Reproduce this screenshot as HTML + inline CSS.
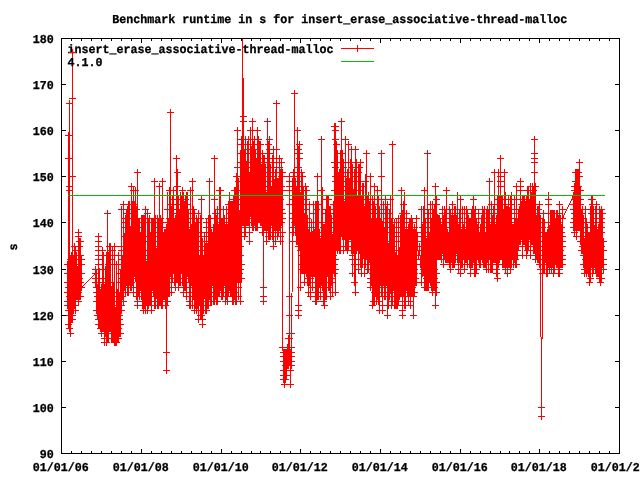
<!DOCTYPE html>
<html lang="en"><head><meta charset="utf-8"><title>Benchmark runtime in s for insert_erase_associative-thread-malloc</title><style>html,body{margin:0;padding:0;background:#fff;overflow:hidden}svg{display:block;will-change:transform}</style></head><body>
<svg width="640" height="480" viewBox="0 0 640 480">
<rect x="0" y="0" width="640" height="480" fill="#fff"/>
<defs><clipPath id="c"><rect x="61" y="38" width="559" height="416"/></clipPath></defs>
<g font-family="'Liberation Mono', 'DejaVu Sans Mono', monospace" font-weight="bold" font-size="12.1" fill="#000" stroke="#000" stroke-width="0.3" text-rendering="geometricPrecision"><text x="67.6" y="53" textLength="266" lengthAdjust="spacingAndGlyphs">insert_erase_associative-thread-malloc</text></g>
<g clip-path="url(#c)" shape-rendering="crispEdges" fill="none" stroke="#f00" stroke-width="1">
<path d="M67.5 292.5L67.5 305.5L67.5 282.5L67.5 305.5L67.5 273.5L67.5 264.5L67.5 301.5L67.5 305.5L67.5 301.5L68.5 305.5L68.5 315.5L68.5 324.5L68.5 324.5L68.5 264.5L68.5 135.5L68.5 264.5L68.5 310.5L68.5 287.5L68.5 158.5L69.5 287.5L69.5 190.5L69.5 328.5L69.5 264.5L69.5 103.5L69.5 282.5L69.5 328.5L69.5 315.5L69.5 296.5L69.5 292.5L69.5 186.5L70.5 333.5L70.5 310.5L70.5 305.5L70.5 292.5L70.5 259.5L70.5 305.5L70.5 278.5L70.5 259.5L70.5 269.5L71.5 315.5L71.5 264.5L71.5 259.5L71.5 278.5L71.5 287.5L71.5 287.5L71.5 255.5L71.5 319.5L72.5 310.5L72.5 176.5L72.5 278.5L72.5 319.5L72.5 278.5L72.5 98.5L72.5 287.5L72.5 52.5L72.5 315.5L72.5 296.5L72.5 287.5L73.5 287.5L73.5 282.5L73.5 259.5L73.5 292.5L73.5 282.5L73.5 259.5L73.5 310.5L73.5 273.5L74.5 287.5L74.5 296.5L74.5 296.5L74.5 246.5L74.5 287.5L74.5 278.5L74.5 305.5L74.5 305.5L75.5 305.5L75.5 296.5L75.5 264.5L75.5 310.5L75.5 250.5L75.5 282.5L75.5 278.5L75.5 310.5L76.5 269.5L76.5 296.5L76.5 255.5L76.5 255.5L76.5 296.5L76.5 255.5L76.5 292.5L76.5 282.5L77.5 296.5L77.5 287.5L77.5 292.5L77.5 273.5L77.5 296.5L77.5 269.5L77.5 296.5L77.5 282.5L78.5 292.5L78.5 259.5L78.5 296.5L78.5 278.5L78.5 236.5L78.5 301.5L78.5 264.5L78.5 282.5L78.5 278.5L78.5 232.5L79.5 296.5L79.5 278.5L79.5 241.5L79.5 296.5L79.5 246.5L79.5 264.5L79.5 296.5L79.5 241.5L80.5 273.5L80.5 264.5L80.5 241.5L80.5 255.5L80.5 296.5L80.5 255.5L80.5 282.5L80.5 241.5L80.5 296.5L81.5 273.5L81.5 273.5L81.5 264.5L81.5 264.5L81.5 273.5L81.5 259.5L81.5 287.5L81.5 259.5L81.5 287.5L95.5 273.5L95.5 282.5L95.5 278.5L95.5 278.5L95.5 269.5L95.5 269.5L95.5 282.5L95.5 282.5L95.5 273.5L95.5 282.5L96.5 292.5L96.5 273.5L96.5 287.5L96.5 282.5L96.5 310.5L96.5 273.5L96.5 310.5L96.5 301.5L96.5 287.5L97.5 315.5L97.5 310.5L97.5 310.5L97.5 315.5L97.5 287.5L97.5 287.5L97.5 296.5L97.5 287.5L97.5 310.5L98.5 292.5L98.5 264.5L98.5 264.5L98.5 269.5L98.5 287.5L98.5 324.5L98.5 250.5L98.5 246.5L98.5 324.5L98.5 287.5L98.5 319.5L98.5 255.5L98.5 259.5L98.5 269.5L98.5 236.5L98.5 241.5L99.5 292.5L99.5 282.5L99.5 296.5L99.5 296.5L99.5 310.5L99.5 319.5L99.5 301.5L99.5 319.5L99.5 324.5L100.5 319.5L100.5 328.5L100.5 296.5L100.5 319.5L100.5 292.5L100.5 301.5L100.5 324.5L100.5 301.5L100.5 315.5L101.5 310.5L101.5 315.5L101.5 296.5L101.5 292.5L101.5 296.5L101.5 333.5L101.5 287.5L101.5 333.5L101.5 305.5L102.5 310.5L102.5 301.5L102.5 324.5L102.5 310.5L102.5 250.5L102.5 296.5L102.5 296.5L102.5 319.5L102.5 328.5L102.5 305.5L103.5 292.5L103.5 301.5L103.5 255.5L103.5 305.5L103.5 287.5L103.5 278.5L103.5 310.5L103.5 296.5L103.5 328.5L103.5 328.5L104.5 305.5L104.5 319.5L104.5 342.5L104.5 328.5L104.5 338.5L104.5 315.5L104.5 292.5L104.5 301.5L104.5 338.5L104.5 287.5L105.5 319.5L105.5 296.5L105.5 305.5L105.5 315.5L105.5 333.5L105.5 269.5L105.5 319.5L105.5 282.5L105.5 269.5L106.5 342.5L106.5 269.5L106.5 338.5L106.5 301.5L106.5 255.5L106.5 310.5L106.5 287.5L106.5 255.5L106.5 301.5L107.5 315.5L107.5 338.5L107.5 213.5L107.5 338.5L107.5 310.5L107.5 315.5L107.5 333.5L107.5 292.5L107.5 305.5L107.5 328.5L108.5 338.5L108.5 319.5L108.5 282.5L108.5 328.5L108.5 292.5L108.5 264.5L108.5 255.5L108.5 305.5L108.5 255.5L109.5 328.5L109.5 287.5L109.5 328.5L109.5 246.5L109.5 315.5L109.5 287.5L109.5 287.5L109.5 328.5L109.5 324.5L109.5 328.5L110.5 255.5L110.5 246.5L110.5 319.5L110.5 319.5L110.5 259.5L110.5 255.5L110.5 328.5L110.5 292.5L110.5 250.5L111.5 328.5L111.5 315.5L111.5 338.5L111.5 333.5L111.5 296.5L111.5 296.5L111.5 296.5L111.5 338.5L111.5 324.5L112.5 250.5L112.5 333.5L112.5 305.5L112.5 305.5L112.5 301.5L112.5 319.5L112.5 301.5L112.5 305.5L112.5 338.5L112.5 319.5L113.5 333.5L113.5 315.5L113.5 338.5L113.5 338.5L113.5 333.5L113.5 338.5L113.5 315.5L113.5 319.5L113.5 319.5L114.5 246.5L114.5 333.5L114.5 310.5L114.5 292.5L114.5 296.5L114.5 324.5L114.5 310.5L114.5 292.5L114.5 315.5L114.5 342.5L115.5 315.5L115.5 338.5L115.5 338.5L115.5 319.5L115.5 319.5L115.5 315.5L115.5 310.5L115.5 342.5L115.5 315.5L116.5 342.5L116.5 342.5L116.5 264.5L116.5 296.5L116.5 315.5L116.5 305.5L116.5 296.5L116.5 319.5L116.5 305.5L116.5 315.5L117.5 319.5L117.5 319.5L117.5 319.5L117.5 292.5L117.5 292.5L117.5 292.5L117.5 310.5L117.5 338.5L117.5 319.5L118.5 324.5L118.5 324.5L118.5 301.5L118.5 255.5L118.5 310.5L118.5 301.5L118.5 315.5L118.5 305.5L118.5 328.5L118.5 338.5L119.5 333.5L119.5 310.5L119.5 315.5L119.5 301.5L119.5 333.5L119.5 319.5L119.5 296.5L119.5 305.5L119.5 315.5L120.5 273.5L120.5 333.5L120.5 333.5L120.5 324.5L120.5 333.5L120.5 273.5L120.5 282.5L120.5 273.5L120.5 305.5L121.5 273.5L121.5 264.5L121.5 301.5L121.5 250.5L121.5 305.5L121.5 259.5L121.5 209.5L121.5 246.5L121.5 310.5L121.5 259.5L122.5 278.5L122.5 296.5L122.5 259.5L122.5 292.5L122.5 259.5L122.5 259.5L122.5 292.5L122.5 269.5L122.5 292.5L123.5 278.5L123.5 204.5L123.5 287.5L123.5 264.5L123.5 264.5L123.5 287.5L123.5 301.5L123.5 287.5L123.5 259.5L123.5 269.5L124.5 273.5L124.5 264.5L124.5 255.5L124.5 287.5L124.5 259.5L124.5 236.5L124.5 236.5L124.5 287.5L124.5 236.5L125.5 259.5L125.5 222.5L125.5 227.5L125.5 292.5L125.5 259.5L125.5 218.5L125.5 255.5L125.5 250.5L125.5 278.5L126.5 213.5L126.5 222.5L126.5 278.5L126.5 278.5L126.5 259.5L126.5 264.5L126.5 227.5L126.5 218.5L126.5 282.5L127.5 209.5L127.5 292.5L127.5 227.5L127.5 236.5L127.5 241.5L127.5 278.5L127.5 246.5L127.5 292.5L127.5 269.5L128.5 292.5L128.5 264.5L128.5 213.5L128.5 227.5L128.5 246.5L128.5 241.5L128.5 209.5L128.5 204.5L128.5 241.5L128.5 264.5L129.5 246.5L129.5 236.5L129.5 236.5L129.5 232.5L129.5 246.5L129.5 236.5L129.5 278.5L129.5 204.5L129.5 282.5L130.5 287.5L130.5 236.5L130.5 255.5L130.5 278.5L130.5 278.5L130.5 255.5L130.5 287.5L130.5 259.5L130.5 269.5L131.5 186.5L131.5 255.5L131.5 278.5L131.5 218.5L131.5 204.5L131.5 227.5L131.5 264.5L131.5 209.5L131.5 287.5L131.5 282.5L132.5 204.5L132.5 255.5L132.5 246.5L132.5 259.5L132.5 213.5L132.5 218.5L132.5 213.5L132.5 246.5L132.5 278.5L133.5 292.5L133.5 259.5L133.5 259.5L133.5 273.5L133.5 250.5L133.5 218.5L133.5 259.5L133.5 190.5L133.5 264.5L133.5 269.5L134.5 204.5L134.5 232.5L134.5 241.5L134.5 269.5L134.5 259.5L134.5 269.5L134.5 209.5L134.5 273.5L134.5 222.5L135.5 227.5L135.5 236.5L135.5 236.5L135.5 278.5L135.5 232.5L135.5 255.5L135.5 190.5L135.5 273.5L135.5 222.5L135.5 278.5L136.5 218.5L136.5 227.5L136.5 255.5L136.5 296.5L136.5 209.5L136.5 287.5L136.5 269.5L136.5 209.5L136.5 292.5L137.5 264.5L137.5 255.5L137.5 301.5L137.5 222.5L137.5 305.5L137.5 246.5L137.5 172.5L137.5 222.5L137.5 246.5L137.5 264.5L138.5 269.5L138.5 241.5L138.5 222.5L138.5 292.5L138.5 236.5L138.5 287.5L138.5 227.5L138.5 292.5L138.5 273.5L139.5 296.5L139.5 278.5L139.5 287.5L139.5 269.5L139.5 282.5L139.5 241.5L139.5 222.5L139.5 227.5L139.5 255.5L140.5 255.5L140.5 273.5L140.5 246.5L140.5 287.5L140.5 236.5L140.5 278.5L140.5 259.5L140.5 246.5L140.5 246.5L141.5 218.5L141.5 296.5L141.5 282.5L141.5 218.5L141.5 292.5L141.5 241.5L141.5 255.5L141.5 232.5L141.5 250.5L142.5 273.5L142.5 241.5L142.5 282.5L142.5 218.5L142.5 218.5L142.5 241.5L142.5 241.5L142.5 236.5L142.5 305.5L143.5 305.5L143.5 301.5L143.5 218.5L143.5 264.5L143.5 236.5L143.5 236.5L143.5 255.5L143.5 218.5L143.5 310.5L144.5 218.5L144.5 218.5L144.5 287.5L144.5 305.5L144.5 269.5L144.5 269.5L144.5 259.5L144.5 282.5L144.5 241.5L145.5 218.5L145.5 209.5L145.5 273.5L145.5 255.5L145.5 218.5L145.5 273.5L145.5 287.5L145.5 310.5L145.5 287.5L145.5 264.5L146.5 278.5L146.5 278.5L146.5 301.5L146.5 301.5L146.5 287.5L146.5 264.5L146.5 292.5L146.5 269.5L146.5 296.5L147.5 278.5L147.5 236.5L147.5 241.5L147.5 236.5L147.5 259.5L147.5 305.5L147.5 213.5L147.5 292.5L147.5 310.5L147.5 305.5L148.5 282.5L148.5 305.5L148.5 305.5L148.5 241.5L148.5 222.5L148.5 236.5L148.5 287.5L148.5 273.5L148.5 287.5L149.5 264.5L149.5 259.5L149.5 236.5L149.5 218.5L149.5 250.5L149.5 287.5L149.5 301.5L149.5 269.5L149.5 236.5L149.5 292.5L150.5 301.5L150.5 259.5L150.5 287.5L150.5 292.5L150.5 264.5L150.5 255.5L150.5 236.5L150.5 273.5L150.5 287.5L151.5 287.5L151.5 301.5L151.5 269.5L151.5 292.5L151.5 264.5L151.5 310.5L151.5 236.5L151.5 222.5L151.5 236.5L151.5 278.5L152.5 250.5L152.5 222.5L152.5 282.5L152.5 278.5L152.5 287.5L152.5 287.5L152.5 222.5L152.5 222.5L152.5 273.5L153.5 232.5L153.5 259.5L153.5 222.5L153.5 292.5L153.5 292.5L153.5 222.5L153.5 250.5L153.5 222.5L153.5 292.5L154.5 296.5L154.5 305.5L154.5 301.5L154.5 222.5L154.5 301.5L154.5 181.5L154.5 301.5L154.5 305.5L154.5 305.5L154.5 287.5L155.5 264.5L155.5 305.5L155.5 278.5L155.5 292.5L155.5 292.5L155.5 287.5L155.5 296.5L155.5 218.5L155.5 236.5L156.5 259.5L156.5 292.5L156.5 255.5L156.5 264.5L156.5 292.5L156.5 264.5L156.5 273.5L156.5 255.5L156.5 292.5L157.5 305.5L157.5 218.5L157.5 264.5L157.5 305.5L157.5 255.5L157.5 292.5L157.5 301.5L157.5 236.5L157.5 278.5L158.5 236.5L158.5 282.5L158.5 273.5L158.5 227.5L158.5 222.5L158.5 296.5L158.5 236.5L158.5 305.5L158.5 292.5L159.5 236.5L159.5 269.5L159.5 222.5L159.5 301.5L159.5 246.5L159.5 241.5L159.5 227.5L159.5 278.5L159.5 222.5L159.5 186.5L160.5 255.5L160.5 218.5L160.5 218.5L160.5 269.5L160.5 236.5L160.5 282.5L160.5 301.5L160.5 269.5L160.5 264.5L161.5 282.5L161.5 287.5L161.5 287.5L161.5 292.5L161.5 278.5L161.5 222.5L161.5 305.5L161.5 292.5L161.5 250.5L162.5 305.5L162.5 246.5L162.5 181.5L162.5 287.5L162.5 305.5L162.5 232.5L162.5 264.5L162.5 241.5L162.5 273.5L162.5 227.5L163.5 292.5L163.5 296.5L163.5 236.5L163.5 273.5L163.5 278.5L163.5 269.5L163.5 246.5L163.5 264.5L163.5 250.5L164.5 287.5L164.5 241.5L164.5 273.5L164.5 250.5L164.5 296.5L164.5 232.5L164.5 236.5L164.5 232.5L164.5 296.5L165.5 236.5L165.5 305.5L165.5 241.5L165.5 232.5L165.5 232.5L165.5 305.5L165.5 232.5L165.5 278.5L165.5 255.5L166.5 227.5L166.5 292.5L166.5 370.5L166.5 241.5L166.5 241.5L166.5 301.5L166.5 246.5L166.5 246.5L166.5 301.5L166.5 296.5L166.5 352.5L167.5 195.5L167.5 195.5L167.5 222.5L167.5 301.5L167.5 273.5L167.5 292.5L167.5 209.5L167.5 209.5L167.5 232.5L168.5 255.5L168.5 292.5L168.5 236.5L168.5 222.5L168.5 232.5L168.5 222.5L168.5 255.5L168.5 292.5L168.5 269.5L169.5 246.5L169.5 209.5L169.5 287.5L169.5 282.5L169.5 236.5L169.5 273.5L169.5 292.5L169.5 218.5L169.5 190.5L170.5 255.5L170.5 218.5L170.5 250.5L170.5 204.5L170.5 246.5L170.5 209.5L170.5 112.5L170.5 222.5L170.5 250.5L170.5 273.5L171.5 222.5L171.5 232.5L171.5 259.5L171.5 209.5L171.5 273.5L171.5 255.5L171.5 292.5L171.5 222.5L171.5 278.5L172.5 213.5L172.5 278.5L172.5 218.5L172.5 218.5L172.5 236.5L172.5 269.5L172.5 227.5L172.5 255.5L172.5 199.5L173.5 269.5L173.5 199.5L173.5 255.5L173.5 250.5L173.5 222.5L173.5 264.5L173.5 190.5L173.5 209.5L173.5 241.5L173.5 218.5L174.5 259.5L174.5 250.5L174.5 222.5L174.5 255.5L174.5 246.5L174.5 222.5L174.5 222.5L174.5 282.5L174.5 264.5L175.5 246.5L175.5 232.5L175.5 282.5L175.5 282.5L175.5 287.5L175.5 287.5L175.5 232.5L175.5 273.5L175.5 218.5L176.5 273.5L176.5 264.5L176.5 209.5L176.5 264.5L176.5 278.5L176.5 255.5L176.5 218.5L176.5 158.5L176.5 278.5L176.5 255.5L177.5 172.5L177.5 195.5L177.5 209.5L177.5 264.5L177.5 273.5L177.5 195.5L177.5 186.5L177.5 278.5L177.5 273.5L177.5 204.5L178.5 218.5L178.5 269.5L178.5 287.5L178.5 287.5L178.5 287.5L178.5 199.5L178.5 227.5L178.5 259.5L178.5 287.5L179.5 282.5L179.5 259.5L179.5 278.5L179.5 213.5L179.5 273.5L179.5 241.5L179.5 264.5L179.5 213.5L179.5 232.5L180.5 195.5L180.5 259.5L180.5 213.5L180.5 278.5L180.5 232.5L180.5 195.5L180.5 282.5L180.5 195.5L180.5 236.5L181.5 227.5L181.5 269.5L181.5 222.5L181.5 232.5L181.5 232.5L181.5 264.5L181.5 222.5L181.5 204.5L181.5 199.5L182.5 190.5L182.5 282.5L182.5 218.5L182.5 246.5L182.5 282.5L182.5 246.5L182.5 236.5L182.5 250.5L182.5 241.5L182.5 199.5L183.5 292.5L183.5 264.5L183.5 213.5L183.5 259.5L183.5 204.5L183.5 195.5L183.5 250.5L183.5 236.5L183.5 222.5L184.5 232.5L184.5 250.5L184.5 278.5L184.5 204.5L184.5 204.5L184.5 213.5L184.5 287.5L184.5 213.5L184.5 255.5L185.5 213.5L185.5 255.5L185.5 282.5L185.5 199.5L185.5 269.5L185.5 232.5L185.5 236.5L185.5 287.5L185.5 218.5L186.5 292.5L186.5 204.5L186.5 269.5L186.5 269.5L186.5 227.5L186.5 213.5L186.5 195.5L186.5 213.5L186.5 296.5L186.5 213.5L187.5 264.5L187.5 273.5L187.5 222.5L187.5 218.5L187.5 195.5L187.5 269.5L187.5 195.5L187.5 269.5L187.5 273.5L188.5 278.5L188.5 269.5L188.5 250.5L188.5 246.5L188.5 269.5L188.5 218.5L188.5 213.5L188.5 232.5L188.5 241.5L189.5 305.5L189.5 232.5L189.5 305.5L189.5 236.5L189.5 232.5L189.5 292.5L189.5 287.5L189.5 259.5L189.5 301.5L190.5 241.5L190.5 282.5L190.5 190.5L190.5 287.5L190.5 209.5L190.5 305.5L190.5 273.5L190.5 236.5L190.5 195.5L190.5 250.5L191.5 236.5L191.5 282.5L191.5 250.5L191.5 259.5L191.5 227.5L191.5 282.5L191.5 259.5L191.5 255.5L191.5 278.5L192.5 287.5L192.5 181.5L192.5 305.5L192.5 273.5L192.5 305.5L192.5 218.5L192.5 269.5L192.5 246.5L192.5 287.5L192.5 246.5L193.5 269.5L193.5 255.5L193.5 282.5L193.5 269.5L193.5 259.5L193.5 209.5L193.5 296.5L193.5 218.5L193.5 227.5L194.5 218.5L194.5 292.5L194.5 310.5L194.5 227.5L194.5 213.5L194.5 273.5L194.5 246.5L194.5 250.5L194.5 292.5L194.5 218.5L195.5 227.5L195.5 232.5L195.5 296.5L195.5 282.5L195.5 296.5L195.5 278.5L195.5 305.5L195.5 282.5L195.5 273.5L196.5 259.5L196.5 305.5L196.5 236.5L196.5 269.5L196.5 236.5L196.5 250.5L196.5 218.5L196.5 310.5L196.5 264.5L197.5 222.5L197.5 282.5L197.5 301.5L197.5 255.5L197.5 305.5L197.5 255.5L197.5 222.5L197.5 305.5L197.5 255.5L198.5 319.5L198.5 292.5L198.5 213.5L198.5 264.5L198.5 246.5L198.5 264.5L198.5 236.5L198.5 259.5L198.5 278.5L198.5 236.5L198.5 296.5L199.5 259.5L199.5 259.5L199.5 287.5L199.5 301.5L199.5 269.5L199.5 264.5L199.5 259.5L199.5 282.5L199.5 301.5L200.5 218.5L200.5 232.5L200.5 315.5L200.5 296.5L200.5 282.5L200.5 236.5L200.5 282.5L200.5 218.5L200.5 296.5L201.5 255.5L201.5 264.5L201.5 255.5L201.5 199.5L201.5 315.5L201.5 292.5L201.5 301.5L201.5 250.5L201.5 273.5L201.5 287.5L202.5 246.5L202.5 319.5L202.5 324.5L202.5 296.5L202.5 292.5L202.5 241.5L202.5 310.5L202.5 259.5L202.5 324.5L202.5 273.5L202.5 305.5L203.5 273.5L203.5 292.5L203.5 305.5L203.5 310.5L203.5 269.5L203.5 264.5L203.5 305.5L203.5 310.5L203.5 259.5L204.5 273.5L204.5 236.5L204.5 255.5L204.5 292.5L204.5 259.5L204.5 255.5L204.5 282.5L204.5 250.5L204.5 287.5L205.5 310.5L205.5 296.5L205.5 246.5L205.5 278.5L205.5 269.5L205.5 269.5L205.5 282.5L205.5 259.5L205.5 264.5L206.5 227.5L206.5 222.5L206.5 310.5L206.5 310.5L206.5 259.5L206.5 232.5L206.5 255.5L206.5 255.5L206.5 287.5L207.5 246.5L207.5 301.5L207.5 273.5L207.5 264.5L207.5 305.5L207.5 259.5L207.5 246.5L207.5 305.5L207.5 282.5L208.5 218.5L208.5 218.5L208.5 292.5L208.5 269.5L208.5 232.5L208.5 287.5L208.5 269.5L208.5 305.5L208.5 236.5L209.5 278.5L209.5 269.5L209.5 296.5L209.5 264.5L209.5 264.5L209.5 273.5L209.5 181.5L209.5 250.5L209.5 278.5L209.5 273.5L210.5 282.5L210.5 218.5L210.5 269.5L210.5 218.5L210.5 218.5L210.5 292.5L210.5 301.5L210.5 246.5L210.5 241.5L211.5 236.5L211.5 259.5L211.5 246.5L211.5 241.5L211.5 296.5L211.5 250.5L211.5 241.5L211.5 301.5L211.5 232.5L212.5 269.5L212.5 255.5L212.5 236.5L212.5 255.5L212.5 250.5L212.5 273.5L212.5 250.5L212.5 282.5L212.5 241.5L213.5 259.5L213.5 259.5L213.5 227.5L213.5 241.5L213.5 227.5L213.5 227.5L213.5 301.5L213.5 278.5L213.5 255.5L214.5 264.5L214.5 236.5L214.5 250.5L214.5 301.5L214.5 250.5L214.5 301.5L214.5 301.5L214.5 282.5L214.5 199.5L214.5 236.5L214.5 158.5L215.5 259.5L215.5 296.5L215.5 292.5L215.5 241.5L215.5 232.5L215.5 287.5L215.5 287.5L215.5 213.5L215.5 259.5L215.5 292.5L216.5 264.5L216.5 296.5L216.5 264.5L216.5 292.5L216.5 278.5L216.5 301.5L216.5 218.5L216.5 218.5L216.5 287.5L217.5 241.5L217.5 301.5L217.5 278.5L217.5 259.5L217.5 292.5L217.5 301.5L217.5 236.5L217.5 292.5L217.5 236.5L217.5 209.5L218.5 282.5L218.5 292.5L218.5 236.5L218.5 278.5L218.5 227.5L218.5 292.5L218.5 282.5L218.5 287.5L218.5 232.5L219.5 232.5L219.5 236.5L219.5 264.5L219.5 227.5L219.5 259.5L219.5 292.5L219.5 278.5L219.5 190.5L219.5 241.5L219.5 222.5L220.5 190.5L220.5 222.5L220.5 232.5L220.5 278.5L220.5 287.5L220.5 255.5L220.5 255.5L220.5 232.5L220.5 227.5L220.5 250.5L221.5 241.5L221.5 264.5L221.5 246.5L221.5 222.5L221.5 259.5L221.5 278.5L221.5 232.5L221.5 222.5L221.5 296.5L222.5 282.5L222.5 269.5L222.5 273.5L222.5 250.5L222.5 287.5L222.5 222.5L222.5 296.5L222.5 264.5L222.5 287.5L223.5 236.5L223.5 292.5L223.5 227.5L223.5 209.5L223.5 250.5L223.5 269.5L223.5 273.5L223.5 241.5L223.5 255.5L223.5 218.5L224.5 282.5L224.5 282.5L224.5 282.5L224.5 255.5L224.5 218.5L224.5 236.5L224.5 269.5L224.5 232.5L224.5 232.5L225.5 301.5L225.5 232.5L225.5 227.5L225.5 301.5L225.5 241.5L225.5 287.5L225.5 250.5L225.5 227.5L225.5 264.5L226.5 296.5L226.5 209.5L226.5 259.5L226.5 287.5L226.5 236.5L226.5 241.5L226.5 246.5L226.5 264.5L226.5 209.5L227.5 273.5L227.5 278.5L227.5 264.5L227.5 227.5L227.5 296.5L227.5 227.5L227.5 301.5L227.5 232.5L227.5 282.5L228.5 273.5L228.5 204.5L228.5 273.5L228.5 259.5L228.5 259.5L228.5 292.5L228.5 292.5L228.5 222.5L228.5 222.5L229.5 259.5L229.5 273.5L229.5 232.5L229.5 269.5L229.5 264.5L229.5 195.5L229.5 287.5L229.5 246.5L229.5 222.5L229.5 218.5L230.5 250.5L230.5 292.5L230.5 204.5L230.5 269.5L230.5 241.5L230.5 282.5L230.5 213.5L230.5 292.5L230.5 287.5L231.5 255.5L231.5 273.5L231.5 287.5L231.5 204.5L231.5 246.5L231.5 269.5L231.5 246.5L231.5 292.5L231.5 269.5L231.5 292.5L232.5 227.5L232.5 204.5L232.5 204.5L232.5 259.5L232.5 287.5L232.5 209.5L232.5 301.5L232.5 213.5L232.5 278.5L233.5 209.5L233.5 199.5L233.5 199.5L233.5 241.5L233.5 273.5L233.5 296.5L233.5 232.5L233.5 301.5L233.5 246.5L234.5 190.5L234.5 227.5L234.5 246.5L234.5 269.5L234.5 232.5L234.5 296.5L234.5 292.5L234.5 269.5L234.5 222.5L234.5 296.5L235.5 190.5L235.5 241.5L235.5 282.5L235.5 259.5L235.5 301.5L235.5 269.5L235.5 301.5L235.5 255.5L235.5 246.5L235.5 278.5L236.5 255.5L236.5 301.5L236.5 241.5L236.5 176.5L236.5 282.5L236.5 232.5L236.5 250.5L236.5 259.5L236.5 259.5L236.5 232.5L237.5 264.5L237.5 250.5L237.5 236.5L237.5 130.5L237.5 213.5L237.5 255.5L237.5 246.5L237.5 167.5L237.5 278.5L237.5 259.5L237.5 241.5L238.5 264.5L238.5 232.5L238.5 236.5L238.5 222.5L238.5 282.5L238.5 287.5L238.5 222.5L238.5 296.5L238.5 181.5L238.5 287.5L239.5 246.5L239.5 273.5L239.5 255.5L239.5 278.5L239.5 222.5L239.5 269.5L239.5 264.5L239.5 213.5L239.5 236.5L240.5 255.5L240.5 199.5L240.5 246.5L240.5 195.5L240.5 278.5L240.5 301.5L240.5 204.5L240.5 269.5L240.5 153.5L241.5 264.5L241.5 278.5L241.5 232.5L241.5 264.5L241.5 139.5L241.5 199.5L241.5 162.5L241.5 144.5L241.5 190.5L241.5 227.5L242.5 181.5L242.5 139.5L242.5 204.5L242.5 222.5L242.5 199.5L242.5 167.5L242.5 139.5L242.5 204.5L242.5 144.5L243.5 116.5L243.5 121.5L243.5 222.5L243.5 176.5L243.5 181.5L243.5 213.5L243.5 181.5L243.5 218.5L243.5 176.5L243.5 176.5L243.5 222.5L244.5 186.5L244.5 213.5L244.5 236.5L244.5 153.5L244.5 232.5L244.5 218.5L244.5 153.5L244.5 172.5L244.5 209.5L245.5 227.5L245.5 139.5L245.5 144.5L245.5 232.5L245.5 195.5L245.5 213.5L245.5 176.5L245.5 213.5L245.5 139.5L246.5 181.5L246.5 195.5L246.5 209.5L246.5 199.5L246.5 181.5L246.5 218.5L246.5 204.5L246.5 222.5L246.5 218.5L247.5 222.5L247.5 172.5L247.5 144.5L247.5 176.5L247.5 149.5L247.5 172.5L247.5 153.5L247.5 190.5L247.5 190.5L248.5 139.5L248.5 195.5L248.5 222.5L248.5 139.5L248.5 213.5L248.5 186.5L248.5 139.5L248.5 176.5L248.5 144.5L249.5 213.5L249.5 176.5L249.5 195.5L249.5 241.5L249.5 213.5L249.5 232.5L249.5 232.5L249.5 186.5L249.5 222.5L249.5 176.5L250.5 213.5L250.5 172.5L250.5 209.5L250.5 190.5L250.5 204.5L250.5 172.5L250.5 213.5L250.5 130.5L250.5 209.5L250.5 167.5L251.5 213.5L251.5 222.5L251.5 176.5L251.5 176.5L251.5 162.5L251.5 149.5L251.5 199.5L251.5 218.5L251.5 218.5L252.5 139.5L252.5 204.5L252.5 199.5L252.5 227.5L252.5 209.5L252.5 218.5L252.5 181.5L252.5 209.5L252.5 121.5L252.5 227.5L253.5 162.5L253.5 227.5L253.5 149.5L253.5 222.5L253.5 190.5L253.5 144.5L253.5 149.5L253.5 158.5L253.5 186.5L254.5 213.5L254.5 139.5L254.5 204.5L254.5 209.5L254.5 222.5L254.5 144.5L254.5 218.5L254.5 222.5L254.5 167.5L255.5 162.5L255.5 172.5L255.5 195.5L255.5 158.5L255.5 162.5L255.5 176.5L255.5 199.5L255.5 227.5L255.5 153.5L256.5 227.5L256.5 199.5L256.5 199.5L256.5 199.5L256.5 162.5L256.5 162.5L256.5 213.5L256.5 162.5L256.5 186.5L257.5 144.5L257.5 190.5L257.5 227.5L257.5 158.5L257.5 199.5L257.5 144.5L257.5 204.5L257.5 130.5L257.5 167.5L257.5 186.5L258.5 153.5L258.5 153.5L258.5 190.5L258.5 190.5L258.5 218.5L258.5 213.5L258.5 167.5L258.5 139.5L258.5 213.5L259.5 195.5L259.5 172.5L259.5 204.5L259.5 158.5L259.5 218.5L259.5 153.5L259.5 144.5L259.5 162.5L259.5 209.5L260.5 222.5L260.5 213.5L260.5 218.5L260.5 222.5L260.5 144.5L260.5 162.5L260.5 209.5L260.5 190.5L260.5 176.5L261.5 209.5L261.5 218.5L261.5 199.5L261.5 167.5L261.5 199.5L261.5 190.5L261.5 218.5L261.5 222.5L261.5 186.5L262.5 153.5L262.5 181.5L262.5 232.5L262.5 153.5L262.5 227.5L262.5 158.5L262.5 232.5L262.5 172.5L262.5 195.5L263.5 232.5L263.5 232.5L263.5 213.5L263.5 301.5L263.5 296.5L263.5 158.5L263.5 172.5L263.5 199.5L263.5 176.5L263.5 213.5L263.5 287.5L263.5 176.5L264.5 162.5L264.5 227.5L264.5 158.5L264.5 181.5L264.5 158.5L264.5 227.5L264.5 162.5L264.5 158.5L264.5 181.5L265.5 227.5L265.5 167.5L265.5 213.5L265.5 222.5L265.5 204.5L265.5 172.5L265.5 190.5L265.5 181.5L265.5 181.5L266.5 204.5L266.5 218.5L266.5 241.5L266.5 218.5L266.5 195.5L266.5 204.5L266.5 227.5L266.5 204.5L266.5 232.5L267.5 199.5L267.5 121.5L267.5 227.5L267.5 199.5L267.5 222.5L267.5 181.5L267.5 209.5L267.5 222.5L267.5 218.5L267.5 204.5L268.5 236.5L268.5 181.5L268.5 172.5L268.5 199.5L268.5 144.5L268.5 204.5L268.5 181.5L268.5 227.5L268.5 186.5L268.5 227.5L269.5 158.5L269.5 153.5L269.5 213.5L269.5 195.5L269.5 139.5L269.5 149.5L269.5 199.5L269.5 190.5L269.5 199.5L269.5 236.5L270.5 195.5L270.5 167.5L270.5 232.5L270.5 232.5L270.5 176.5L270.5 172.5L270.5 236.5L270.5 186.5L270.5 181.5L271.5 218.5L271.5 199.5L271.5 222.5L271.5 218.5L271.5 199.5L271.5 209.5L271.5 190.5L271.5 190.5L271.5 218.5L272.5 162.5L272.5 172.5L272.5 236.5L272.5 236.5L272.5 181.5L272.5 227.5L272.5 167.5L272.5 158.5L272.5 218.5L273.5 246.5L273.5 236.5L273.5 236.5L273.5 176.5L273.5 246.5L273.5 149.5L273.5 218.5L273.5 232.5L273.5 162.5L274.5 195.5L274.5 227.5L274.5 209.5L274.5 204.5L274.5 218.5L274.5 218.5L274.5 213.5L274.5 204.5L274.5 227.5L275.5 172.5L275.5 209.5L275.5 199.5L275.5 241.5L275.5 181.5L275.5 186.5L275.5 222.5L275.5 213.5L275.5 204.5L276.5 227.5L276.5 103.5L276.5 167.5L276.5 227.5L276.5 149.5L276.5 218.5L276.5 149.5L276.5 222.5L276.5 181.5L276.5 149.5L277.5 222.5L277.5 204.5L277.5 204.5L277.5 209.5L277.5 186.5L277.5 222.5L277.5 236.5L277.5 181.5L277.5 236.5L278.5 222.5L278.5 218.5L278.5 218.5L278.5 213.5L278.5 195.5L278.5 190.5L278.5 222.5L278.5 232.5L278.5 199.5L279.5 158.5L279.5 204.5L279.5 209.5L279.5 162.5L279.5 227.5L279.5 209.5L279.5 222.5L279.5 222.5L279.5 167.5L280.5 172.5L280.5 209.5L280.5 236.5L280.5 186.5L280.5 195.5L280.5 199.5L280.5 222.5L280.5 186.5L280.5 241.5L281.5 186.5L281.5 162.5L281.5 176.5L281.5 209.5L281.5 218.5L281.5 176.5L281.5 218.5L281.5 222.5L281.5 186.5L282.5 172.5L282.5 213.5L282.5 176.5L282.5 232.5L282.5 176.5L282.5 190.5L282.5 232.5L282.5 218.5L282.5 172.5L282.5 347.5L283.5 352.5L283.5 370.5L283.5 356.5L283.5 375.5L283.5 361.5L283.5 379.5L283.5 356.5L283.5 370.5L284.5 375.5L284.5 356.5L284.5 384.5L284.5 361.5L284.5 379.5L284.5 352.5L284.5 370.5L284.5 379.5L285.5 365.5L285.5 379.5L285.5 356.5L285.5 375.5L285.5 361.5L285.5 375.5L285.5 352.5L285.5 370.5L286.5 365.5L286.5 352.5L286.5 370.5L286.5 361.5L286.5 375.5L286.5 356.5L286.5 370.5L286.5 361.5L287.5 347.5L287.5 365.5L287.5 352.5L287.5 361.5L287.5 347.5L287.5 361.5L287.5 347.5L287.5 365.5L288.5 361.5L288.5 338.5L288.5 365.5L288.5 347.5L288.5 361.5L288.5 352.5L288.5 361.5L288.5 347.5L289.5 361.5L289.5 347.5L289.5 361.5L289.5 333.5L289.5 315.5L289.5 296.5L289.5 204.5L289.5 195.5L289.5 190.5L289.5 186.5L289.5 181.5L289.5 176.5L289.5 195.5L289.5 338.5L290.5 361.5L290.5 384.5L290.5 352.5L290.5 365.5L290.5 356.5L290.5 370.5L291.5 356.5L291.5 365.5L291.5 347.5L291.5 361.5L291.5 352.5L291.5 365.5L291.5 333.5L291.5 347.5L292.5 241.5L292.5 213.5L292.5 181.5L292.5 218.5L292.5 186.5L292.5 213.5L292.5 241.5L292.5 232.5L292.5 241.5L293.5 199.5L293.5 176.5L293.5 195.5L293.5 227.5L293.5 172.5L293.5 199.5L293.5 232.5L293.5 232.5L293.5 232.5L294.5 213.5L294.5 181.5L294.5 213.5L294.5 222.5L294.5 93.5L294.5 176.5L294.5 172.5L294.5 190.5L294.5 172.5L294.5 190.5L295.5 190.5L295.5 181.5L295.5 195.5L295.5 186.5L295.5 186.5L295.5 195.5L295.5 232.5L295.5 213.5L295.5 181.5L296.5 241.5L296.5 213.5L296.5 213.5L296.5 190.5L296.5 195.5L296.5 241.5L296.5 190.5L296.5 195.5L296.5 195.5L297.5 176.5L297.5 227.5L297.5 130.5L297.5 153.5L297.5 181.5L297.5 172.5L297.5 199.5L297.5 153.5L297.5 181.5L297.5 241.5L298.5 149.5L298.5 305.5L298.5 186.5L298.5 310.5L298.5 218.5L298.5 246.5L298.5 232.5L298.5 315.5L298.5 167.5L298.5 149.5L298.5 213.5L298.5 181.5L299.5 190.5L299.5 246.5L299.5 246.5L299.5 144.5L299.5 153.5L299.5 172.5L299.5 222.5L299.5 218.5L299.5 172.5L299.5 158.5L300.5 287.5L300.5 236.5L300.5 222.5L300.5 199.5L300.5 246.5L300.5 241.5L300.5 250.5L300.5 195.5L300.5 246.5L301.5 204.5L301.5 213.5L301.5 190.5L301.5 195.5L301.5 269.5L301.5 255.5L301.5 172.5L301.5 172.5L301.5 227.5L302.5 246.5L302.5 269.5L302.5 195.5L302.5 176.5L302.5 186.5L302.5 213.5L302.5 264.5L302.5 176.5L302.5 232.5L303.5 264.5L303.5 232.5L303.5 246.5L303.5 199.5L303.5 222.5L303.5 218.5L303.5 269.5L303.5 190.5L303.5 190.5L304.5 264.5L304.5 273.5L304.5 282.5L304.5 259.5L304.5 255.5L304.5 227.5L304.5 227.5L304.5 264.5L304.5 232.5L305.5 195.5L305.5 186.5L305.5 269.5L305.5 190.5L305.5 255.5L305.5 246.5L305.5 204.5L305.5 209.5L305.5 241.5L305.5 232.5L306.5 232.5L306.5 209.5L306.5 190.5L306.5 273.5L306.5 273.5L306.5 199.5L306.5 269.5L306.5 236.5L306.5 259.5L307.5 218.5L307.5 227.5L307.5 264.5L307.5 218.5L307.5 255.5L307.5 232.5L307.5 222.5L307.5 278.5L307.5 282.5L308.5 255.5L308.5 282.5L308.5 255.5L308.5 241.5L308.5 232.5L308.5 241.5L308.5 292.5L308.5 282.5L308.5 232.5L309.5 264.5L309.5 282.5L309.5 241.5L309.5 269.5L309.5 204.5L309.5 236.5L309.5 255.5L309.5 236.5L309.5 255.5L309.5 241.5L310.5 246.5L310.5 278.5L310.5 236.5L310.5 246.5L310.5 255.5L310.5 296.5L310.5 246.5L310.5 269.5L310.5 292.5L311.5 236.5L311.5 269.5L311.5 273.5L311.5 269.5L311.5 250.5L311.5 273.5L311.5 222.5L311.5 269.5L311.5 222.5L312.5 287.5L312.5 246.5L312.5 246.5L312.5 282.5L312.5 287.5L312.5 255.5L312.5 287.5L312.5 255.5L312.5 250.5L313.5 213.5L313.5 273.5L313.5 204.5L313.5 273.5L313.5 250.5L313.5 236.5L313.5 241.5L313.5 222.5L313.5 273.5L314.5 232.5L314.5 246.5L314.5 241.5L314.5 232.5L314.5 273.5L314.5 269.5L314.5 250.5L314.5 255.5L314.5 264.5L315.5 227.5L315.5 301.5L315.5 301.5L315.5 264.5L315.5 273.5L315.5 273.5L315.5 273.5L315.5 204.5L315.5 236.5L316.5 209.5L316.5 209.5L316.5 250.5L316.5 209.5L316.5 301.5L316.5 222.5L316.5 204.5L316.5 222.5L316.5 264.5L317.5 292.5L317.5 273.5L317.5 287.5L317.5 292.5L317.5 232.5L317.5 176.5L317.5 273.5L317.5 241.5L317.5 236.5L317.5 296.5L318.5 259.5L318.5 241.5L318.5 222.5L318.5 269.5L318.5 296.5L318.5 236.5L318.5 204.5L318.5 273.5L318.5 296.5L319.5 278.5L319.5 273.5L319.5 236.5L319.5 232.5L319.5 278.5L319.5 264.5L319.5 246.5L319.5 241.5L319.5 273.5L320.5 292.5L320.5 264.5L320.5 282.5L320.5 292.5L320.5 241.5L320.5 287.5L320.5 255.5L320.5 296.5L320.5 264.5L321.5 250.5L321.5 236.5L321.5 269.5L321.5 250.5L321.5 222.5L321.5 241.5L321.5 190.5L321.5 232.5L321.5 282.5L321.5 232.5L321.5 139.5L322.5 232.5L322.5 282.5L322.5 222.5L322.5 195.5L322.5 287.5L322.5 287.5L322.5 287.5L322.5 273.5L322.5 222.5L322.5 273.5L323.5 301.5L323.5 278.5L323.5 287.5L323.5 227.5L323.5 282.5L323.5 255.5L323.5 227.5L323.5 227.5L323.5 278.5L324.5 255.5L324.5 246.5L324.5 241.5L324.5 305.5L324.5 287.5L324.5 259.5L324.5 227.5L324.5 269.5L324.5 287.5L324.5 250.5L325.5 287.5L325.5 282.5L325.5 213.5L325.5 296.5L325.5 259.5L325.5 287.5L325.5 264.5L325.5 246.5L325.5 282.5L326.5 209.5L326.5 222.5L326.5 269.5L326.5 209.5L326.5 241.5L326.5 236.5L326.5 232.5L326.5 199.5L326.5 296.5L327.5 255.5L327.5 199.5L327.5 273.5L327.5 273.5L327.5 236.5L327.5 232.5L327.5 236.5L327.5 209.5L327.5 222.5L328.5 236.5L328.5 287.5L328.5 209.5L328.5 255.5L328.5 287.5L328.5 241.5L328.5 199.5L328.5 241.5L328.5 255.5L329.5 264.5L329.5 259.5L329.5 209.5L329.5 222.5L329.5 282.5L329.5 209.5L329.5 213.5L329.5 287.5L329.5 255.5L330.5 209.5L330.5 241.5L330.5 232.5L330.5 273.5L330.5 273.5L330.5 255.5L330.5 209.5L330.5 296.5L330.5 209.5L331.5 278.5L331.5 218.5L331.5 246.5L331.5 264.5L331.5 278.5L331.5 278.5L331.5 232.5L331.5 282.5L331.5 282.5L332.5 241.5L332.5 282.5L332.5 241.5L332.5 264.5L332.5 241.5L332.5 292.5L332.5 264.5L332.5 241.5L332.5 259.5L333.5 209.5L333.5 222.5L333.5 227.5L333.5 246.5L333.5 269.5L333.5 204.5L333.5 269.5L333.5 255.5L333.5 250.5L334.5 190.5L334.5 162.5L334.5 264.5L334.5 241.5L334.5 273.5L334.5 232.5L334.5 273.5L334.5 190.5L334.5 126.5L334.5 269.5L335.5 139.5L335.5 292.5L335.5 259.5L335.5 181.5L335.5 130.5L335.5 167.5L335.5 126.5L335.5 269.5L335.5 236.5L335.5 176.5L335.5 250.5L335.5 181.5L336.5 246.5L336.5 181.5L336.5 213.5L336.5 144.5L336.5 213.5L336.5 213.5L336.5 213.5L336.5 241.5L336.5 246.5L336.5 241.5L337.5 250.5L337.5 199.5L337.5 181.5L337.5 218.5L337.5 246.5L337.5 172.5L337.5 153.5L337.5 204.5L337.5 186.5L338.5 176.5L338.5 181.5L338.5 236.5L338.5 176.5L338.5 227.5L338.5 232.5L338.5 181.5L338.5 246.5L338.5 209.5L339.5 250.5L339.5 172.5L339.5 246.5L339.5 172.5L339.5 218.5L339.5 176.5L339.5 250.5L339.5 181.5L339.5 250.5L340.5 236.5L340.5 218.5L340.5 218.5L340.5 153.5L340.5 186.5L340.5 250.5L340.5 190.5L340.5 246.5L340.5 199.5L340.5 186.5L341.5 181.5L341.5 162.5L341.5 204.5L341.5 222.5L341.5 162.5L341.5 199.5L341.5 232.5L341.5 121.5L341.5 204.5L341.5 162.5L342.5 213.5L342.5 227.5L342.5 181.5L342.5 172.5L342.5 153.5L342.5 195.5L342.5 236.5L342.5 222.5L342.5 176.5L342.5 176.5L343.5 162.5L343.5 232.5L343.5 218.5L343.5 204.5L343.5 250.5L343.5 167.5L343.5 176.5L343.5 246.5L343.5 227.5L344.5 236.5L344.5 218.5L344.5 232.5L344.5 232.5L344.5 236.5L344.5 209.5L344.5 204.5L344.5 236.5L344.5 232.5L345.5 246.5L345.5 209.5L345.5 218.5L345.5 172.5L345.5 236.5L345.5 139.5L345.5 172.5L345.5 186.5L345.5 195.5L345.5 172.5L346.5 246.5L346.5 181.5L346.5 190.5L346.5 181.5L346.5 222.5L346.5 246.5L346.5 213.5L346.5 213.5L346.5 199.5L347.5 181.5L347.5 195.5L347.5 218.5L347.5 199.5L347.5 199.5L347.5 232.5L347.5 172.5L347.5 250.5L347.5 199.5L348.5 246.5L348.5 204.5L348.5 222.5L348.5 209.5L348.5 195.5L348.5 144.5L348.5 222.5L348.5 213.5L348.5 181.5L348.5 222.5L349.5 181.5L349.5 218.5L349.5 181.5L349.5 222.5L349.5 213.5L349.5 218.5L349.5 236.5L349.5 181.5L349.5 190.5L350.5 236.5L350.5 213.5L350.5 213.5L350.5 204.5L350.5 236.5L350.5 213.5L350.5 204.5L350.5 162.5L350.5 227.5L351.5 204.5L351.5 213.5L351.5 190.5L351.5 149.5L351.5 181.5L351.5 204.5L351.5 172.5L351.5 250.5L351.5 209.5L351.5 199.5L352.5 232.5L352.5 172.5L352.5 255.5L352.5 204.5L352.5 273.5L352.5 241.5L352.5 167.5L352.5 199.5L352.5 259.5L352.5 181.5L353.5 195.5L353.5 236.5L353.5 246.5L353.5 209.5L353.5 222.5L353.5 204.5L353.5 218.5L353.5 250.5L353.5 209.5L354.5 222.5L354.5 232.5L354.5 172.5L354.5 232.5L354.5 264.5L354.5 282.5L354.5 264.5L354.5 259.5L354.5 264.5L354.5 190.5L355.5 204.5L355.5 246.5L355.5 162.5L355.5 149.5L355.5 209.5L355.5 292.5L355.5 250.5L355.5 209.5L355.5 195.5L355.5 162.5L355.5 176.5L356.5 236.5L356.5 176.5L356.5 199.5L356.5 250.5L356.5 181.5L356.5 176.5L356.5 162.5L356.5 241.5L356.5 209.5L357.5 204.5L357.5 222.5L357.5 213.5L357.5 222.5L357.5 246.5L357.5 246.5L357.5 199.5L357.5 218.5L357.5 209.5L358.5 209.5L358.5 222.5L358.5 259.5L358.5 250.5L358.5 269.5L358.5 195.5L358.5 172.5L358.5 213.5L358.5 167.5L359.5 204.5L359.5 227.5L359.5 195.5L359.5 218.5L359.5 227.5L359.5 190.5L359.5 167.5L359.5 250.5L359.5 190.5L360.5 246.5L360.5 250.5L360.5 236.5L360.5 199.5L360.5 264.5L360.5 162.5L360.5 195.5L360.5 236.5L360.5 181.5L360.5 209.5L361.5 250.5L361.5 236.5L361.5 222.5L361.5 273.5L361.5 250.5L361.5 250.5L361.5 204.5L361.5 236.5L361.5 199.5L361.5 204.5L362.5 232.5L362.5 232.5L362.5 222.5L362.5 250.5L362.5 204.5L362.5 264.5L362.5 264.5L362.5 209.5L362.5 186.5L363.5 232.5L363.5 250.5L363.5 255.5L363.5 236.5L363.5 222.5L363.5 209.5L363.5 204.5L363.5 186.5L363.5 209.5L364.5 250.5L364.5 246.5L364.5 236.5L364.5 246.5L364.5 246.5L364.5 227.5L364.5 273.5L364.5 236.5L364.5 227.5L364.5 209.5L365.5 222.5L365.5 209.5L365.5 264.5L365.5 181.5L365.5 222.5L365.5 181.5L365.5 195.5L365.5 209.5L365.5 195.5L366.5 153.5L366.5 241.5L366.5 209.5L366.5 232.5L366.5 241.5L366.5 232.5L366.5 241.5L366.5 218.5L366.5 195.5L366.5 255.5L367.5 236.5L367.5 269.5L367.5 255.5L367.5 218.5L367.5 199.5L367.5 236.5L367.5 218.5L367.5 227.5L367.5 264.5L368.5 213.5L368.5 269.5L368.5 199.5L368.5 195.5L368.5 246.5L368.5 195.5L368.5 250.5L368.5 269.5L368.5 246.5L369.5 222.5L369.5 222.5L369.5 227.5L369.5 209.5L369.5 246.5L369.5 259.5L369.5 209.5L369.5 204.5L369.5 250.5L370.5 255.5L370.5 287.5L370.5 264.5L370.5 204.5L370.5 278.5L370.5 287.5L370.5 241.5L370.5 176.5L370.5 282.5L370.5 222.5L371.5 222.5L371.5 264.5L371.5 255.5L371.5 282.5L371.5 222.5L371.5 222.5L371.5 246.5L371.5 250.5L371.5 282.5L372.5 278.5L372.5 273.5L372.5 199.5L372.5 259.5L372.5 199.5L372.5 305.5L372.5 227.5L372.5 246.5L372.5 273.5L373.5 232.5L373.5 204.5L373.5 227.5L373.5 301.5L373.5 241.5L373.5 278.5L373.5 218.5L373.5 259.5L373.5 236.5L374.5 255.5L374.5 301.5L374.5 292.5L374.5 204.5L374.5 287.5L374.5 246.5L374.5 186.5L374.5 241.5L374.5 246.5L374.5 250.5L375.5 232.5L375.5 292.5L375.5 209.5L375.5 236.5L375.5 292.5L375.5 273.5L375.5 250.5L375.5 269.5L375.5 213.5L376.5 255.5L376.5 236.5L376.5 301.5L376.5 282.5L376.5 222.5L376.5 301.5L376.5 232.5L376.5 264.5L376.5 232.5L377.5 296.5L377.5 218.5L377.5 241.5L377.5 246.5L377.5 296.5L377.5 190.5L377.5 218.5L377.5 287.5L377.5 259.5L377.5 246.5L378.5 264.5L378.5 287.5L378.5 222.5L378.5 241.5L378.5 199.5L378.5 301.5L378.5 282.5L378.5 287.5L378.5 296.5L379.5 287.5L379.5 273.5L379.5 310.5L379.5 250.5L379.5 282.5L379.5 209.5L379.5 269.5L379.5 287.5L379.5 292.5L379.5 269.5L380.5 222.5L380.5 255.5L380.5 278.5L380.5 255.5L380.5 255.5L380.5 259.5L380.5 282.5L380.5 259.5L380.5 222.5L381.5 227.5L381.5 176.5L381.5 227.5L381.5 292.5L381.5 213.5L381.5 209.5L381.5 153.5L381.5 287.5L381.5 227.5L381.5 292.5L381.5 209.5L382.5 232.5L382.5 227.5L382.5 278.5L382.5 305.5L382.5 305.5L382.5 310.5L382.5 232.5L382.5 246.5L382.5 305.5L382.5 255.5L383.5 282.5L383.5 259.5L383.5 204.5L383.5 246.5L383.5 236.5L383.5 204.5L383.5 236.5L383.5 282.5L383.5 236.5L384.5 296.5L384.5 296.5L384.5 292.5L384.5 246.5L384.5 246.5L384.5 269.5L384.5 292.5L384.5 287.5L384.5 255.5L385.5 199.5L385.5 296.5L385.5 204.5L385.5 269.5L385.5 255.5L385.5 287.5L385.5 259.5L385.5 259.5L385.5 246.5L386.5 213.5L386.5 264.5L386.5 282.5L386.5 264.5L386.5 209.5L386.5 278.5L386.5 241.5L386.5 278.5L386.5 269.5L387.5 241.5L387.5 259.5L387.5 204.5L387.5 218.5L387.5 246.5L387.5 222.5L387.5 278.5L387.5 315.5L387.5 287.5L387.5 282.5L388.5 305.5L388.5 246.5L388.5 246.5L388.5 287.5L388.5 292.5L388.5 250.5L388.5 287.5L388.5 305.5L388.5 292.5L389.5 264.5L389.5 232.5L389.5 213.5L389.5 227.5L389.5 292.5L389.5 222.5L389.5 241.5L389.5 296.5L389.5 250.5L390.5 227.5L390.5 278.5L390.5 241.5L390.5 241.5L390.5 259.5L390.5 199.5L390.5 218.5L390.5 250.5L390.5 246.5L390.5 282.5L391.5 305.5L391.5 222.5L391.5 259.5L391.5 292.5L391.5 278.5L391.5 305.5L391.5 241.5L391.5 264.5L391.5 241.5L392.5 292.5L392.5 241.5L392.5 273.5L392.5 222.5L392.5 222.5L392.5 269.5L392.5 301.5L392.5 144.5L392.5 292.5L392.5 301.5L393.5 269.5L393.5 287.5L393.5 236.5L393.5 246.5L393.5 287.5L393.5 264.5L393.5 227.5L393.5 282.5L393.5 250.5L394.5 222.5L394.5 259.5L394.5 232.5L394.5 305.5L394.5 222.5L394.5 250.5L394.5 296.5L394.5 305.5L394.5 250.5L395.5 305.5L395.5 278.5L395.5 255.5L395.5 305.5L395.5 264.5L395.5 269.5L395.5 259.5L395.5 305.5L395.5 278.5L396.5 264.5L396.5 292.5L396.5 222.5L396.5 282.5L396.5 305.5L396.5 222.5L396.5 232.5L396.5 222.5L396.5 292.5L397.5 273.5L397.5 264.5L397.5 282.5L397.5 278.5L397.5 305.5L397.5 301.5L397.5 278.5L397.5 259.5L397.5 292.5L398.5 255.5L398.5 241.5L398.5 218.5L398.5 292.5L398.5 292.5L398.5 259.5L398.5 301.5L398.5 255.5L398.5 292.5L399.5 287.5L399.5 250.5L399.5 264.5L399.5 250.5L399.5 278.5L399.5 296.5L399.5 250.5L399.5 292.5L399.5 296.5L400.5 236.5L400.5 259.5L400.5 218.5L400.5 278.5L400.5 259.5L400.5 292.5L400.5 282.5L400.5 292.5L400.5 227.5L401.5 273.5L401.5 282.5L401.5 264.5L401.5 282.5L401.5 218.5L401.5 190.5L401.5 232.5L401.5 287.5L401.5 282.5L401.5 292.5L402.5 278.5L402.5 269.5L402.5 269.5L402.5 218.5L402.5 227.5L402.5 315.5L402.5 269.5L402.5 287.5L402.5 213.5L402.5 310.5L402.5 218.5L403.5 204.5L403.5 269.5L403.5 292.5L403.5 255.5L403.5 213.5L403.5 227.5L403.5 269.5L403.5 241.5L403.5 232.5L403.5 227.5L404.5 232.5L404.5 255.5L404.5 259.5L404.5 305.5L404.5 241.5L404.5 296.5L404.5 278.5L404.5 195.5L404.5 301.5L404.5 264.5L405.5 232.5L405.5 301.5L405.5 305.5L405.5 269.5L405.5 305.5L405.5 246.5L405.5 246.5L405.5 282.5L405.5 264.5L406.5 213.5L406.5 282.5L406.5 250.5L406.5 218.5L406.5 236.5L406.5 259.5L406.5 222.5L406.5 241.5L406.5 287.5L407.5 292.5L407.5 292.5L407.5 269.5L407.5 232.5L407.5 264.5L407.5 269.5L407.5 273.5L407.5 255.5L407.5 292.5L408.5 255.5L408.5 232.5L408.5 227.5L408.5 296.5L408.5 241.5L408.5 301.5L408.5 282.5L408.5 236.5L408.5 264.5L409.5 264.5L409.5 241.5L409.5 292.5L409.5 232.5L409.5 222.5L409.5 287.5L409.5 232.5L409.5 273.5L409.5 278.5L410.5 287.5L410.5 255.5L410.5 278.5L410.5 301.5L410.5 259.5L410.5 305.5L410.5 222.5L410.5 259.5L410.5 292.5L411.5 218.5L411.5 278.5L411.5 264.5L411.5 282.5L411.5 218.5L411.5 259.5L411.5 292.5L411.5 218.5L411.5 227.5L412.5 222.5L412.5 287.5L412.5 236.5L412.5 227.5L412.5 255.5L412.5 250.5L412.5 292.5L412.5 222.5L412.5 222.5L413.5 296.5L413.5 241.5L413.5 264.5L413.5 315.5L413.5 241.5L413.5 232.5L413.5 241.5L413.5 292.5L413.5 246.5L413.5 278.5L414.5 273.5L414.5 259.5L414.5 241.5L414.5 255.5L414.5 227.5L414.5 255.5L414.5 227.5L414.5 269.5L414.5 292.5L415.5 264.5L415.5 232.5L415.5 246.5L415.5 241.5L415.5 241.5L415.5 241.5L415.5 278.5L415.5 264.5L415.5 282.5L416.5 282.5L416.5 250.5L416.5 218.5L417.5 246.5L418.5 255.5L419.5 246.5L420.5 264.5L421.5 264.5L421.5 209.5L421.5 259.5L421.5 264.5L421.5 209.5L421.5 236.5L421.5 241.5L421.5 209.5L421.5 282.5L422.5 250.5L422.5 250.5L422.5 232.5L422.5 241.5L422.5 227.5L422.5 241.5L422.5 264.5L422.5 236.5L422.5 273.5L423.5 209.5L423.5 269.5L423.5 236.5L423.5 232.5L423.5 227.5L423.5 269.5L423.5 255.5L423.5 269.5L423.5 264.5L424.5 287.5L424.5 246.5L424.5 264.5L424.5 282.5L424.5 287.5L424.5 222.5L424.5 282.5L424.5 236.5L424.5 190.5L424.5 222.5L425.5 222.5L425.5 222.5L425.5 287.5L425.5 282.5L425.5 236.5L425.5 269.5L425.5 273.5L425.5 269.5L425.5 287.5L426.5 287.5L426.5 287.5L426.5 241.5L426.5 250.5L426.5 269.5L426.5 269.5L426.5 273.5L426.5 259.5L426.5 278.5L427.5 264.5L427.5 227.5L427.5 287.5L427.5 269.5L427.5 218.5L427.5 213.5L427.5 264.5L427.5 213.5L427.5 153.5L427.5 232.5L428.5 227.5L428.5 246.5L428.5 287.5L428.5 241.5L428.5 213.5L428.5 287.5L428.5 250.5L428.5 269.5L428.5 259.5L429.5 264.5L429.5 273.5L429.5 269.5L429.5 269.5L429.5 236.5L429.5 278.5L429.5 250.5L429.5 241.5L429.5 250.5L430.5 218.5L430.5 204.5L430.5 213.5L430.5 282.5L430.5 209.5L430.5 255.5L430.5 255.5L430.5 269.5L430.5 282.5L431.5 232.5L431.5 255.5L431.5 241.5L431.5 269.5L431.5 236.5L431.5 282.5L431.5 278.5L431.5 222.5L431.5 287.5L432.5 282.5L432.5 250.5L432.5 269.5L432.5 222.5L432.5 292.5L432.5 292.5L432.5 204.5L432.5 255.5L432.5 255.5L433.5 259.5L433.5 287.5L433.5 232.5L433.5 236.5L433.5 213.5L433.5 241.5L433.5 287.5L433.5 255.5L433.5 282.5L434.5 232.5L434.5 278.5L434.5 227.5L434.5 222.5L434.5 287.5L434.5 269.5L434.5 259.5L434.5 255.5L434.5 222.5L435.5 186.5L435.5 282.5L435.5 305.5L435.5 241.5L435.5 246.5L435.5 246.5L435.5 292.5L435.5 292.5L435.5 259.5L435.5 273.5L435.5 292.5L436.5 218.5L436.5 292.5L436.5 273.5L436.5 282.5L436.5 259.5L436.5 246.5L436.5 204.5L436.5 246.5L436.5 199.5L436.5 204.5L437.5 222.5L437.5 227.5L437.5 255.5L438.5 250.5L438.5 255.5L438.5 218.5L439.5 227.5L439.5 218.5L439.5 255.5L440.5 222.5L440.5 236.5L440.5 255.5L441.5 259.5L441.5 255.5L441.5 241.5L441.5 250.5L441.5 232.5L441.5 250.5L441.5 250.5L441.5 246.5L441.5 227.5L442.5 250.5L442.5 232.5L442.5 227.5L442.5 222.5L442.5 241.5L442.5 250.5L442.5 213.5L442.5 222.5L442.5 209.5L443.5 250.5L443.5 241.5L443.5 236.5L443.5 246.5L443.5 218.5L443.5 232.5L443.5 246.5L443.5 222.5L443.5 264.5L444.5 213.5L444.5 255.5L444.5 236.5L444.5 209.5L444.5 236.5L444.5 213.5L444.5 246.5L444.5 209.5L444.5 222.5L445.5 241.5L445.5 246.5L445.5 213.5L445.5 259.5L445.5 236.5L445.5 241.5L445.5 236.5L445.5 222.5L445.5 222.5L446.5 241.5L446.5 255.5L446.5 227.5L446.5 236.5L446.5 232.5L446.5 241.5L446.5 246.5L446.5 190.5L446.5 250.5L446.5 259.5L447.5 236.5L447.5 236.5L447.5 232.5L447.5 250.5L447.5 259.5L447.5 246.5L447.5 255.5L447.5 241.5L447.5 236.5L448.5 259.5L448.5 259.5L448.5 236.5L448.5 241.5L448.5 236.5L448.5 259.5L448.5 255.5L448.5 236.5L448.5 236.5L449.5 250.5L449.5 227.5L449.5 264.5L449.5 209.5L449.5 259.5L449.5 222.5L449.5 241.5L449.5 232.5L449.5 227.5L450.5 269.5L450.5 236.5L450.5 218.5L450.5 232.5L450.5 232.5L450.5 213.5L450.5 264.5L450.5 236.5L450.5 264.5L450.5 250.5L451.5 218.5L451.5 236.5L451.5 246.5L451.5 227.5L451.5 241.5L451.5 259.5L451.5 246.5L451.5 218.5L451.5 259.5L452.5 255.5L452.5 264.5L452.5 227.5L452.5 204.5L452.5 246.5L452.5 227.5L452.5 250.5L452.5 232.5L452.5 236.5L452.5 241.5L453.5 246.5L453.5 246.5L453.5 218.5L453.5 218.5L453.5 236.5L453.5 246.5L453.5 227.5L453.5 264.5L453.5 218.5L454.5 232.5L454.5 241.5L454.5 213.5L454.5 250.5L454.5 232.5L454.5 241.5L454.5 264.5L454.5 209.5L454.5 218.5L455.5 232.5L455.5 232.5L455.5 259.5L455.5 259.5L455.5 209.5L455.5 246.5L455.5 222.5L455.5 250.5L455.5 255.5L456.5 250.5L456.5 250.5L456.5 250.5L456.5 236.5L456.5 227.5L456.5 218.5L456.5 236.5L456.5 250.5L456.5 246.5L457.5 241.5L457.5 222.5L457.5 195.5L457.5 209.5L457.5 218.5L457.5 232.5L457.5 255.5L457.5 222.5L457.5 259.5L457.5 227.5L458.5 241.5L458.5 227.5L458.5 250.5L458.5 227.5L458.5 269.5L458.5 241.5L458.5 232.5L458.5 236.5L458.5 250.5L458.5 232.5L459.5 232.5L459.5 259.5L459.5 259.5L459.5 213.5L459.5 218.5L459.5 213.5L459.5 227.5L459.5 232.5L459.5 218.5L460.5 273.5L460.5 250.5L460.5 246.5L460.5 264.5L460.5 264.5L460.5 232.5L460.5 255.5L460.5 241.5L460.5 264.5L460.5 199.5L460.5 250.5L461.5 255.5L461.5 241.5L461.5 264.5L461.5 232.5L461.5 232.5L461.5 246.5L461.5 246.5L461.5 264.5L461.5 232.5L462.5 227.5L462.5 213.5L462.5 209.5L462.5 264.5L462.5 246.5L462.5 222.5L462.5 209.5L462.5 264.5L462.5 259.5L463.5 227.5L463.5 250.5L463.5 236.5L463.5 241.5L463.5 227.5L463.5 232.5L463.5 255.5L463.5 255.5L463.5 227.5L464.5 250.5L464.5 269.5L464.5 222.5L464.5 255.5L464.5 227.5L464.5 209.5L464.5 241.5L464.5 255.5L464.5 255.5L464.5 264.5L465.5 259.5L465.5 259.5L465.5 241.5L465.5 259.5L465.5 255.5L465.5 246.5L465.5 232.5L465.5 232.5L465.5 232.5L466.5 236.5L466.5 209.5L466.5 209.5L466.5 213.5L466.5 259.5L466.5 232.5L466.5 227.5L466.5 232.5L466.5 255.5L466.5 259.5L467.5 259.5L467.5 232.5L467.5 264.5L467.5 241.5L467.5 213.5L467.5 250.5L467.5 250.5L467.5 236.5L467.5 246.5L468.5 227.5L468.5 236.5L468.5 241.5L468.5 236.5L468.5 222.5L468.5 218.5L468.5 255.5L468.5 250.5L468.5 218.5L469.5 259.5L469.5 246.5L469.5 222.5L469.5 264.5L469.5 236.5L469.5 255.5L469.5 236.5L469.5 255.5L469.5 227.5L470.5 246.5L470.5 273.5L470.5 241.5L470.5 232.5L470.5 236.5L470.5 222.5L470.5 222.5L470.5 259.5L470.5 259.5L470.5 227.5L471.5 259.5L471.5 213.5L471.5 218.5L471.5 236.5L471.5 218.5L471.5 232.5L471.5 241.5L471.5 236.5L471.5 264.5L472.5 241.5L472.5 227.5L472.5 227.5L472.5 241.5L472.5 264.5L472.5 246.5L472.5 236.5L472.5 236.5L472.5 209.5L473.5 227.5L473.5 227.5L473.5 232.5L473.5 199.5L473.5 222.5L473.5 213.5L473.5 241.5L473.5 246.5L473.5 246.5L473.5 259.5L474.5 264.5L474.5 213.5L474.5 273.5L474.5 269.5L474.5 246.5L474.5 269.5L474.5 222.5L474.5 255.5L474.5 241.5L474.5 264.5L475.5 236.5L475.5 209.5L475.5 232.5L475.5 209.5L475.5 209.5L475.5 259.5L475.5 213.5L475.5 273.5L475.5 218.5L475.5 250.5L476.5 222.5L476.5 269.5L476.5 236.5L476.5 250.5L476.5 269.5L476.5 246.5L476.5 222.5L476.5 236.5L476.5 241.5L477.5 241.5L477.5 227.5L477.5 255.5L477.5 236.5L477.5 227.5L477.5 255.5L477.5 255.5L477.5 227.5L477.5 255.5L478.5 241.5L478.5 213.5L478.5 236.5L478.5 259.5L478.5 241.5L478.5 250.5L478.5 213.5L478.5 259.5L478.5 227.5L479.5 264.5L479.5 241.5L479.5 255.5L479.5 236.5L479.5 259.5L479.5 246.5L479.5 264.5L479.5 264.5L479.5 255.5L480.5 250.5L480.5 227.5L480.5 264.5L480.5 241.5L480.5 227.5L480.5 264.5L480.5 232.5L480.5 246.5L480.5 246.5L481.5 232.5L481.5 232.5L481.5 250.5L481.5 218.5L481.5 250.5L481.5 246.5L481.5 241.5L481.5 232.5L481.5 255.5L482.5 241.5L482.5 255.5L482.5 246.5L482.5 246.5L482.5 250.5L482.5 232.5L482.5 209.5L482.5 255.5L482.5 255.5L482.5 259.5L483.5 264.5L483.5 264.5L483.5 250.5L483.5 250.5L483.5 218.5L483.5 218.5L483.5 236.5L483.5 218.5L483.5 213.5L484.5 218.5L484.5 222.5L484.5 264.5L484.5 255.5L484.5 227.5L484.5 209.5L484.5 255.5L484.5 259.5L484.5 209.5L485.5 259.5L485.5 264.5L485.5 246.5L485.5 259.5L485.5 236.5L485.5 246.5L485.5 250.5L485.5 264.5L485.5 250.5L486.5 250.5L486.5 222.5L486.5 213.5L486.5 269.5L486.5 213.5L486.5 241.5L486.5 264.5L486.5 269.5L486.5 232.5L487.5 209.5L487.5 259.5L487.5 255.5L487.5 246.5L487.5 218.5L487.5 232.5L487.5 213.5L487.5 213.5L487.5 209.5L488.5 259.5L488.5 250.5L488.5 269.5L488.5 227.5L488.5 232.5L488.5 213.5L488.5 269.5L488.5 236.5L488.5 250.5L489.5 181.5L489.5 255.5L489.5 250.5L489.5 227.5L489.5 255.5L489.5 222.5L489.5 227.5L489.5 255.5L489.5 218.5L489.5 213.5L490.5 264.5L490.5 255.5L490.5 250.5L490.5 227.5L490.5 264.5L490.5 236.5L490.5 250.5L490.5 241.5L490.5 269.5L491.5 204.5L491.5 236.5L491.5 204.5L491.5 259.5L491.5 269.5L491.5 269.5L491.5 269.5L491.5 264.5L491.5 241.5L492.5 269.5L492.5 255.5L492.5 232.5L492.5 218.5L492.5 218.5L492.5 264.5L492.5 255.5L492.5 246.5L492.5 246.5L493.5 209.5L493.5 218.5L493.5 232.5L493.5 213.5L493.5 259.5L493.5 259.5L493.5 250.5L493.5 236.5L493.5 232.5L494.5 232.5L494.5 255.5L494.5 227.5L494.5 172.5L494.5 259.5L494.5 227.5L494.5 236.5L494.5 259.5L494.5 204.5L494.5 209.5L495.5 241.5L495.5 227.5L495.5 227.5L495.5 227.5L495.5 246.5L495.5 246.5L495.5 259.5L495.5 259.5L495.5 227.5L496.5 273.5L496.5 236.5L496.5 218.5L496.5 236.5L496.5 264.5L496.5 259.5L496.5 227.5L496.5 269.5L496.5 222.5L496.5 227.5L497.5 209.5L497.5 209.5L497.5 222.5L497.5 236.5L497.5 209.5L497.5 250.5L497.5 199.5L497.5 259.5L497.5 199.5L497.5 278.5L498.5 222.5L498.5 246.5L498.5 227.5L498.5 241.5L498.5 264.5L498.5 255.5L498.5 227.5L498.5 222.5L498.5 172.5L498.5 250.5L499.5 218.5L499.5 199.5L499.5 236.5L499.5 259.5L499.5 250.5L499.5 246.5L499.5 209.5L499.5 246.5L499.5 227.5L500.5 172.5L500.5 181.5L500.5 204.5L500.5 218.5L500.5 186.5L500.5 209.5L500.5 255.5L500.5 246.5L500.5 158.5L500.5 227.5L500.5 241.5L500.5 176.5L500.5 232.5L500.5 236.5L501.5 255.5L501.5 241.5L501.5 250.5L501.5 232.5L501.5 199.5L501.5 218.5L501.5 222.5L501.5 236.5L501.5 250.5L502.5 218.5L502.5 264.5L502.5 222.5L502.5 259.5L502.5 204.5L502.5 199.5L502.5 227.5L502.5 204.5L502.5 204.5L503.5 246.5L503.5 213.5L503.5 259.5L503.5 264.5L503.5 213.5L503.5 250.5L503.5 227.5L503.5 222.5L503.5 213.5L504.5 218.5L504.5 255.5L504.5 241.5L504.5 246.5L504.5 213.5L504.5 250.5L504.5 264.5L504.5 236.5L504.5 172.5L504.5 218.5L505.5 222.5L505.5 227.5L505.5 209.5L505.5 195.5L505.5 269.5L505.5 259.5L505.5 218.5L505.5 250.5L505.5 204.5L505.5 250.5L505.5 232.5L506.5 255.5L506.5 227.5L506.5 209.5L506.5 218.5L506.5 236.5L506.5 241.5L506.5 264.5L506.5 218.5L506.5 246.5L507.5 218.5L507.5 222.5L507.5 227.5L507.5 255.5L507.5 255.5L507.5 209.5L507.5 209.5L507.5 236.5L507.5 259.5L507.5 273.5L508.5 199.5L508.5 199.5L508.5 213.5L508.5 209.5L508.5 209.5L508.5 236.5L508.5 255.5L508.5 264.5L508.5 199.5L509.5 213.5L509.5 241.5L509.5 264.5L509.5 213.5L509.5 213.5L509.5 246.5L509.5 227.5L509.5 259.5L509.5 241.5L510.5 264.5L510.5 250.5L510.5 213.5L510.5 199.5L510.5 259.5L510.5 269.5L510.5 246.5L510.5 204.5L510.5 199.5L510.5 218.5L510.5 218.5L511.5 195.5L511.5 209.5L511.5 204.5L511.5 222.5L511.5 264.5L511.5 218.5L511.5 213.5L511.5 218.5L511.5 232.5L511.5 199.5L512.5 255.5L512.5 246.5L512.5 246.5L512.5 232.5L512.5 227.5L512.5 255.5L512.5 227.5L512.5 250.5L512.5 227.5L513.5 232.5L513.5 264.5L513.5 264.5L513.5 227.5L513.5 241.5L513.5 227.5L513.5 232.5L513.5 227.5L513.5 255.5L514.5 241.5L514.5 199.5L514.5 259.5L514.5 227.5L514.5 213.5L514.5 246.5L514.5 213.5L514.5 255.5L514.5 227.5L515.5 264.5L515.5 236.5L515.5 227.5L515.5 241.5L515.5 259.5L515.5 250.5L515.5 222.5L515.5 255.5L515.5 227.5L516.5 236.5L516.5 264.5L516.5 227.5L516.5 209.5L516.5 222.5L516.5 186.5L516.5 209.5L516.5 246.5L516.5 213.5L516.5 218.5L517.5 250.5L517.5 255.5L517.5 222.5L517.5 232.5L517.5 255.5L517.5 222.5L517.5 246.5L517.5 236.5L517.5 241.5L518.5 222.5L518.5 246.5L518.5 241.5L518.5 213.5L518.5 241.5L518.5 232.5L518.5 246.5L518.5 213.5L518.5 246.5L519.5 236.5L519.5 218.5L519.5 241.5L519.5 213.5L519.5 241.5L519.5 213.5L519.5 222.5L519.5 209.5L519.5 241.5L520.5 186.5L520.5 209.5L520.5 199.5L520.5 241.5L520.5 236.5L520.5 218.5L520.5 181.5L520.5 209.5L520.5 236.5L520.5 190.5L520.5 232.5L520.5 227.5L521.5 236.5L521.5 209.5L521.5 227.5L521.5 236.5L521.5 204.5L521.5 209.5L521.5 213.5L521.5 204.5L521.5 227.5L522.5 241.5L522.5 232.5L522.5 241.5L522.5 218.5L522.5 255.5L522.5 218.5L522.5 204.5L522.5 241.5L522.5 241.5L522.5 241.5L522.5 199.5L523.5 218.5L523.5 236.5L523.5 213.5L523.5 218.5L523.5 199.5L523.5 213.5L523.5 241.5L523.5 232.5L523.5 209.5L524.5 209.5L524.5 199.5L524.5 236.5L524.5 199.5L524.5 218.5L524.5 232.5L524.5 241.5L524.5 209.5L524.5 213.5L525.5 213.5L525.5 209.5L525.5 213.5L525.5 204.5L525.5 218.5L525.5 218.5L525.5 246.5L525.5 232.5L525.5 232.5L526.5 199.5L526.5 246.5L526.5 241.5L526.5 213.5L526.5 255.5L526.5 218.5L526.5 246.5L526.5 213.5L526.5 199.5L526.5 199.5L527.5 209.5L527.5 250.5L527.5 246.5L527.5 190.5L527.5 227.5L527.5 232.5L527.5 232.5L527.5 246.5L527.5 222.5L527.5 209.5L527.5 246.5L528.5 246.5L528.5 199.5L528.5 195.5L528.5 227.5L528.5 213.5L528.5 222.5L528.5 199.5L528.5 190.5L528.5 204.5L529.5 236.5L529.5 222.5L529.5 218.5L529.5 236.5L529.5 236.5L529.5 222.5L529.5 236.5L529.5 213.5L529.5 213.5L530.5 186.5L530.5 195.5L530.5 199.5L530.5 213.5L530.5 222.5L530.5 255.5L530.5 199.5L530.5 250.5L530.5 250.5L530.5 190.5L530.5 195.5L531.5 218.5L531.5 195.5L531.5 195.5L531.5 209.5L531.5 204.5L531.5 241.5L531.5 227.5L531.5 232.5L531.5 213.5L532.5 236.5L532.5 213.5L532.5 227.5L532.5 213.5L532.5 236.5L532.5 236.5L532.5 236.5L532.5 186.5L532.5 241.5L532.5 209.5L533.5 241.5L533.5 227.5L533.5 204.5L533.5 190.5L533.5 250.5L533.5 241.5L533.5 204.5L533.5 190.5L533.5 218.5L534.5 241.5L534.5 250.5L534.5 139.5L534.5 227.5L534.5 213.5L534.5 246.5L534.5 250.5L534.5 158.5L534.5 172.5L534.5 246.5L534.5 162.5L534.5 213.5L534.5 213.5L534.5 153.5L535.5 222.5L535.5 259.5L535.5 218.5L535.5 209.5L535.5 209.5L535.5 255.5L535.5 195.5L535.5 186.5L535.5 204.5L535.5 236.5L536.5 250.5L536.5 255.5L536.5 246.5L536.5 255.5L536.5 222.5L536.5 218.5L536.5 218.5L536.5 218.5L536.5 250.5L537.5 209.5L537.5 232.5L537.5 236.5L537.5 250.5L537.5 218.5L537.5 227.5L537.5 255.5L537.5 259.5L537.5 246.5L538.5 213.5L538.5 250.5L538.5 209.5L538.5 250.5L538.5 241.5L538.5 259.5L538.5 250.5L538.5 213.5L538.5 250.5L539.5 259.5L539.5 218.5L539.5 218.5L539.5 241.5L539.5 250.5L539.5 213.5L539.5 204.5L539.5 259.5L539.5 264.5L539.5 213.5L540.5 232.5L540.5 255.5L540.5 218.5L540.5 269.5L540.5 236.5L540.5 264.5L541.5 407.5L541.5 416.5L542.5 264.5L542.5 232.5L542.5 273.5L542.5 222.5L542.5 250.5L542.5 269.5L542.5 227.5L543.5 213.5L543.5 222.5L543.5 259.5L543.5 232.5L543.5 236.5L543.5 269.5L543.5 232.5L543.5 250.5L543.5 269.5L544.5 269.5L544.5 259.5L544.5 269.5L544.5 222.5L544.5 232.5L544.5 236.5L544.5 264.5L544.5 246.5L544.5 222.5L545.5 241.5L545.5 250.5L545.5 255.5L545.5 259.5L545.5 246.5L545.5 246.5L545.5 255.5L545.5 246.5L545.5 241.5L546.5 236.5L546.5 246.5L546.5 255.5L546.5 236.5L546.5 259.5L546.5 273.5L546.5 246.5L546.5 250.5L546.5 241.5L547.5 255.5L547.5 269.5L547.5 232.5L547.5 236.5L547.5 250.5L547.5 269.5L547.5 246.5L547.5 269.5L547.5 273.5L548.5 246.5L548.5 250.5L548.5 195.5L548.5 232.5L548.5 232.5L548.5 204.5L548.5 250.5L548.5 264.5L548.5 255.5L548.5 232.5L548.5 232.5L548.5 199.5L549.5 255.5L549.5 236.5L549.5 236.5L549.5 259.5L549.5 269.5L549.5 246.5L549.5 259.5L549.5 269.5L549.5 236.5L550.5 213.5L550.5 259.5L550.5 255.5L550.5 250.5L550.5 227.5L550.5 264.5L550.5 232.5L550.5 250.5L550.5 255.5L551.5 213.5L551.5 269.5L551.5 241.5L551.5 255.5L551.5 264.5L551.5 259.5L551.5 264.5L551.5 213.5L551.5 264.5L552.5 227.5L552.5 222.5L552.5 227.5L552.5 255.5L552.5 259.5L552.5 213.5L552.5 232.5L552.5 227.5L552.5 264.5L553.5 250.5L553.5 227.5L553.5 213.5L553.5 273.5L553.5 213.5L553.5 269.5L553.5 273.5L553.5 236.5L553.5 250.5L554.5 269.5L554.5 269.5L554.5 218.5L554.5 213.5L554.5 259.5L554.5 213.5L554.5 264.5L554.5 250.5L554.5 269.5L555.5 259.5L555.5 250.5L555.5 222.5L555.5 255.5L555.5 222.5L555.5 259.5L555.5 259.5L555.5 246.5L555.5 255.5L556.5 264.5L556.5 236.5L556.5 222.5L556.5 241.5L556.5 232.5L556.5 236.5L556.5 218.5L556.5 213.5L556.5 264.5L557.5 241.5L557.5 232.5L557.5 218.5L557.5 232.5L557.5 227.5L557.5 264.5L557.5 222.5L557.5 213.5L557.5 259.5L558.5 218.5L558.5 273.5L558.5 222.5L558.5 269.5L558.5 250.5L558.5 227.5L558.5 250.5L558.5 264.5L558.5 255.5L558.5 246.5L559.5 236.5L559.5 269.5L559.5 213.5L559.5 264.5L559.5 227.5L559.5 264.5L559.5 213.5L559.5 232.5L559.5 255.5L559.5 273.5L559.5 204.5L560.5 232.5L560.5 259.5L560.5 264.5L560.5 236.5L560.5 218.5L560.5 241.5L560.5 264.5L560.5 241.5L560.5 250.5L561.5 264.5L561.5 227.5L561.5 232.5L561.5 227.5L561.5 236.5L561.5 227.5L561.5 264.5L561.5 264.5L561.5 264.5L562.5 236.5L562.5 236.5L562.5 259.5L562.5 255.5L562.5 241.5L562.5 246.5L562.5 259.5L562.5 264.5L562.5 241.5L562.5 209.5L562.5 218.5L573.5 195.5L573.5 204.5L573.5 227.5L573.5 204.5L573.5 222.5L573.5 209.5L573.5 222.5L573.5 204.5L573.5 227.5L573.5 227.5L574.5 204.5L574.5 190.5L574.5 232.5L574.5 218.5L574.5 186.5L574.5 199.5L574.5 195.5L574.5 213.5L574.5 213.5L575.5 195.5L575.5 222.5L575.5 218.5L575.5 227.5L575.5 172.5L575.5 222.5L575.5 181.5L575.5 209.5L575.5 204.5L575.5 222.5L576.5 172.5L576.5 204.5L576.5 186.5L576.5 236.5L576.5 199.5L576.5 199.5L576.5 209.5L576.5 204.5L576.5 186.5L576.5 227.5L577.5 172.5L577.5 218.5L577.5 186.5L577.5 190.5L577.5 209.5L577.5 209.5L577.5 186.5L577.5 213.5L577.5 209.5L577.5 227.5L578.5 227.5L578.5 172.5L578.5 195.5L578.5 213.5L578.5 209.5L578.5 190.5L578.5 186.5L578.5 227.5L578.5 227.5L578.5 204.5L579.5 204.5L579.5 227.5L579.5 176.5L579.5 204.5L579.5 227.5L579.5 218.5L579.5 222.5L579.5 227.5L579.5 162.5L579.5 209.5L579.5 218.5L580.5 204.5L580.5 195.5L580.5 199.5L580.5 209.5L580.5 190.5L580.5 241.5L580.5 190.5L580.5 236.5L580.5 195.5L581.5 241.5L581.5 227.5L581.5 250.5L581.5 241.5L581.5 213.5L581.5 236.5L581.5 227.5L581.5 241.5L581.5 213.5L582.5 246.5L582.5 250.5L582.5 250.5L582.5 250.5L582.5 250.5L582.5 209.5L582.5 209.5L582.5 218.5L582.5 227.5L583.5 218.5L583.5 227.5L583.5 227.5L583.5 264.5L583.5 246.5L583.5 255.5L583.5 218.5L583.5 250.5L583.5 232.5L584.5 246.5L584.5 246.5L584.5 246.5L584.5 255.5L584.5 241.5L584.5 273.5L584.5 250.5L584.5 241.5L584.5 269.5L585.5 259.5L585.5 269.5L585.5 209.5L585.5 250.5L585.5 246.5L585.5 232.5L585.5 241.5L585.5 255.5L585.5 246.5L586.5 269.5L586.5 222.5L586.5 227.5L586.5 246.5L586.5 255.5L586.5 269.5L586.5 273.5L586.5 246.5L586.5 232.5L587.5 241.5L587.5 264.5L587.5 269.5L587.5 264.5L587.5 232.5L587.5 227.5L587.5 250.5L587.5 227.5L587.5 236.5L588.5 250.5L588.5 269.5L588.5 255.5L588.5 259.5L588.5 236.5L588.5 236.5L588.5 273.5L588.5 264.5L588.5 273.5L589.5 241.5L589.5 241.5L589.5 246.5L589.5 236.5L589.5 269.5L589.5 282.5L589.5 236.5L589.5 250.5L589.5 259.5L589.5 259.5L590.5 250.5L590.5 273.5L590.5 209.5L590.5 250.5L590.5 222.5L590.5 255.5L590.5 236.5L590.5 278.5L590.5 246.5L591.5 227.5L591.5 199.5L591.5 227.5L591.5 227.5L591.5 264.5L591.5 236.5L591.5 264.5L591.5 213.5L591.5 213.5L591.5 213.5L592.5 264.5L592.5 269.5L592.5 246.5L592.5 259.5L592.5 199.5L592.5 204.5L592.5 264.5L592.5 273.5L592.5 246.5L592.5 273.5L592.5 241.5L593.5 218.5L593.5 236.5L593.5 227.5L593.5 269.5L593.5 218.5L593.5 259.5L593.5 241.5L593.5 209.5L593.5 264.5L594.5 236.5L594.5 250.5L594.5 236.5L594.5 264.5L594.5 246.5L594.5 255.5L594.5 259.5L594.5 264.5L594.5 241.5L595.5 209.5L595.5 269.5L595.5 264.5L595.5 227.5L595.5 255.5L595.5 232.5L595.5 259.5L595.5 209.5L595.5 269.5L596.5 227.5L596.5 222.5L596.5 222.5L596.5 241.5L596.5 222.5L596.5 218.5L596.5 269.5L596.5 273.5L596.5 204.5L596.5 218.5L597.5 259.5L597.5 241.5L597.5 259.5L597.5 273.5L597.5 250.5L597.5 264.5L597.5 232.5L597.5 232.5L597.5 236.5L598.5 273.5L598.5 241.5L598.5 259.5L598.5 227.5L598.5 250.5L598.5 227.5L598.5 255.5L598.5 236.5L598.5 273.5L599.5 255.5L599.5 209.5L599.5 213.5L599.5 264.5L599.5 250.5L599.5 236.5L599.5 232.5L599.5 246.5L599.5 278.5L600.5 222.5L600.5 278.5L600.5 273.5L600.5 250.5L600.5 227.5L600.5 269.5L600.5 241.5L600.5 213.5L600.5 282.5L600.5 278.5L601.5 269.5L601.5 227.5L601.5 232.5L601.5 218.5L601.5 209.5L601.5 278.5L601.5 246.5L601.5 218.5L601.5 222.5L601.5 269.5L602.5 264.5L602.5 250.5L602.5 241.5L602.5 259.5L602.5 213.5L602.5 259.5L602.5 213.5L602.5 264.5L602.5 241.5L603.5 264.5L603.5 269.5L603.5 259.5L603.5 269.5L603.5 264.5L603.5 250.5L603.5 264.5L603.5 264.5L603.5 241.5M242.5 38.5L242.5 150.5M243.5 77.5L243.5 150.5"/>
<path d="M64 292.5h7M67.5 289v7M64 305.5h7M67.5 302v7M64 282.5h7M67.5 279v7M64 273.5h7M67.5 270v7M64 264.5h7M67.5 261v7M64 301.5h7M67.5 298v7M65 305.5h7M68.5 302v7M65 315.5h7M68.5 312v7M65 324.5h7M68.5 321v7M65 264.5h7M68.5 261v7M65 135.5h7M68.5 132v7M65 310.5h7M68.5 307v7M65 287.5h7M68.5 284v7M65 158.5h7M68.5 155v7M66 287.5h7M69.5 284v7M66 190.5h7M69.5 187v7M66 328.5h7M69.5 325v7M66 264.5h7M69.5 261v7M66 103.5h7M69.5 100v7M66 282.5h7M69.5 279v7M66 315.5h7M69.5 312v7M66 296.5h7M69.5 293v7M66 292.5h7M69.5 289v7M66 186.5h7M69.5 183v7M67 333.5h7M70.5 330v7M67 310.5h7M70.5 307v7M67 305.5h7M70.5 302v7M67 292.5h7M70.5 289v7M67 259.5h7M70.5 256v7M67 278.5h7M70.5 275v7M67 269.5h7M70.5 266v7M68 315.5h7M71.5 312v7M68 264.5h7M71.5 261v7M68 259.5h7M71.5 256v7M68 278.5h7M71.5 275v7M68 287.5h7M71.5 284v7M68 255.5h7M71.5 252v7M68 319.5h7M71.5 316v7M69 310.5h7M72.5 307v7M69 176.5h7M72.5 173v7M69 278.5h7M72.5 275v7M69 319.5h7M72.5 316v7M69 98.5h7M72.5 95v7M69 287.5h7M72.5 284v7M69 52.5h7M72.5 49v7M69 315.5h7M72.5 312v7M69 296.5h7M72.5 293v7M70 287.5h7M73.5 284v7M70 282.5h7M73.5 279v7M70 259.5h7M73.5 256v7M70 292.5h7M73.5 289v7M70 310.5h7M73.5 307v7M70 273.5h7M73.5 270v7M71 287.5h7M74.5 284v7M71 296.5h7M74.5 293v7M71 246.5h7M74.5 243v7M71 278.5h7M74.5 275v7M71 305.5h7M74.5 302v7M72 305.5h7M75.5 302v7M72 296.5h7M75.5 293v7M72 264.5h7M75.5 261v7M72 310.5h7M75.5 307v7M72 250.5h7M75.5 247v7M72 282.5h7M75.5 279v7M72 278.5h7M75.5 275v7M73 269.5h7M76.5 266v7M73 296.5h7M76.5 293v7M73 255.5h7M76.5 252v7M73 292.5h7M76.5 289v7M73 282.5h7M76.5 279v7M74 296.5h7M77.5 293v7M74 287.5h7M77.5 284v7M74 292.5h7M77.5 289v7M74 273.5h7M77.5 270v7M74 269.5h7M77.5 266v7M74 282.5h7M77.5 279v7M75 292.5h7M78.5 289v7M75 259.5h7M78.5 256v7M75 296.5h7M78.5 293v7M75 278.5h7M78.5 275v7M75 236.5h7M78.5 233v7M75 301.5h7M78.5 298v7M75 264.5h7M78.5 261v7M75 282.5h7M78.5 279v7M75 232.5h7M78.5 229v7M76 296.5h7M79.5 293v7M76 278.5h7M79.5 275v7M76 241.5h7M79.5 238v7M76 246.5h7M79.5 243v7M76 264.5h7M79.5 261v7M77 273.5h7M80.5 270v7M77 264.5h7M80.5 261v7M77 241.5h7M80.5 238v7M77 255.5h7M80.5 252v7M77 296.5h7M80.5 293v7M77 282.5h7M80.5 279v7M78 273.5h7M81.5 270v7M78 264.5h7M81.5 261v7M78 259.5h7M81.5 256v7M78 287.5h7M81.5 284v7M92 273.5h7M95.5 270v7M92 282.5h7M95.5 279v7M92 278.5h7M95.5 275v7M92 269.5h7M95.5 266v7M93 292.5h7M96.5 289v7M93 273.5h7M96.5 270v7M93 287.5h7M96.5 284v7M93 282.5h7M96.5 279v7M93 310.5h7M96.5 307v7M93 301.5h7M96.5 298v7M94 315.5h7M97.5 312v7M94 310.5h7M97.5 307v7M94 287.5h7M97.5 284v7M94 296.5h7M97.5 293v7M95 292.5h7M98.5 289v7M95 264.5h7M98.5 261v7M95 269.5h7M98.5 266v7M95 287.5h7M98.5 284v7M95 324.5h7M98.5 321v7M95 250.5h7M98.5 247v7M95 246.5h7M98.5 243v7M95 319.5h7M98.5 316v7M95 255.5h7M98.5 252v7M95 259.5h7M98.5 256v7M95 236.5h7M98.5 233v7M95 241.5h7M98.5 238v7M96 292.5h7M99.5 289v7M96 282.5h7M99.5 279v7M96 296.5h7M99.5 293v7M96 310.5h7M99.5 307v7M96 319.5h7M99.5 316v7M96 301.5h7M99.5 298v7M96 324.5h7M99.5 321v7M97 319.5h7M100.5 316v7M97 328.5h7M100.5 325v7M97 296.5h7M100.5 293v7M97 292.5h7M100.5 289v7M97 301.5h7M100.5 298v7M97 324.5h7M100.5 321v7M97 315.5h7M100.5 312v7M98 310.5h7M101.5 307v7M98 315.5h7M101.5 312v7M98 296.5h7M101.5 293v7M98 292.5h7M101.5 289v7M98 333.5h7M101.5 330v7M98 287.5h7M101.5 284v7M98 305.5h7M101.5 302v7M99 310.5h7M102.5 307v7M99 301.5h7M102.5 298v7M99 324.5h7M102.5 321v7M99 250.5h7M102.5 247v7M99 296.5h7M102.5 293v7M99 319.5h7M102.5 316v7M99 328.5h7M102.5 325v7M99 305.5h7M102.5 302v7M100 292.5h7M103.5 289v7M100 301.5h7M103.5 298v7M100 255.5h7M103.5 252v7M100 305.5h7M103.5 302v7M100 287.5h7M103.5 284v7M100 278.5h7M103.5 275v7M100 310.5h7M103.5 307v7M100 296.5h7M103.5 293v7M100 328.5h7M103.5 325v7M101 305.5h7M104.5 302v7M101 319.5h7M104.5 316v7M101 342.5h7M104.5 339v7M101 328.5h7M104.5 325v7M101 338.5h7M104.5 335v7M101 315.5h7M104.5 312v7M101 292.5h7M104.5 289v7M101 301.5h7M104.5 298v7M101 287.5h7M104.5 284v7M102 319.5h7M105.5 316v7M102 296.5h7M105.5 293v7M102 305.5h7M105.5 302v7M102 315.5h7M105.5 312v7M102 333.5h7M105.5 330v7M102 269.5h7M105.5 266v7M102 282.5h7M105.5 279v7M103 342.5h7M106.5 339v7M103 269.5h7M106.5 266v7M103 338.5h7M106.5 335v7M103 301.5h7M106.5 298v7M103 255.5h7M106.5 252v7M103 310.5h7M106.5 307v7M103 287.5h7M106.5 284v7M104 315.5h7M107.5 312v7M104 338.5h7M107.5 335v7M104 213.5h7M107.5 210v7M104 310.5h7M107.5 307v7M104 333.5h7M107.5 330v7M104 292.5h7M107.5 289v7M104 305.5h7M107.5 302v7M104 328.5h7M107.5 325v7M105 338.5h7M108.5 335v7M105 319.5h7M108.5 316v7M105 282.5h7M108.5 279v7M105 328.5h7M108.5 325v7M105 292.5h7M108.5 289v7M105 264.5h7M108.5 261v7M105 255.5h7M108.5 252v7M105 305.5h7M108.5 302v7M106 328.5h7M109.5 325v7M106 287.5h7M109.5 284v7M106 246.5h7M109.5 243v7M106 315.5h7M109.5 312v7M106 324.5h7M109.5 321v7M107 255.5h7M110.5 252v7M107 246.5h7M110.5 243v7M107 319.5h7M110.5 316v7M107 259.5h7M110.5 256v7M107 328.5h7M110.5 325v7M107 292.5h7M110.5 289v7M107 250.5h7M110.5 247v7M108 328.5h7M111.5 325v7M108 315.5h7M111.5 312v7M108 338.5h7M111.5 335v7M108 333.5h7M111.5 330v7M108 296.5h7M111.5 293v7M108 324.5h7M111.5 321v7M109 250.5h7M112.5 247v7M109 333.5h7M112.5 330v7M109 305.5h7M112.5 302v7M109 301.5h7M112.5 298v7M109 319.5h7M112.5 316v7M109 338.5h7M112.5 335v7M110 333.5h7M113.5 330v7M110 315.5h7M113.5 312v7M110 338.5h7M113.5 335v7M110 319.5h7M113.5 316v7M111 246.5h7M114.5 243v7M111 333.5h7M114.5 330v7M111 310.5h7M114.5 307v7M111 292.5h7M114.5 289v7M111 296.5h7M114.5 293v7M111 324.5h7M114.5 321v7M111 315.5h7M114.5 312v7M111 342.5h7M114.5 339v7M112 315.5h7M115.5 312v7M112 338.5h7M115.5 335v7M112 319.5h7M115.5 316v7M112 310.5h7M115.5 307v7M112 342.5h7M115.5 339v7M113 342.5h7M116.5 339v7M113 264.5h7M116.5 261v7M113 296.5h7M116.5 293v7M113 315.5h7M116.5 312v7M113 305.5h7M116.5 302v7M113 319.5h7M116.5 316v7M114 319.5h7M117.5 316v7M114 292.5h7M117.5 289v7M114 310.5h7M117.5 307v7M114 338.5h7M117.5 335v7M115 324.5h7M118.5 321v7M115 301.5h7M118.5 298v7M115 255.5h7M118.5 252v7M115 310.5h7M118.5 307v7M115 315.5h7M118.5 312v7M115 305.5h7M118.5 302v7M115 328.5h7M118.5 325v7M115 338.5h7M118.5 335v7M116 333.5h7M119.5 330v7M116 310.5h7M119.5 307v7M116 315.5h7M119.5 312v7M116 301.5h7M119.5 298v7M116 319.5h7M119.5 316v7M116 296.5h7M119.5 293v7M116 305.5h7M119.5 302v7M117 273.5h7M120.5 270v7M117 333.5h7M120.5 330v7M117 324.5h7M120.5 321v7M117 282.5h7M120.5 279v7M117 305.5h7M120.5 302v7M118 273.5h7M121.5 270v7M118 264.5h7M121.5 261v7M118 301.5h7M121.5 298v7M118 250.5h7M121.5 247v7M118 305.5h7M121.5 302v7M118 259.5h7M121.5 256v7M118 209.5h7M121.5 206v7M118 246.5h7M121.5 243v7M118 310.5h7M121.5 307v7M119 278.5h7M122.5 275v7M119 296.5h7M122.5 293v7M119 259.5h7M122.5 256v7M119 292.5h7M122.5 289v7M119 269.5h7M122.5 266v7M120 278.5h7M123.5 275v7M120 204.5h7M123.5 201v7M120 287.5h7M123.5 284v7M120 264.5h7M123.5 261v7M120 301.5h7M123.5 298v7M120 259.5h7M123.5 256v7M120 269.5h7M123.5 266v7M121 273.5h7M124.5 270v7M121 264.5h7M124.5 261v7M121 255.5h7M124.5 252v7M121 287.5h7M124.5 284v7M121 259.5h7M124.5 256v7M121 236.5h7M124.5 233v7M122 259.5h7M125.5 256v7M122 222.5h7M125.5 219v7M122 227.5h7M125.5 224v7M122 292.5h7M125.5 289v7M122 218.5h7M125.5 215v7M122 255.5h7M125.5 252v7M122 250.5h7M125.5 247v7M122 278.5h7M125.5 275v7M123 213.5h7M126.5 210v7M123 222.5h7M126.5 219v7M123 278.5h7M126.5 275v7M123 259.5h7M126.5 256v7M123 264.5h7M126.5 261v7M123 227.5h7M126.5 224v7M123 218.5h7M126.5 215v7M123 282.5h7M126.5 279v7M124 209.5h7M127.5 206v7M124 292.5h7M127.5 289v7M124 227.5h7M127.5 224v7M124 236.5h7M127.5 233v7M124 241.5h7M127.5 238v7M124 278.5h7M127.5 275v7M124 246.5h7M127.5 243v7M124 269.5h7M127.5 266v7M125 292.5h7M128.5 289v7M125 264.5h7M128.5 261v7M125 213.5h7M128.5 210v7M125 227.5h7M128.5 224v7M125 246.5h7M128.5 243v7M125 241.5h7M128.5 238v7M125 209.5h7M128.5 206v7M125 204.5h7M128.5 201v7M126 246.5h7M129.5 243v7M126 236.5h7M129.5 233v7M126 232.5h7M129.5 229v7M126 278.5h7M129.5 275v7M126 204.5h7M129.5 201v7M126 282.5h7M129.5 279v7M127 287.5h7M130.5 284v7M127 236.5h7M130.5 233v7M127 255.5h7M130.5 252v7M127 278.5h7M130.5 275v7M127 259.5h7M130.5 256v7M127 269.5h7M130.5 266v7M128 186.5h7M131.5 183v7M128 255.5h7M131.5 252v7M128 278.5h7M131.5 275v7M128 218.5h7M131.5 215v7M128 204.5h7M131.5 201v7M128 227.5h7M131.5 224v7M128 264.5h7M131.5 261v7M128 209.5h7M131.5 206v7M128 287.5h7M131.5 284v7M128 282.5h7M131.5 279v7M129 204.5h7M132.5 201v7M129 255.5h7M132.5 252v7M129 246.5h7M132.5 243v7M129 259.5h7M132.5 256v7M129 213.5h7M132.5 210v7M129 218.5h7M132.5 215v7M129 278.5h7M132.5 275v7M130 292.5h7M133.5 289v7M130 259.5h7M133.5 256v7M130 273.5h7M133.5 270v7M130 250.5h7M133.5 247v7M130 218.5h7M133.5 215v7M130 190.5h7M133.5 187v7M130 264.5h7M133.5 261v7M130 269.5h7M133.5 266v7M131 204.5h7M134.5 201v7M131 232.5h7M134.5 229v7M131 241.5h7M134.5 238v7M131 269.5h7M134.5 266v7M131 259.5h7M134.5 256v7M131 209.5h7M134.5 206v7M131 273.5h7M134.5 270v7M131 222.5h7M134.5 219v7M132 227.5h7M135.5 224v7M132 236.5h7M135.5 233v7M132 278.5h7M135.5 275v7M132 232.5h7M135.5 229v7M132 255.5h7M135.5 252v7M132 190.5h7M135.5 187v7M132 273.5h7M135.5 270v7M132 222.5h7M135.5 219v7M133 218.5h7M136.5 215v7M133 227.5h7M136.5 224v7M133 255.5h7M136.5 252v7M133 296.5h7M136.5 293v7M133 209.5h7M136.5 206v7M133 287.5h7M136.5 284v7M133 269.5h7M136.5 266v7M133 292.5h7M136.5 289v7M134 264.5h7M137.5 261v7M134 255.5h7M137.5 252v7M134 301.5h7M137.5 298v7M134 222.5h7M137.5 219v7M134 305.5h7M137.5 302v7M134 246.5h7M137.5 243v7M134 172.5h7M137.5 169v7M135 269.5h7M138.5 266v7M135 241.5h7M138.5 238v7M135 222.5h7M138.5 219v7M135 292.5h7M138.5 289v7M135 236.5h7M138.5 233v7M135 287.5h7M138.5 284v7M135 227.5h7M138.5 224v7M135 273.5h7M138.5 270v7M136 296.5h7M139.5 293v7M136 278.5h7M139.5 275v7M136 287.5h7M139.5 284v7M136 269.5h7M139.5 266v7M136 282.5h7M139.5 279v7M136 241.5h7M139.5 238v7M136 222.5h7M139.5 219v7M136 227.5h7M139.5 224v7M136 255.5h7M139.5 252v7M137 255.5h7M140.5 252v7M137 273.5h7M140.5 270v7M137 246.5h7M140.5 243v7M137 287.5h7M140.5 284v7M137 236.5h7M140.5 233v7M137 278.5h7M140.5 275v7M137 259.5h7M140.5 256v7M138 218.5h7M141.5 215v7M138 296.5h7M141.5 293v7M138 282.5h7M141.5 279v7M138 292.5h7M141.5 289v7M138 241.5h7M141.5 238v7M138 255.5h7M141.5 252v7M138 232.5h7M141.5 229v7M138 250.5h7M141.5 247v7M139 273.5h7M142.5 270v7M139 241.5h7M142.5 238v7M139 282.5h7M142.5 279v7M139 218.5h7M142.5 215v7M139 236.5h7M142.5 233v7M139 305.5h7M142.5 302v7M140 305.5h7M143.5 302v7M140 301.5h7M143.5 298v7M140 218.5h7M143.5 215v7M140 264.5h7M143.5 261v7M140 236.5h7M143.5 233v7M140 255.5h7M143.5 252v7M140 310.5h7M143.5 307v7M141 218.5h7M144.5 215v7M141 287.5h7M144.5 284v7M141 305.5h7M144.5 302v7M141 269.5h7M144.5 266v7M141 259.5h7M144.5 256v7M141 282.5h7M144.5 279v7M141 241.5h7M144.5 238v7M142 218.5h7M145.5 215v7M142 209.5h7M145.5 206v7M142 273.5h7M145.5 270v7M142 255.5h7M145.5 252v7M142 287.5h7M145.5 284v7M142 310.5h7M145.5 307v7M142 264.5h7M145.5 261v7M143 278.5h7M146.5 275v7M143 301.5h7M146.5 298v7M143 287.5h7M146.5 284v7M143 264.5h7M146.5 261v7M143 292.5h7M146.5 289v7M143 269.5h7M146.5 266v7M143 296.5h7M146.5 293v7M144 278.5h7M147.5 275v7M144 236.5h7M147.5 233v7M144 241.5h7M147.5 238v7M144 259.5h7M147.5 256v7M144 305.5h7M147.5 302v7M144 213.5h7M147.5 210v7M144 292.5h7M147.5 289v7M144 310.5h7M147.5 307v7M145 282.5h7M148.5 279v7M145 305.5h7M148.5 302v7M145 241.5h7M148.5 238v7M145 222.5h7M148.5 219v7M145 236.5h7M148.5 233v7M145 287.5h7M148.5 284v7M145 273.5h7M148.5 270v7M146 264.5h7M149.5 261v7M146 259.5h7M149.5 256v7M146 236.5h7M149.5 233v7M146 218.5h7M149.5 215v7M146 250.5h7M149.5 247v7M146 287.5h7M149.5 284v7M146 301.5h7M149.5 298v7M146 269.5h7M149.5 266v7M146 292.5h7M149.5 289v7M147 301.5h7M150.5 298v7M147 259.5h7M150.5 256v7M147 287.5h7M150.5 284v7M147 292.5h7M150.5 289v7M147 264.5h7M150.5 261v7M147 255.5h7M150.5 252v7M147 236.5h7M150.5 233v7M147 273.5h7M150.5 270v7M148 287.5h7M151.5 284v7M148 301.5h7M151.5 298v7M148 269.5h7M151.5 266v7M148 292.5h7M151.5 289v7M148 264.5h7M151.5 261v7M148 310.5h7M151.5 307v7M148 236.5h7M151.5 233v7M148 222.5h7M151.5 219v7M148 278.5h7M151.5 275v7M149 250.5h7M152.5 247v7M149 222.5h7M152.5 219v7M149 282.5h7M152.5 279v7M149 278.5h7M152.5 275v7M149 287.5h7M152.5 284v7M149 273.5h7M152.5 270v7M150 232.5h7M153.5 229v7M150 259.5h7M153.5 256v7M150 222.5h7M153.5 219v7M150 292.5h7M153.5 289v7M150 250.5h7M153.5 247v7M151 296.5h7M154.5 293v7M151 305.5h7M154.5 302v7M151 301.5h7M154.5 298v7M151 222.5h7M154.5 219v7M151 181.5h7M154.5 178v7M151 287.5h7M154.5 284v7M152 264.5h7M155.5 261v7M152 305.5h7M155.5 302v7M152 278.5h7M155.5 275v7M152 292.5h7M155.5 289v7M152 287.5h7M155.5 284v7M152 296.5h7M155.5 293v7M152 218.5h7M155.5 215v7M152 236.5h7M155.5 233v7M153 259.5h7M156.5 256v7M153 292.5h7M156.5 289v7M153 255.5h7M156.5 252v7M153 264.5h7M156.5 261v7M153 273.5h7M156.5 270v7M154 305.5h7M157.5 302v7M154 218.5h7M157.5 215v7M154 264.5h7M157.5 261v7M154 255.5h7M157.5 252v7M154 292.5h7M157.5 289v7M154 301.5h7M157.5 298v7M154 236.5h7M157.5 233v7M154 278.5h7M157.5 275v7M155 236.5h7M158.5 233v7M155 282.5h7M158.5 279v7M155 273.5h7M158.5 270v7M155 227.5h7M158.5 224v7M155 222.5h7M158.5 219v7M155 296.5h7M158.5 293v7M155 305.5h7M158.5 302v7M155 292.5h7M158.5 289v7M156 236.5h7M159.5 233v7M156 269.5h7M159.5 266v7M156 222.5h7M159.5 219v7M156 301.5h7M159.5 298v7M156 246.5h7M159.5 243v7M156 241.5h7M159.5 238v7M156 227.5h7M159.5 224v7M156 278.5h7M159.5 275v7M156 186.5h7M159.5 183v7M157 255.5h7M160.5 252v7M157 218.5h7M160.5 215v7M157 269.5h7M160.5 266v7M157 236.5h7M160.5 233v7M157 282.5h7M160.5 279v7M157 301.5h7M160.5 298v7M157 264.5h7M160.5 261v7M158 282.5h7M161.5 279v7M158 287.5h7M161.5 284v7M158 292.5h7M161.5 289v7M158 278.5h7M161.5 275v7M158 222.5h7M161.5 219v7M158 305.5h7M161.5 302v7M158 250.5h7M161.5 247v7M159 305.5h7M162.5 302v7M159 246.5h7M162.5 243v7M159 181.5h7M162.5 178v7M159 287.5h7M162.5 284v7M159 232.5h7M162.5 229v7M159 264.5h7M162.5 261v7M159 241.5h7M162.5 238v7M159 273.5h7M162.5 270v7M159 227.5h7M162.5 224v7M160 292.5h7M163.5 289v7M160 296.5h7M163.5 293v7M160 236.5h7M163.5 233v7M160 273.5h7M163.5 270v7M160 278.5h7M163.5 275v7M160 269.5h7M163.5 266v7M160 246.5h7M163.5 243v7M160 264.5h7M163.5 261v7M160 250.5h7M163.5 247v7M161 287.5h7M164.5 284v7M161 241.5h7M164.5 238v7M161 273.5h7M164.5 270v7M161 250.5h7M164.5 247v7M161 296.5h7M164.5 293v7M161 232.5h7M164.5 229v7M161 236.5h7M164.5 233v7M162 236.5h7M165.5 233v7M162 305.5h7M165.5 302v7M162 241.5h7M165.5 238v7M162 232.5h7M165.5 229v7M162 278.5h7M165.5 275v7M162 255.5h7M165.5 252v7M163 227.5h7M166.5 224v7M163 292.5h7M166.5 289v7M163 370.5h7M166.5 367v7M163 241.5h7M166.5 238v7M163 301.5h7M166.5 298v7M163 246.5h7M166.5 243v7M163 296.5h7M166.5 293v7M163 352.5h7M166.5 349v7M164 195.5h7M167.5 192v7M164 222.5h7M167.5 219v7M164 301.5h7M167.5 298v7M164 273.5h7M167.5 270v7M164 292.5h7M167.5 289v7M164 209.5h7M167.5 206v7M164 232.5h7M167.5 229v7M165 255.5h7M168.5 252v7M165 292.5h7M168.5 289v7M165 236.5h7M168.5 233v7M165 222.5h7M168.5 219v7M165 232.5h7M168.5 229v7M165 269.5h7M168.5 266v7M166 246.5h7M169.5 243v7M166 209.5h7M169.5 206v7M166 287.5h7M169.5 284v7M166 282.5h7M169.5 279v7M166 236.5h7M169.5 233v7M166 273.5h7M169.5 270v7M166 292.5h7M169.5 289v7M166 218.5h7M169.5 215v7M166 190.5h7M169.5 187v7M167 255.5h7M170.5 252v7M167 218.5h7M170.5 215v7M167 250.5h7M170.5 247v7M167 204.5h7M170.5 201v7M167 246.5h7M170.5 243v7M167 209.5h7M170.5 206v7M167 112.5h7M170.5 109v7M167 222.5h7M170.5 219v7M167 273.5h7M170.5 270v7M168 222.5h7M171.5 219v7M168 232.5h7M171.5 229v7M168 259.5h7M171.5 256v7M168 209.5h7M171.5 206v7M168 273.5h7M171.5 270v7M168 255.5h7M171.5 252v7M168 292.5h7M171.5 289v7M168 278.5h7M171.5 275v7M169 213.5h7M172.5 210v7M169 278.5h7M172.5 275v7M169 218.5h7M172.5 215v7M169 236.5h7M172.5 233v7M169 269.5h7M172.5 266v7M169 227.5h7M172.5 224v7M169 255.5h7M172.5 252v7M169 199.5h7M172.5 196v7M170 269.5h7M173.5 266v7M170 199.5h7M173.5 196v7M170 255.5h7M173.5 252v7M170 250.5h7M173.5 247v7M170 222.5h7M173.5 219v7M170 264.5h7M173.5 261v7M170 190.5h7M173.5 187v7M170 209.5h7M173.5 206v7M170 241.5h7M173.5 238v7M170 218.5h7M173.5 215v7M171 259.5h7M174.5 256v7M171 250.5h7M174.5 247v7M171 222.5h7M174.5 219v7M171 255.5h7M174.5 252v7M171 246.5h7M174.5 243v7M171 282.5h7M174.5 279v7M171 264.5h7M174.5 261v7M172 246.5h7M175.5 243v7M172 232.5h7M175.5 229v7M172 282.5h7M175.5 279v7M172 287.5h7M175.5 284v7M172 273.5h7M175.5 270v7M172 218.5h7M175.5 215v7M173 273.5h7M176.5 270v7M173 264.5h7M176.5 261v7M173 209.5h7M176.5 206v7M173 278.5h7M176.5 275v7M173 255.5h7M176.5 252v7M173 218.5h7M176.5 215v7M173 158.5h7M176.5 155v7M174 172.5h7M177.5 169v7M174 195.5h7M177.5 192v7M174 209.5h7M177.5 206v7M174 264.5h7M177.5 261v7M174 273.5h7M177.5 270v7M174 186.5h7M177.5 183v7M174 278.5h7M177.5 275v7M174 204.5h7M177.5 201v7M175 218.5h7M178.5 215v7M175 269.5h7M178.5 266v7M175 287.5h7M178.5 284v7M175 199.5h7M178.5 196v7M175 227.5h7M178.5 224v7M175 259.5h7M178.5 256v7M176 282.5h7M179.5 279v7M176 259.5h7M179.5 256v7M176 278.5h7M179.5 275v7M176 213.5h7M179.5 210v7M176 273.5h7M179.5 270v7M176 241.5h7M179.5 238v7M176 264.5h7M179.5 261v7M176 232.5h7M179.5 229v7M177 195.5h7M180.5 192v7M177 259.5h7M180.5 256v7M177 213.5h7M180.5 210v7M177 278.5h7M180.5 275v7M177 232.5h7M180.5 229v7M177 282.5h7M180.5 279v7M177 236.5h7M180.5 233v7M178 227.5h7M181.5 224v7M178 269.5h7M181.5 266v7M178 222.5h7M181.5 219v7M178 232.5h7M181.5 229v7M178 264.5h7M181.5 261v7M178 204.5h7M181.5 201v7M178 199.5h7M181.5 196v7M179 190.5h7M182.5 187v7M179 282.5h7M182.5 279v7M179 218.5h7M182.5 215v7M179 246.5h7M182.5 243v7M179 236.5h7M182.5 233v7M179 250.5h7M182.5 247v7M179 241.5h7M182.5 238v7M179 199.5h7M182.5 196v7M180 292.5h7M183.5 289v7M180 264.5h7M183.5 261v7M180 213.5h7M183.5 210v7M180 259.5h7M183.5 256v7M180 204.5h7M183.5 201v7M180 195.5h7M183.5 192v7M180 250.5h7M183.5 247v7M180 236.5h7M183.5 233v7M180 222.5h7M183.5 219v7M181 232.5h7M184.5 229v7M181 250.5h7M184.5 247v7M181 278.5h7M184.5 275v7M181 204.5h7M184.5 201v7M181 213.5h7M184.5 210v7M181 287.5h7M184.5 284v7M181 255.5h7M184.5 252v7M182 213.5h7M185.5 210v7M182 255.5h7M185.5 252v7M182 282.5h7M185.5 279v7M182 199.5h7M185.5 196v7M182 269.5h7M185.5 266v7M182 232.5h7M185.5 229v7M182 236.5h7M185.5 233v7M182 287.5h7M185.5 284v7M182 218.5h7M185.5 215v7M183 292.5h7M186.5 289v7M183 204.5h7M186.5 201v7M183 269.5h7M186.5 266v7M183 227.5h7M186.5 224v7M183 213.5h7M186.5 210v7M183 195.5h7M186.5 192v7M183 296.5h7M186.5 293v7M184 264.5h7M187.5 261v7M184 273.5h7M187.5 270v7M184 222.5h7M187.5 219v7M184 218.5h7M187.5 215v7M184 195.5h7M187.5 192v7M184 269.5h7M187.5 266v7M185 278.5h7M188.5 275v7M185 269.5h7M188.5 266v7M185 250.5h7M188.5 247v7M185 246.5h7M188.5 243v7M185 218.5h7M188.5 215v7M185 213.5h7M188.5 210v7M185 232.5h7M188.5 229v7M185 241.5h7M188.5 238v7M186 305.5h7M189.5 302v7M186 232.5h7M189.5 229v7M186 236.5h7M189.5 233v7M186 292.5h7M189.5 289v7M186 287.5h7M189.5 284v7M186 259.5h7M189.5 256v7M186 301.5h7M189.5 298v7M187 241.5h7M190.5 238v7M187 282.5h7M190.5 279v7M187 190.5h7M190.5 187v7M187 287.5h7M190.5 284v7M187 209.5h7M190.5 206v7M187 305.5h7M190.5 302v7M187 273.5h7M190.5 270v7M187 236.5h7M190.5 233v7M187 195.5h7M190.5 192v7M187 250.5h7M190.5 247v7M188 236.5h7M191.5 233v7M188 282.5h7M191.5 279v7M188 250.5h7M191.5 247v7M188 259.5h7M191.5 256v7M188 227.5h7M191.5 224v7M188 255.5h7M191.5 252v7M188 278.5h7M191.5 275v7M189 287.5h7M192.5 284v7M189 181.5h7M192.5 178v7M189 305.5h7M192.5 302v7M189 273.5h7M192.5 270v7M189 218.5h7M192.5 215v7M189 269.5h7M192.5 266v7M189 246.5h7M192.5 243v7M190 269.5h7M193.5 266v7M190 255.5h7M193.5 252v7M190 282.5h7M193.5 279v7M190 259.5h7M193.5 256v7M190 209.5h7M193.5 206v7M190 296.5h7M193.5 293v7M190 218.5h7M193.5 215v7M190 227.5h7M193.5 224v7M191 218.5h7M194.5 215v7M191 292.5h7M194.5 289v7M191 310.5h7M194.5 307v7M191 227.5h7M194.5 224v7M191 213.5h7M194.5 210v7M191 273.5h7M194.5 270v7M191 246.5h7M194.5 243v7M191 250.5h7M194.5 247v7M192 227.5h7M195.5 224v7M192 232.5h7M195.5 229v7M192 296.5h7M195.5 293v7M192 282.5h7M195.5 279v7M192 278.5h7M195.5 275v7M192 305.5h7M195.5 302v7M192 273.5h7M195.5 270v7M193 259.5h7M196.5 256v7M193 305.5h7M196.5 302v7M193 236.5h7M196.5 233v7M193 269.5h7M196.5 266v7M193 250.5h7M196.5 247v7M193 218.5h7M196.5 215v7M193 310.5h7M196.5 307v7M193 264.5h7M196.5 261v7M194 222.5h7M197.5 219v7M194 282.5h7M197.5 279v7M194 301.5h7M197.5 298v7M194 255.5h7M197.5 252v7M194 305.5h7M197.5 302v7M195 319.5h7M198.5 316v7M195 292.5h7M198.5 289v7M195 213.5h7M198.5 210v7M195 264.5h7M198.5 261v7M195 246.5h7M198.5 243v7M195 236.5h7M198.5 233v7M195 259.5h7M198.5 256v7M195 278.5h7M198.5 275v7M195 296.5h7M198.5 293v7M196 259.5h7M199.5 256v7M196 287.5h7M199.5 284v7M196 301.5h7M199.5 298v7M196 269.5h7M199.5 266v7M196 264.5h7M199.5 261v7M196 282.5h7M199.5 279v7M197 218.5h7M200.5 215v7M197 232.5h7M200.5 229v7M197 315.5h7M200.5 312v7M197 296.5h7M200.5 293v7M197 282.5h7M200.5 279v7M197 236.5h7M200.5 233v7M198 255.5h7M201.5 252v7M198 264.5h7M201.5 261v7M198 199.5h7M201.5 196v7M198 315.5h7M201.5 312v7M198 292.5h7M201.5 289v7M198 301.5h7M201.5 298v7M198 250.5h7M201.5 247v7M198 273.5h7M201.5 270v7M198 287.5h7M201.5 284v7M199 246.5h7M202.5 243v7M199 319.5h7M202.5 316v7M199 324.5h7M202.5 321v7M199 296.5h7M202.5 293v7M199 292.5h7M202.5 289v7M199 241.5h7M202.5 238v7M199 310.5h7M202.5 307v7M199 259.5h7M202.5 256v7M199 273.5h7M202.5 270v7M199 305.5h7M202.5 302v7M200 273.5h7M203.5 270v7M200 292.5h7M203.5 289v7M200 305.5h7M203.5 302v7M200 310.5h7M203.5 307v7M200 269.5h7M203.5 266v7M200 264.5h7M203.5 261v7M200 259.5h7M203.5 256v7M201 273.5h7M204.5 270v7M201 236.5h7M204.5 233v7M201 255.5h7M204.5 252v7M201 292.5h7M204.5 289v7M201 259.5h7M204.5 256v7M201 282.5h7M204.5 279v7M201 250.5h7M204.5 247v7M201 287.5h7M204.5 284v7M202 310.5h7M205.5 307v7M202 296.5h7M205.5 293v7M202 246.5h7M205.5 243v7M202 278.5h7M205.5 275v7M202 269.5h7M205.5 266v7M202 282.5h7M205.5 279v7M202 259.5h7M205.5 256v7M202 264.5h7M205.5 261v7M203 227.5h7M206.5 224v7M203 222.5h7M206.5 219v7M203 310.5h7M206.5 307v7M203 259.5h7M206.5 256v7M203 232.5h7M206.5 229v7M203 255.5h7M206.5 252v7M203 287.5h7M206.5 284v7M204 246.5h7M207.5 243v7M204 301.5h7M207.5 298v7M204 273.5h7M207.5 270v7M204 264.5h7M207.5 261v7M204 305.5h7M207.5 302v7M204 259.5h7M207.5 256v7M204 282.5h7M207.5 279v7M205 218.5h7M208.5 215v7M205 292.5h7M208.5 289v7M205 269.5h7M208.5 266v7M205 232.5h7M208.5 229v7M205 287.5h7M208.5 284v7M205 305.5h7M208.5 302v7M205 236.5h7M208.5 233v7M206 278.5h7M209.5 275v7M206 269.5h7M209.5 266v7M206 296.5h7M209.5 293v7M206 264.5h7M209.5 261v7M206 273.5h7M209.5 270v7M206 181.5h7M209.5 178v7M206 250.5h7M209.5 247v7M207 282.5h7M210.5 279v7M207 218.5h7M210.5 215v7M207 269.5h7M210.5 266v7M207 292.5h7M210.5 289v7M207 301.5h7M210.5 298v7M207 246.5h7M210.5 243v7M207 241.5h7M210.5 238v7M208 236.5h7M211.5 233v7M208 259.5h7M211.5 256v7M208 246.5h7M211.5 243v7M208 241.5h7M211.5 238v7M208 296.5h7M211.5 293v7M208 250.5h7M211.5 247v7M208 301.5h7M211.5 298v7M208 232.5h7M211.5 229v7M209 269.5h7M212.5 266v7M209 255.5h7M212.5 252v7M209 236.5h7M212.5 233v7M209 250.5h7M212.5 247v7M209 273.5h7M212.5 270v7M209 282.5h7M212.5 279v7M209 241.5h7M212.5 238v7M210 259.5h7M213.5 256v7M210 227.5h7M213.5 224v7M210 241.5h7M213.5 238v7M210 301.5h7M213.5 298v7M210 278.5h7M213.5 275v7M210 255.5h7M213.5 252v7M211 264.5h7M214.5 261v7M211 236.5h7M214.5 233v7M211 250.5h7M214.5 247v7M211 301.5h7M214.5 298v7M211 282.5h7M214.5 279v7M211 199.5h7M214.5 196v7M211 158.5h7M214.5 155v7M212 259.5h7M215.5 256v7M212 296.5h7M215.5 293v7M212 292.5h7M215.5 289v7M212 241.5h7M215.5 238v7M212 232.5h7M215.5 229v7M212 287.5h7M215.5 284v7M212 213.5h7M215.5 210v7M213 264.5h7M216.5 261v7M213 296.5h7M216.5 293v7M213 292.5h7M216.5 289v7M213 278.5h7M216.5 275v7M213 301.5h7M216.5 298v7M213 218.5h7M216.5 215v7M213 287.5h7M216.5 284v7M214 241.5h7M217.5 238v7M214 301.5h7M217.5 298v7M214 278.5h7M217.5 275v7M214 259.5h7M217.5 256v7M214 292.5h7M217.5 289v7M214 236.5h7M217.5 233v7M214 209.5h7M217.5 206v7M215 282.5h7M218.5 279v7M215 292.5h7M218.5 289v7M215 236.5h7M218.5 233v7M215 278.5h7M218.5 275v7M215 227.5h7M218.5 224v7M215 287.5h7M218.5 284v7M215 232.5h7M218.5 229v7M216 232.5h7M219.5 229v7M216 236.5h7M219.5 233v7M216 264.5h7M219.5 261v7M216 227.5h7M219.5 224v7M216 259.5h7M219.5 256v7M216 292.5h7M219.5 289v7M216 278.5h7M219.5 275v7M216 190.5h7M219.5 187v7M216 241.5h7M219.5 238v7M216 222.5h7M219.5 219v7M217 190.5h7M220.5 187v7M217 222.5h7M220.5 219v7M217 232.5h7M220.5 229v7M217 278.5h7M220.5 275v7M217 287.5h7M220.5 284v7M217 255.5h7M220.5 252v7M217 227.5h7M220.5 224v7M217 250.5h7M220.5 247v7M218 241.5h7M221.5 238v7M218 264.5h7M221.5 261v7M218 246.5h7M221.5 243v7M218 222.5h7M221.5 219v7M218 259.5h7M221.5 256v7M218 278.5h7M221.5 275v7M218 232.5h7M221.5 229v7M218 296.5h7M221.5 293v7M219 282.5h7M222.5 279v7M219 269.5h7M222.5 266v7M219 273.5h7M222.5 270v7M219 250.5h7M222.5 247v7M219 287.5h7M222.5 284v7M219 222.5h7M222.5 219v7M219 296.5h7M222.5 293v7M219 264.5h7M222.5 261v7M220 236.5h7M223.5 233v7M220 292.5h7M223.5 289v7M220 227.5h7M223.5 224v7M220 209.5h7M223.5 206v7M220 250.5h7M223.5 247v7M220 269.5h7M223.5 266v7M220 273.5h7M223.5 270v7M220 241.5h7M223.5 238v7M220 255.5h7M223.5 252v7M220 218.5h7M223.5 215v7M221 282.5h7M224.5 279v7M221 255.5h7M224.5 252v7M221 218.5h7M224.5 215v7M221 236.5h7M224.5 233v7M221 269.5h7M224.5 266v7M221 232.5h7M224.5 229v7M222 301.5h7M225.5 298v7M222 232.5h7M225.5 229v7M222 227.5h7M225.5 224v7M222 241.5h7M225.5 238v7M222 287.5h7M225.5 284v7M222 250.5h7M225.5 247v7M222 264.5h7M225.5 261v7M223 296.5h7M226.5 293v7M223 209.5h7M226.5 206v7M223 259.5h7M226.5 256v7M223 287.5h7M226.5 284v7M223 236.5h7M226.5 233v7M223 241.5h7M226.5 238v7M223 246.5h7M226.5 243v7M223 264.5h7M226.5 261v7M224 273.5h7M227.5 270v7M224 278.5h7M227.5 275v7M224 264.5h7M227.5 261v7M224 227.5h7M227.5 224v7M224 296.5h7M227.5 293v7M224 301.5h7M227.5 298v7M224 232.5h7M227.5 229v7M224 282.5h7M227.5 279v7M225 273.5h7M228.5 270v7M225 204.5h7M228.5 201v7M225 259.5h7M228.5 256v7M225 292.5h7M228.5 289v7M225 222.5h7M228.5 219v7M226 259.5h7M229.5 256v7M226 273.5h7M229.5 270v7M226 232.5h7M229.5 229v7M226 269.5h7M229.5 266v7M226 264.5h7M229.5 261v7M226 195.5h7M229.5 192v7M226 287.5h7M229.5 284v7M226 246.5h7M229.5 243v7M226 222.5h7M229.5 219v7M226 218.5h7M229.5 215v7M227 250.5h7M230.5 247v7M227 292.5h7M230.5 289v7M227 204.5h7M230.5 201v7M227 269.5h7M230.5 266v7M227 241.5h7M230.5 238v7M227 282.5h7M230.5 279v7M227 213.5h7M230.5 210v7M227 287.5h7M230.5 284v7M228 255.5h7M231.5 252v7M228 273.5h7M231.5 270v7M228 287.5h7M231.5 284v7M228 204.5h7M231.5 201v7M228 246.5h7M231.5 243v7M228 269.5h7M231.5 266v7M228 292.5h7M231.5 289v7M229 227.5h7M232.5 224v7M229 204.5h7M232.5 201v7M229 259.5h7M232.5 256v7M229 287.5h7M232.5 284v7M229 209.5h7M232.5 206v7M229 301.5h7M232.5 298v7M229 213.5h7M232.5 210v7M229 278.5h7M232.5 275v7M230 209.5h7M233.5 206v7M230 199.5h7M233.5 196v7M230 241.5h7M233.5 238v7M230 273.5h7M233.5 270v7M230 296.5h7M233.5 293v7M230 232.5h7M233.5 229v7M230 301.5h7M233.5 298v7M230 246.5h7M233.5 243v7M231 190.5h7M234.5 187v7M231 227.5h7M234.5 224v7M231 246.5h7M234.5 243v7M231 269.5h7M234.5 266v7M231 232.5h7M234.5 229v7M231 296.5h7M234.5 293v7M231 292.5h7M234.5 289v7M231 222.5h7M234.5 219v7M232 190.5h7M235.5 187v7M232 241.5h7M235.5 238v7M232 282.5h7M235.5 279v7M232 259.5h7M235.5 256v7M232 301.5h7M235.5 298v7M232 269.5h7M235.5 266v7M232 255.5h7M235.5 252v7M232 246.5h7M235.5 243v7M232 278.5h7M235.5 275v7M233 255.5h7M236.5 252v7M233 301.5h7M236.5 298v7M233 241.5h7M236.5 238v7M233 176.5h7M236.5 173v7M233 282.5h7M236.5 279v7M233 232.5h7M236.5 229v7M233 250.5h7M236.5 247v7M233 259.5h7M236.5 256v7M234 264.5h7M237.5 261v7M234 250.5h7M237.5 247v7M234 236.5h7M237.5 233v7M234 130.5h7M237.5 127v7M234 213.5h7M237.5 210v7M234 255.5h7M237.5 252v7M234 246.5h7M237.5 243v7M234 167.5h7M237.5 164v7M234 278.5h7M237.5 275v7M234 259.5h7M237.5 256v7M234 241.5h7M237.5 238v7M235 264.5h7M238.5 261v7M235 232.5h7M238.5 229v7M235 236.5h7M238.5 233v7M235 222.5h7M238.5 219v7M235 282.5h7M238.5 279v7M235 287.5h7M238.5 284v7M235 296.5h7M238.5 293v7M235 181.5h7M238.5 178v7M236 246.5h7M239.5 243v7M236 273.5h7M239.5 270v7M236 255.5h7M239.5 252v7M236 278.5h7M239.5 275v7M236 222.5h7M239.5 219v7M236 269.5h7M239.5 266v7M236 264.5h7M239.5 261v7M236 213.5h7M239.5 210v7M236 236.5h7M239.5 233v7M237 255.5h7M240.5 252v7M237 199.5h7M240.5 196v7M237 246.5h7M240.5 243v7M237 195.5h7M240.5 192v7M237 278.5h7M240.5 275v7M237 301.5h7M240.5 298v7M237 204.5h7M240.5 201v7M237 269.5h7M240.5 266v7M237 153.5h7M240.5 150v7M238 264.5h7M241.5 261v7M238 278.5h7M241.5 275v7M238 232.5h7M241.5 229v7M238 139.5h7M241.5 136v7M238 199.5h7M241.5 196v7M238 162.5h7M241.5 159v7M238 144.5h7M241.5 141v7M238 190.5h7M241.5 187v7M238 227.5h7M241.5 224v7M239 181.5h7M242.5 178v7M239 139.5h7M242.5 136v7M239 204.5h7M242.5 201v7M239 222.5h7M242.5 219v7M239 199.5h7M242.5 196v7M239 167.5h7M242.5 164v7M239 144.5h7M242.5 141v7M240 116.5h7M243.5 113v7M240 121.5h7M243.5 118v7M240 222.5h7M243.5 219v7M240 176.5h7M243.5 173v7M240 181.5h7M243.5 178v7M240 213.5h7M243.5 210v7M240 218.5h7M243.5 215v7M241 186.5h7M244.5 183v7M241 213.5h7M244.5 210v7M241 236.5h7M244.5 233v7M241 153.5h7M244.5 150v7M241 232.5h7M244.5 229v7M241 218.5h7M244.5 215v7M241 172.5h7M244.5 169v7M241 209.5h7M244.5 206v7M242 227.5h7M245.5 224v7M242 139.5h7M245.5 136v7M242 144.5h7M245.5 141v7M242 232.5h7M245.5 229v7M242 195.5h7M245.5 192v7M242 213.5h7M245.5 210v7M242 176.5h7M245.5 173v7M243 181.5h7M246.5 178v7M243 195.5h7M246.5 192v7M243 209.5h7M246.5 206v7M243 199.5h7M246.5 196v7M243 218.5h7M246.5 215v7M243 204.5h7M246.5 201v7M243 222.5h7M246.5 219v7M244 222.5h7M247.5 219v7M244 172.5h7M247.5 169v7M244 144.5h7M247.5 141v7M244 176.5h7M247.5 173v7M244 149.5h7M247.5 146v7M244 153.5h7M247.5 150v7M244 190.5h7M247.5 187v7M245 139.5h7M248.5 136v7M245 195.5h7M248.5 192v7M245 222.5h7M248.5 219v7M245 213.5h7M248.5 210v7M245 186.5h7M248.5 183v7M245 176.5h7M248.5 173v7M245 144.5h7M248.5 141v7M246 213.5h7M249.5 210v7M246 176.5h7M249.5 173v7M246 195.5h7M249.5 192v7M246 241.5h7M249.5 238v7M246 232.5h7M249.5 229v7M246 186.5h7M249.5 183v7M246 222.5h7M249.5 219v7M247 213.5h7M250.5 210v7M247 172.5h7M250.5 169v7M247 209.5h7M250.5 206v7M247 190.5h7M250.5 187v7M247 204.5h7M250.5 201v7M247 130.5h7M250.5 127v7M247 167.5h7M250.5 164v7M248 213.5h7M251.5 210v7M248 222.5h7M251.5 219v7M248 176.5h7M251.5 173v7M248 162.5h7M251.5 159v7M248 149.5h7M251.5 146v7M248 199.5h7M251.5 196v7M248 218.5h7M251.5 215v7M249 139.5h7M252.5 136v7M249 204.5h7M252.5 201v7M249 199.5h7M252.5 196v7M249 227.5h7M252.5 224v7M249 209.5h7M252.5 206v7M249 218.5h7M252.5 215v7M249 181.5h7M252.5 178v7M249 121.5h7M252.5 118v7M250 162.5h7M253.5 159v7M250 227.5h7M253.5 224v7M250 149.5h7M253.5 146v7M250 222.5h7M253.5 219v7M250 190.5h7M253.5 187v7M250 144.5h7M253.5 141v7M250 158.5h7M253.5 155v7M250 186.5h7M253.5 183v7M251 213.5h7M254.5 210v7M251 139.5h7M254.5 136v7M251 204.5h7M254.5 201v7M251 209.5h7M254.5 206v7M251 222.5h7M254.5 219v7M251 144.5h7M254.5 141v7M251 218.5h7M254.5 215v7M251 167.5h7M254.5 164v7M252 162.5h7M255.5 159v7M252 172.5h7M255.5 169v7M252 195.5h7M255.5 192v7M252 158.5h7M255.5 155v7M252 176.5h7M255.5 173v7M252 199.5h7M255.5 196v7M252 227.5h7M255.5 224v7M252 153.5h7M255.5 150v7M253 227.5h7M256.5 224v7M253 199.5h7M256.5 196v7M253 162.5h7M256.5 159v7M253 213.5h7M256.5 210v7M253 186.5h7M256.5 183v7M254 144.5h7M257.5 141v7M254 190.5h7M257.5 187v7M254 227.5h7M257.5 224v7M254 158.5h7M257.5 155v7M254 199.5h7M257.5 196v7M254 204.5h7M257.5 201v7M254 130.5h7M257.5 127v7M254 167.5h7M257.5 164v7M254 186.5h7M257.5 183v7M255 153.5h7M258.5 150v7M255 190.5h7M258.5 187v7M255 218.5h7M258.5 215v7M255 213.5h7M258.5 210v7M255 167.5h7M258.5 164v7M255 139.5h7M258.5 136v7M256 195.5h7M259.5 192v7M256 172.5h7M259.5 169v7M256 204.5h7M259.5 201v7M256 158.5h7M259.5 155v7M256 218.5h7M259.5 215v7M256 153.5h7M259.5 150v7M256 144.5h7M259.5 141v7M256 162.5h7M259.5 159v7M256 209.5h7M259.5 206v7M257 222.5h7M260.5 219v7M257 213.5h7M260.5 210v7M257 218.5h7M260.5 215v7M257 144.5h7M260.5 141v7M257 162.5h7M260.5 159v7M257 209.5h7M260.5 206v7M257 190.5h7M260.5 187v7M257 176.5h7M260.5 173v7M258 209.5h7M261.5 206v7M258 218.5h7M261.5 215v7M258 199.5h7M261.5 196v7M258 167.5h7M261.5 164v7M258 190.5h7M261.5 187v7M258 222.5h7M261.5 219v7M258 186.5h7M261.5 183v7M259 153.5h7M262.5 150v7M259 181.5h7M262.5 178v7M259 232.5h7M262.5 229v7M259 227.5h7M262.5 224v7M259 158.5h7M262.5 155v7M259 172.5h7M262.5 169v7M259 195.5h7M262.5 192v7M260 232.5h7M263.5 229v7M260 213.5h7M263.5 210v7M260 301.5h7M263.5 298v7M260 296.5h7M263.5 293v7M260 158.5h7M263.5 155v7M260 172.5h7M263.5 169v7M260 199.5h7M263.5 196v7M260 176.5h7M263.5 173v7M260 287.5h7M263.5 284v7M261 162.5h7M264.5 159v7M261 227.5h7M264.5 224v7M261 158.5h7M264.5 155v7M261 181.5h7M264.5 178v7M262 227.5h7M265.5 224v7M262 167.5h7M265.5 164v7M262 213.5h7M265.5 210v7M262 222.5h7M265.5 219v7M262 204.5h7M265.5 201v7M262 172.5h7M265.5 169v7M262 190.5h7M265.5 187v7M262 181.5h7M265.5 178v7M263 204.5h7M266.5 201v7M263 218.5h7M266.5 215v7M263 241.5h7M266.5 238v7M263 195.5h7M266.5 192v7M263 227.5h7M266.5 224v7M263 232.5h7M266.5 229v7M264 199.5h7M267.5 196v7M264 121.5h7M267.5 118v7M264 227.5h7M267.5 224v7M264 222.5h7M267.5 219v7M264 181.5h7M267.5 178v7M264 209.5h7M267.5 206v7M264 218.5h7M267.5 215v7M264 204.5h7M267.5 201v7M265 236.5h7M268.5 233v7M265 181.5h7M268.5 178v7M265 172.5h7M268.5 169v7M265 199.5h7M268.5 196v7M265 144.5h7M268.5 141v7M265 204.5h7M268.5 201v7M265 227.5h7M268.5 224v7M265 186.5h7M268.5 183v7M266 158.5h7M269.5 155v7M266 153.5h7M269.5 150v7M266 213.5h7M269.5 210v7M266 195.5h7M269.5 192v7M266 139.5h7M269.5 136v7M266 149.5h7M269.5 146v7M266 199.5h7M269.5 196v7M266 190.5h7M269.5 187v7M266 236.5h7M269.5 233v7M267 195.5h7M270.5 192v7M267 167.5h7M270.5 164v7M267 232.5h7M270.5 229v7M267 176.5h7M270.5 173v7M267 172.5h7M270.5 169v7M267 236.5h7M270.5 233v7M267 186.5h7M270.5 183v7M267 181.5h7M270.5 178v7M268 218.5h7M271.5 215v7M268 199.5h7M271.5 196v7M268 222.5h7M271.5 219v7M268 209.5h7M271.5 206v7M268 190.5h7M271.5 187v7M269 162.5h7M272.5 159v7M269 172.5h7M272.5 169v7M269 236.5h7M272.5 233v7M269 181.5h7M272.5 178v7M269 227.5h7M272.5 224v7M269 167.5h7M272.5 164v7M269 158.5h7M272.5 155v7M269 218.5h7M272.5 215v7M270 246.5h7M273.5 243v7M270 236.5h7M273.5 233v7M270 176.5h7M273.5 173v7M270 149.5h7M273.5 146v7M270 218.5h7M273.5 215v7M270 232.5h7M273.5 229v7M270 162.5h7M273.5 159v7M271 195.5h7M274.5 192v7M271 227.5h7M274.5 224v7M271 209.5h7M274.5 206v7M271 204.5h7M274.5 201v7M271 218.5h7M274.5 215v7M271 213.5h7M274.5 210v7M272 172.5h7M275.5 169v7M272 209.5h7M275.5 206v7M272 199.5h7M275.5 196v7M272 241.5h7M275.5 238v7M272 181.5h7M275.5 178v7M272 186.5h7M275.5 183v7M272 222.5h7M275.5 219v7M272 213.5h7M275.5 210v7M272 204.5h7M275.5 201v7M273 227.5h7M276.5 224v7M273 103.5h7M276.5 100v7M273 167.5h7M276.5 164v7M273 149.5h7M276.5 146v7M273 218.5h7M276.5 215v7M273 222.5h7M276.5 219v7M273 181.5h7M276.5 178v7M274 222.5h7M277.5 219v7M274 204.5h7M277.5 201v7M274 209.5h7M277.5 206v7M274 186.5h7M277.5 183v7M274 236.5h7M277.5 233v7M274 181.5h7M277.5 178v7M275 222.5h7M278.5 219v7M275 218.5h7M278.5 215v7M275 213.5h7M278.5 210v7M275 195.5h7M278.5 192v7M275 190.5h7M278.5 187v7M275 232.5h7M278.5 229v7M275 199.5h7M278.5 196v7M276 158.5h7M279.5 155v7M276 204.5h7M279.5 201v7M276 209.5h7M279.5 206v7M276 162.5h7M279.5 159v7M276 227.5h7M279.5 224v7M276 222.5h7M279.5 219v7M276 167.5h7M279.5 164v7M277 172.5h7M280.5 169v7M277 209.5h7M280.5 206v7M277 236.5h7M280.5 233v7M277 186.5h7M280.5 183v7M277 195.5h7M280.5 192v7M277 199.5h7M280.5 196v7M277 222.5h7M280.5 219v7M277 241.5h7M280.5 238v7M278 186.5h7M281.5 183v7M278 162.5h7M281.5 159v7M278 176.5h7M281.5 173v7M278 209.5h7M281.5 206v7M278 218.5h7M281.5 215v7M278 222.5h7M281.5 219v7M279 172.5h7M282.5 169v7M279 213.5h7M282.5 210v7M279 176.5h7M282.5 173v7M279 232.5h7M282.5 229v7M279 190.5h7M282.5 187v7M279 218.5h7M282.5 215v7M279 347.5h7M282.5 344v7M280 352.5h7M283.5 349v7M280 370.5h7M283.5 367v7M280 356.5h7M283.5 353v7M280 375.5h7M283.5 372v7M280 361.5h7M283.5 358v7M280 379.5h7M283.5 376v7M281 375.5h7M284.5 372v7M281 356.5h7M284.5 353v7M281 384.5h7M284.5 381v7M281 361.5h7M284.5 358v7M281 379.5h7M284.5 376v7M281 352.5h7M284.5 349v7M281 370.5h7M284.5 367v7M282 365.5h7M285.5 362v7M282 379.5h7M285.5 376v7M282 356.5h7M285.5 353v7M282 375.5h7M285.5 372v7M282 361.5h7M285.5 358v7M282 352.5h7M285.5 349v7M282 370.5h7M285.5 367v7M283 365.5h7M286.5 362v7M283 352.5h7M286.5 349v7M283 370.5h7M286.5 367v7M283 361.5h7M286.5 358v7M283 375.5h7M286.5 372v7M283 356.5h7M286.5 353v7M284 347.5h7M287.5 344v7M284 365.5h7M287.5 362v7M284 352.5h7M287.5 349v7M284 361.5h7M287.5 358v7M285 361.5h7M288.5 358v7M285 338.5h7M288.5 335v7M285 365.5h7M288.5 362v7M285 347.5h7M288.5 344v7M285 352.5h7M288.5 349v7M286 361.5h7M289.5 358v7M286 347.5h7M289.5 344v7M286 333.5h7M289.5 330v7M286 315.5h7M289.5 312v7M286 296.5h7M289.5 293v7M286 204.5h7M289.5 201v7M286 195.5h7M289.5 192v7M286 190.5h7M289.5 187v7M286 186.5h7M289.5 183v7M286 181.5h7M289.5 178v7M286 176.5h7M289.5 173v7M286 338.5h7M289.5 335v7M287 361.5h7M290.5 358v7M287 384.5h7M290.5 381v7M287 352.5h7M290.5 349v7M287 365.5h7M290.5 362v7M287 356.5h7M290.5 353v7M287 370.5h7M290.5 367v7M288 356.5h7M291.5 353v7M288 365.5h7M291.5 362v7M288 347.5h7M291.5 344v7M288 361.5h7M291.5 358v7M288 352.5h7M291.5 349v7M288 333.5h7M291.5 330v7M289 241.5h7M292.5 238v7M289 213.5h7M292.5 210v7M289 181.5h7M292.5 178v7M289 218.5h7M292.5 215v7M289 186.5h7M292.5 183v7M289 232.5h7M292.5 229v7M290 199.5h7M293.5 196v7M290 176.5h7M293.5 173v7M290 195.5h7M293.5 192v7M290 227.5h7M293.5 224v7M290 172.5h7M293.5 169v7M290 232.5h7M293.5 229v7M291 213.5h7M294.5 210v7M291 181.5h7M294.5 178v7M291 222.5h7M294.5 219v7M291 93.5h7M294.5 90v7M291 176.5h7M294.5 173v7M291 172.5h7M294.5 169v7M291 190.5h7M294.5 187v7M292 190.5h7M295.5 187v7M292 181.5h7M295.5 178v7M292 195.5h7M295.5 192v7M292 186.5h7M295.5 183v7M292 232.5h7M295.5 229v7M292 213.5h7M295.5 210v7M293 241.5h7M296.5 238v7M293 213.5h7M296.5 210v7M293 190.5h7M296.5 187v7M293 195.5h7M296.5 192v7M294 176.5h7M297.5 173v7M294 227.5h7M297.5 224v7M294 130.5h7M297.5 127v7M294 153.5h7M297.5 150v7M294 181.5h7M297.5 178v7M294 172.5h7M297.5 169v7M294 199.5h7M297.5 196v7M294 241.5h7M297.5 238v7M295 149.5h7M298.5 146v7M295 305.5h7M298.5 302v7M295 186.5h7M298.5 183v7M295 310.5h7M298.5 307v7M295 218.5h7M298.5 215v7M295 246.5h7M298.5 243v7M295 232.5h7M298.5 229v7M295 315.5h7M298.5 312v7M295 167.5h7M298.5 164v7M295 213.5h7M298.5 210v7M295 181.5h7M298.5 178v7M296 190.5h7M299.5 187v7M296 246.5h7M299.5 243v7M296 144.5h7M299.5 141v7M296 153.5h7M299.5 150v7M296 172.5h7M299.5 169v7M296 222.5h7M299.5 219v7M296 218.5h7M299.5 215v7M296 158.5h7M299.5 155v7M297 287.5h7M300.5 284v7M297 236.5h7M300.5 233v7M297 222.5h7M300.5 219v7M297 199.5h7M300.5 196v7M297 246.5h7M300.5 243v7M297 241.5h7M300.5 238v7M297 250.5h7M300.5 247v7M297 195.5h7M300.5 192v7M298 204.5h7M301.5 201v7M298 213.5h7M301.5 210v7M298 190.5h7M301.5 187v7M298 195.5h7M301.5 192v7M298 269.5h7M301.5 266v7M298 255.5h7M301.5 252v7M298 172.5h7M301.5 169v7M298 227.5h7M301.5 224v7M299 246.5h7M302.5 243v7M299 269.5h7M302.5 266v7M299 195.5h7M302.5 192v7M299 176.5h7M302.5 173v7M299 186.5h7M302.5 183v7M299 213.5h7M302.5 210v7M299 264.5h7M302.5 261v7M299 232.5h7M302.5 229v7M300 264.5h7M303.5 261v7M300 232.5h7M303.5 229v7M300 246.5h7M303.5 243v7M300 199.5h7M303.5 196v7M300 222.5h7M303.5 219v7M300 218.5h7M303.5 215v7M300 269.5h7M303.5 266v7M300 190.5h7M303.5 187v7M301 264.5h7M304.5 261v7M301 273.5h7M304.5 270v7M301 282.5h7M304.5 279v7M301 259.5h7M304.5 256v7M301 255.5h7M304.5 252v7M301 227.5h7M304.5 224v7M301 232.5h7M304.5 229v7M302 195.5h7M305.5 192v7M302 186.5h7M305.5 183v7M302 269.5h7M305.5 266v7M302 190.5h7M305.5 187v7M302 255.5h7M305.5 252v7M302 246.5h7M305.5 243v7M302 204.5h7M305.5 201v7M302 209.5h7M305.5 206v7M302 241.5h7M305.5 238v7M302 232.5h7M305.5 229v7M303 232.5h7M306.5 229v7M303 209.5h7M306.5 206v7M303 190.5h7M306.5 187v7M303 273.5h7M306.5 270v7M303 199.5h7M306.5 196v7M303 269.5h7M306.5 266v7M303 236.5h7M306.5 233v7M303 259.5h7M306.5 256v7M304 218.5h7M307.5 215v7M304 227.5h7M307.5 224v7M304 264.5h7M307.5 261v7M304 255.5h7M307.5 252v7M304 232.5h7M307.5 229v7M304 222.5h7M307.5 219v7M304 278.5h7M307.5 275v7M304 282.5h7M307.5 279v7M305 255.5h7M308.5 252v7M305 282.5h7M308.5 279v7M305 241.5h7M308.5 238v7M305 232.5h7M308.5 229v7M305 292.5h7M308.5 289v7M306 264.5h7M309.5 261v7M306 282.5h7M309.5 279v7M306 241.5h7M309.5 238v7M306 269.5h7M309.5 266v7M306 204.5h7M309.5 201v7M306 236.5h7M309.5 233v7M306 255.5h7M309.5 252v7M307 246.5h7M310.5 243v7M307 278.5h7M310.5 275v7M307 236.5h7M310.5 233v7M307 255.5h7M310.5 252v7M307 296.5h7M310.5 293v7M307 269.5h7M310.5 266v7M307 292.5h7M310.5 289v7M308 236.5h7M311.5 233v7M308 269.5h7M311.5 266v7M308 273.5h7M311.5 270v7M308 250.5h7M311.5 247v7M308 222.5h7M311.5 219v7M309 287.5h7M312.5 284v7M309 246.5h7M312.5 243v7M309 282.5h7M312.5 279v7M309 255.5h7M312.5 252v7M309 250.5h7M312.5 247v7M310 213.5h7M313.5 210v7M310 273.5h7M313.5 270v7M310 204.5h7M313.5 201v7M310 250.5h7M313.5 247v7M310 236.5h7M313.5 233v7M310 241.5h7M313.5 238v7M310 222.5h7M313.5 219v7M311 232.5h7M314.5 229v7M311 246.5h7M314.5 243v7M311 241.5h7M314.5 238v7M311 273.5h7M314.5 270v7M311 269.5h7M314.5 266v7M311 250.5h7M314.5 247v7M311 255.5h7M314.5 252v7M311 264.5h7M314.5 261v7M312 227.5h7M315.5 224v7M312 301.5h7M315.5 298v7M312 264.5h7M315.5 261v7M312 273.5h7M315.5 270v7M312 204.5h7M315.5 201v7M312 236.5h7M315.5 233v7M313 209.5h7M316.5 206v7M313 250.5h7M316.5 247v7M313 301.5h7M316.5 298v7M313 222.5h7M316.5 219v7M313 204.5h7M316.5 201v7M313 264.5h7M316.5 261v7M314 292.5h7M317.5 289v7M314 273.5h7M317.5 270v7M314 287.5h7M317.5 284v7M314 232.5h7M317.5 229v7M314 176.5h7M317.5 173v7M314 241.5h7M317.5 238v7M314 236.5h7M317.5 233v7M314 296.5h7M317.5 293v7M315 259.5h7M318.5 256v7M315 241.5h7M318.5 238v7M315 222.5h7M318.5 219v7M315 269.5h7M318.5 266v7M315 296.5h7M318.5 293v7M315 236.5h7M318.5 233v7M315 204.5h7M318.5 201v7M315 273.5h7M318.5 270v7M316 278.5h7M319.5 275v7M316 273.5h7M319.5 270v7M316 236.5h7M319.5 233v7M316 232.5h7M319.5 229v7M316 264.5h7M319.5 261v7M316 246.5h7M319.5 243v7M316 241.5h7M319.5 238v7M317 292.5h7M320.5 289v7M317 264.5h7M320.5 261v7M317 282.5h7M320.5 279v7M317 241.5h7M320.5 238v7M317 287.5h7M320.5 284v7M317 255.5h7M320.5 252v7M317 296.5h7M320.5 293v7M318 250.5h7M321.5 247v7M318 236.5h7M321.5 233v7M318 269.5h7M321.5 266v7M318 222.5h7M321.5 219v7M318 241.5h7M321.5 238v7M318 190.5h7M321.5 187v7M318 232.5h7M321.5 229v7M318 282.5h7M321.5 279v7M318 139.5h7M321.5 136v7M319 232.5h7M322.5 229v7M319 282.5h7M322.5 279v7M319 222.5h7M322.5 219v7M319 195.5h7M322.5 192v7M319 287.5h7M322.5 284v7M319 273.5h7M322.5 270v7M320 301.5h7M323.5 298v7M320 278.5h7M323.5 275v7M320 287.5h7M323.5 284v7M320 227.5h7M323.5 224v7M320 282.5h7M323.5 279v7M320 255.5h7M323.5 252v7M321 255.5h7M324.5 252v7M321 246.5h7M324.5 243v7M321 241.5h7M324.5 238v7M321 305.5h7M324.5 302v7M321 287.5h7M324.5 284v7M321 259.5h7M324.5 256v7M321 227.5h7M324.5 224v7M321 269.5h7M324.5 266v7M321 250.5h7M324.5 247v7M322 287.5h7M325.5 284v7M322 282.5h7M325.5 279v7M322 213.5h7M325.5 210v7M322 296.5h7M325.5 293v7M322 259.5h7M325.5 256v7M322 264.5h7M325.5 261v7M322 246.5h7M325.5 243v7M323 209.5h7M326.5 206v7M323 222.5h7M326.5 219v7M323 269.5h7M326.5 266v7M323 241.5h7M326.5 238v7M323 236.5h7M326.5 233v7M323 232.5h7M326.5 229v7M323 199.5h7M326.5 196v7M323 296.5h7M326.5 293v7M324 255.5h7M327.5 252v7M324 199.5h7M327.5 196v7M324 273.5h7M327.5 270v7M324 236.5h7M327.5 233v7M324 232.5h7M327.5 229v7M324 209.5h7M327.5 206v7M324 222.5h7M327.5 219v7M325 236.5h7M328.5 233v7M325 287.5h7M328.5 284v7M325 209.5h7M328.5 206v7M325 255.5h7M328.5 252v7M325 241.5h7M328.5 238v7M325 199.5h7M328.5 196v7M326 264.5h7M329.5 261v7M326 259.5h7M329.5 256v7M326 209.5h7M329.5 206v7M326 222.5h7M329.5 219v7M326 282.5h7M329.5 279v7M326 213.5h7M329.5 210v7M326 287.5h7M329.5 284v7M326 255.5h7M329.5 252v7M327 209.5h7M330.5 206v7M327 241.5h7M330.5 238v7M327 232.5h7M330.5 229v7M327 273.5h7M330.5 270v7M327 255.5h7M330.5 252v7M327 296.5h7M330.5 293v7M328 278.5h7M331.5 275v7M328 218.5h7M331.5 215v7M328 246.5h7M331.5 243v7M328 264.5h7M331.5 261v7M328 232.5h7M331.5 229v7M328 282.5h7M331.5 279v7M329 241.5h7M332.5 238v7M329 282.5h7M332.5 279v7M329 264.5h7M332.5 261v7M329 292.5h7M332.5 289v7M329 259.5h7M332.5 256v7M330 209.5h7M333.5 206v7M330 222.5h7M333.5 219v7M330 227.5h7M333.5 224v7M330 246.5h7M333.5 243v7M330 269.5h7M333.5 266v7M330 204.5h7M333.5 201v7M330 255.5h7M333.5 252v7M330 250.5h7M333.5 247v7M331 190.5h7M334.5 187v7M331 162.5h7M334.5 159v7M331 264.5h7M334.5 261v7M331 241.5h7M334.5 238v7M331 273.5h7M334.5 270v7M331 232.5h7M334.5 229v7M331 126.5h7M334.5 123v7M331 269.5h7M334.5 266v7M332 139.5h7M335.5 136v7M332 292.5h7M335.5 289v7M332 259.5h7M335.5 256v7M332 181.5h7M335.5 178v7M332 130.5h7M335.5 127v7M332 167.5h7M335.5 164v7M332 126.5h7M335.5 123v7M332 269.5h7M335.5 266v7M332 236.5h7M335.5 233v7M332 176.5h7M335.5 173v7M332 250.5h7M335.5 247v7M333 246.5h7M336.5 243v7M333 181.5h7M336.5 178v7M333 213.5h7M336.5 210v7M333 144.5h7M336.5 141v7M333 241.5h7M336.5 238v7M334 250.5h7M337.5 247v7M334 199.5h7M337.5 196v7M334 181.5h7M337.5 178v7M334 218.5h7M337.5 215v7M334 246.5h7M337.5 243v7M334 172.5h7M337.5 169v7M334 153.5h7M337.5 150v7M334 204.5h7M337.5 201v7M334 186.5h7M337.5 183v7M335 176.5h7M338.5 173v7M335 181.5h7M338.5 178v7M335 236.5h7M338.5 233v7M335 227.5h7M338.5 224v7M335 232.5h7M338.5 229v7M335 246.5h7M338.5 243v7M335 209.5h7M338.5 206v7M336 250.5h7M339.5 247v7M336 172.5h7M339.5 169v7M336 246.5h7M339.5 243v7M336 218.5h7M339.5 215v7M336 176.5h7M339.5 173v7M336 181.5h7M339.5 178v7M337 236.5h7M340.5 233v7M337 218.5h7M340.5 215v7M337 153.5h7M340.5 150v7M337 186.5h7M340.5 183v7M337 250.5h7M340.5 247v7M337 190.5h7M340.5 187v7M337 246.5h7M340.5 243v7M337 199.5h7M340.5 196v7M338 181.5h7M341.5 178v7M338 162.5h7M341.5 159v7M338 204.5h7M341.5 201v7M338 222.5h7M341.5 219v7M338 199.5h7M341.5 196v7M338 232.5h7M341.5 229v7M338 121.5h7M341.5 118v7M339 213.5h7M342.5 210v7M339 227.5h7M342.5 224v7M339 181.5h7M342.5 178v7M339 172.5h7M342.5 169v7M339 153.5h7M342.5 150v7M339 195.5h7M342.5 192v7M339 236.5h7M342.5 233v7M339 222.5h7M342.5 219v7M339 176.5h7M342.5 173v7M340 162.5h7M343.5 159v7M340 232.5h7M343.5 229v7M340 218.5h7M343.5 215v7M340 204.5h7M343.5 201v7M340 250.5h7M343.5 247v7M340 167.5h7M343.5 164v7M340 176.5h7M343.5 173v7M340 246.5h7M343.5 243v7M340 227.5h7M343.5 224v7M341 236.5h7M344.5 233v7M341 218.5h7M344.5 215v7M341 232.5h7M344.5 229v7M341 209.5h7M344.5 206v7M341 204.5h7M344.5 201v7M342 246.5h7M345.5 243v7M342 209.5h7M345.5 206v7M342 218.5h7M345.5 215v7M342 172.5h7M345.5 169v7M342 236.5h7M345.5 233v7M342 139.5h7M345.5 136v7M342 186.5h7M345.5 183v7M342 195.5h7M345.5 192v7M343 246.5h7M346.5 243v7M343 181.5h7M346.5 178v7M343 190.5h7M346.5 187v7M343 222.5h7M346.5 219v7M343 213.5h7M346.5 210v7M343 199.5h7M346.5 196v7M344 181.5h7M347.5 178v7M344 195.5h7M347.5 192v7M344 218.5h7M347.5 215v7M344 199.5h7M347.5 196v7M344 232.5h7M347.5 229v7M344 172.5h7M347.5 169v7M344 250.5h7M347.5 247v7M345 246.5h7M348.5 243v7M345 204.5h7M348.5 201v7M345 222.5h7M348.5 219v7M345 209.5h7M348.5 206v7M345 195.5h7M348.5 192v7M345 144.5h7M348.5 141v7M345 213.5h7M348.5 210v7M345 181.5h7M348.5 178v7M346 181.5h7M349.5 178v7M346 218.5h7M349.5 215v7M346 222.5h7M349.5 219v7M346 213.5h7M349.5 210v7M346 236.5h7M349.5 233v7M346 190.5h7M349.5 187v7M347 236.5h7M350.5 233v7M347 213.5h7M350.5 210v7M347 204.5h7M350.5 201v7M347 162.5h7M350.5 159v7M347 227.5h7M350.5 224v7M348 204.5h7M351.5 201v7M348 213.5h7M351.5 210v7M348 190.5h7M351.5 187v7M348 149.5h7M351.5 146v7M348 181.5h7M351.5 178v7M348 172.5h7M351.5 169v7M348 250.5h7M351.5 247v7M348 209.5h7M351.5 206v7M348 199.5h7M351.5 196v7M349 232.5h7M352.5 229v7M349 172.5h7M352.5 169v7M349 255.5h7M352.5 252v7M349 204.5h7M352.5 201v7M349 273.5h7M352.5 270v7M349 241.5h7M352.5 238v7M349 167.5h7M352.5 164v7M349 199.5h7M352.5 196v7M349 259.5h7M352.5 256v7M349 181.5h7M352.5 178v7M350 195.5h7M353.5 192v7M350 236.5h7M353.5 233v7M350 246.5h7M353.5 243v7M350 209.5h7M353.5 206v7M350 222.5h7M353.5 219v7M350 204.5h7M353.5 201v7M350 218.5h7M353.5 215v7M350 250.5h7M353.5 247v7M351 222.5h7M354.5 219v7M351 232.5h7M354.5 229v7M351 172.5h7M354.5 169v7M351 264.5h7M354.5 261v7M351 282.5h7M354.5 279v7M351 259.5h7M354.5 256v7M351 190.5h7M354.5 187v7M352 204.5h7M355.5 201v7M352 246.5h7M355.5 243v7M352 162.5h7M355.5 159v7M352 149.5h7M355.5 146v7M352 209.5h7M355.5 206v7M352 292.5h7M355.5 289v7M352 250.5h7M355.5 247v7M352 195.5h7M355.5 192v7M352 176.5h7M355.5 173v7M353 236.5h7M356.5 233v7M353 176.5h7M356.5 173v7M353 199.5h7M356.5 196v7M353 250.5h7M356.5 247v7M353 181.5h7M356.5 178v7M353 162.5h7M356.5 159v7M353 241.5h7M356.5 238v7M353 209.5h7M356.5 206v7M354 204.5h7M357.5 201v7M354 222.5h7M357.5 219v7M354 213.5h7M357.5 210v7M354 246.5h7M357.5 243v7M354 199.5h7M357.5 196v7M354 218.5h7M357.5 215v7M354 209.5h7M357.5 206v7M355 209.5h7M358.5 206v7M355 222.5h7M358.5 219v7M355 259.5h7M358.5 256v7M355 250.5h7M358.5 247v7M355 269.5h7M358.5 266v7M355 195.5h7M358.5 192v7M355 172.5h7M358.5 169v7M355 213.5h7M358.5 210v7M355 167.5h7M358.5 164v7M356 204.5h7M359.5 201v7M356 227.5h7M359.5 224v7M356 195.5h7M359.5 192v7M356 218.5h7M359.5 215v7M356 190.5h7M359.5 187v7M356 167.5h7M359.5 164v7M356 250.5h7M359.5 247v7M357 246.5h7M360.5 243v7M357 250.5h7M360.5 247v7M357 236.5h7M360.5 233v7M357 199.5h7M360.5 196v7M357 264.5h7M360.5 261v7M357 162.5h7M360.5 159v7M357 195.5h7M360.5 192v7M357 181.5h7M360.5 178v7M357 209.5h7M360.5 206v7M358 250.5h7M361.5 247v7M358 236.5h7M361.5 233v7M358 222.5h7M361.5 219v7M358 273.5h7M361.5 270v7M358 204.5h7M361.5 201v7M358 199.5h7M361.5 196v7M359 232.5h7M362.5 229v7M359 222.5h7M362.5 219v7M359 250.5h7M362.5 247v7M359 204.5h7M362.5 201v7M359 264.5h7M362.5 261v7M359 209.5h7M362.5 206v7M359 186.5h7M362.5 183v7M360 232.5h7M363.5 229v7M360 250.5h7M363.5 247v7M360 255.5h7M363.5 252v7M360 236.5h7M363.5 233v7M360 222.5h7M363.5 219v7M360 209.5h7M363.5 206v7M360 204.5h7M363.5 201v7M360 186.5h7M363.5 183v7M361 250.5h7M364.5 247v7M361 246.5h7M364.5 243v7M361 236.5h7M364.5 233v7M361 227.5h7M364.5 224v7M361 273.5h7M364.5 270v7M361 209.5h7M364.5 206v7M362 222.5h7M365.5 219v7M362 209.5h7M365.5 206v7M362 264.5h7M365.5 261v7M362 181.5h7M365.5 178v7M362 195.5h7M365.5 192v7M363 153.5h7M366.5 150v7M363 241.5h7M366.5 238v7M363 209.5h7M366.5 206v7M363 232.5h7M366.5 229v7M363 218.5h7M366.5 215v7M363 195.5h7M366.5 192v7M363 255.5h7M366.5 252v7M364 236.5h7M367.5 233v7M364 269.5h7M367.5 266v7M364 255.5h7M367.5 252v7M364 218.5h7M367.5 215v7M364 199.5h7M367.5 196v7M364 227.5h7M367.5 224v7M364 264.5h7M367.5 261v7M365 213.5h7M368.5 210v7M365 269.5h7M368.5 266v7M365 199.5h7M368.5 196v7M365 195.5h7M368.5 192v7M365 246.5h7M368.5 243v7M365 250.5h7M368.5 247v7M366 222.5h7M369.5 219v7M366 227.5h7M369.5 224v7M366 209.5h7M369.5 206v7M366 246.5h7M369.5 243v7M366 259.5h7M369.5 256v7M366 204.5h7M369.5 201v7M366 250.5h7M369.5 247v7M367 255.5h7M370.5 252v7M367 287.5h7M370.5 284v7M367 264.5h7M370.5 261v7M367 204.5h7M370.5 201v7M367 278.5h7M370.5 275v7M367 241.5h7M370.5 238v7M367 176.5h7M370.5 173v7M367 282.5h7M370.5 279v7M367 222.5h7M370.5 219v7M368 222.5h7M371.5 219v7M368 264.5h7M371.5 261v7M368 255.5h7M371.5 252v7M368 282.5h7M371.5 279v7M368 246.5h7M371.5 243v7M368 250.5h7M371.5 247v7M369 278.5h7M372.5 275v7M369 273.5h7M372.5 270v7M369 199.5h7M372.5 196v7M369 259.5h7M372.5 256v7M369 305.5h7M372.5 302v7M369 227.5h7M372.5 224v7M369 246.5h7M372.5 243v7M370 232.5h7M373.5 229v7M370 204.5h7M373.5 201v7M370 227.5h7M373.5 224v7M370 301.5h7M373.5 298v7M370 241.5h7M373.5 238v7M370 278.5h7M373.5 275v7M370 218.5h7M373.5 215v7M370 259.5h7M373.5 256v7M370 236.5h7M373.5 233v7M371 255.5h7M374.5 252v7M371 301.5h7M374.5 298v7M371 292.5h7M374.5 289v7M371 204.5h7M374.5 201v7M371 287.5h7M374.5 284v7M371 246.5h7M374.5 243v7M371 186.5h7M374.5 183v7M371 241.5h7M374.5 238v7M371 250.5h7M374.5 247v7M372 232.5h7M375.5 229v7M372 292.5h7M375.5 289v7M372 209.5h7M375.5 206v7M372 236.5h7M375.5 233v7M372 273.5h7M375.5 270v7M372 250.5h7M375.5 247v7M372 269.5h7M375.5 266v7M372 213.5h7M375.5 210v7M373 255.5h7M376.5 252v7M373 236.5h7M376.5 233v7M373 301.5h7M376.5 298v7M373 282.5h7M376.5 279v7M373 222.5h7M376.5 219v7M373 232.5h7M376.5 229v7M373 264.5h7M376.5 261v7M374 296.5h7M377.5 293v7M374 218.5h7M377.5 215v7M374 241.5h7M377.5 238v7M374 246.5h7M377.5 243v7M374 190.5h7M377.5 187v7M374 287.5h7M377.5 284v7M374 259.5h7M377.5 256v7M375 264.5h7M378.5 261v7M375 287.5h7M378.5 284v7M375 222.5h7M378.5 219v7M375 241.5h7M378.5 238v7M375 199.5h7M378.5 196v7M375 301.5h7M378.5 298v7M375 282.5h7M378.5 279v7M375 296.5h7M378.5 293v7M376 287.5h7M379.5 284v7M376 273.5h7M379.5 270v7M376 310.5h7M379.5 307v7M376 250.5h7M379.5 247v7M376 282.5h7M379.5 279v7M376 209.5h7M379.5 206v7M376 269.5h7M379.5 266v7M376 292.5h7M379.5 289v7M377 222.5h7M380.5 219v7M377 255.5h7M380.5 252v7M377 278.5h7M380.5 275v7M377 259.5h7M380.5 256v7M377 282.5h7M380.5 279v7M378 227.5h7M381.5 224v7M378 176.5h7M381.5 173v7M378 292.5h7M381.5 289v7M378 213.5h7M381.5 210v7M378 209.5h7M381.5 206v7M378 153.5h7M381.5 150v7M378 287.5h7M381.5 284v7M379 232.5h7M382.5 229v7M379 227.5h7M382.5 224v7M379 278.5h7M382.5 275v7M379 305.5h7M382.5 302v7M379 310.5h7M382.5 307v7M379 246.5h7M382.5 243v7M379 255.5h7M382.5 252v7M380 282.5h7M383.5 279v7M380 259.5h7M383.5 256v7M380 204.5h7M383.5 201v7M380 246.5h7M383.5 243v7M380 236.5h7M383.5 233v7M381 296.5h7M384.5 293v7M381 292.5h7M384.5 289v7M381 246.5h7M384.5 243v7M381 269.5h7M384.5 266v7M381 287.5h7M384.5 284v7M381 255.5h7M384.5 252v7M382 199.5h7M385.5 196v7M382 296.5h7M385.5 293v7M382 204.5h7M385.5 201v7M382 269.5h7M385.5 266v7M382 255.5h7M385.5 252v7M382 287.5h7M385.5 284v7M382 259.5h7M385.5 256v7M382 246.5h7M385.5 243v7M383 213.5h7M386.5 210v7M383 264.5h7M386.5 261v7M383 282.5h7M386.5 279v7M383 209.5h7M386.5 206v7M383 278.5h7M386.5 275v7M383 241.5h7M386.5 238v7M383 269.5h7M386.5 266v7M384 241.5h7M387.5 238v7M384 259.5h7M387.5 256v7M384 204.5h7M387.5 201v7M384 218.5h7M387.5 215v7M384 246.5h7M387.5 243v7M384 222.5h7M387.5 219v7M384 278.5h7M387.5 275v7M384 315.5h7M387.5 312v7M384 287.5h7M387.5 284v7M384 282.5h7M387.5 279v7M385 305.5h7M388.5 302v7M385 246.5h7M388.5 243v7M385 287.5h7M388.5 284v7M385 292.5h7M388.5 289v7M385 250.5h7M388.5 247v7M386 264.5h7M389.5 261v7M386 232.5h7M389.5 229v7M386 213.5h7M389.5 210v7M386 227.5h7M389.5 224v7M386 292.5h7M389.5 289v7M386 222.5h7M389.5 219v7M386 241.5h7M389.5 238v7M386 296.5h7M389.5 293v7M386 250.5h7M389.5 247v7M387 227.5h7M390.5 224v7M387 278.5h7M390.5 275v7M387 241.5h7M390.5 238v7M387 259.5h7M390.5 256v7M387 199.5h7M390.5 196v7M387 218.5h7M390.5 215v7M387 250.5h7M390.5 247v7M387 246.5h7M390.5 243v7M387 282.5h7M390.5 279v7M388 305.5h7M391.5 302v7M388 222.5h7M391.5 219v7M388 259.5h7M391.5 256v7M388 292.5h7M391.5 289v7M388 278.5h7M391.5 275v7M388 241.5h7M391.5 238v7M388 264.5h7M391.5 261v7M389 292.5h7M392.5 289v7M389 241.5h7M392.5 238v7M389 273.5h7M392.5 270v7M389 222.5h7M392.5 219v7M389 269.5h7M392.5 266v7M389 301.5h7M392.5 298v7M389 144.5h7M392.5 141v7M390 269.5h7M393.5 266v7M390 287.5h7M393.5 284v7M390 236.5h7M393.5 233v7M390 246.5h7M393.5 243v7M390 264.5h7M393.5 261v7M390 227.5h7M393.5 224v7M390 282.5h7M393.5 279v7M390 250.5h7M393.5 247v7M391 222.5h7M394.5 219v7M391 259.5h7M394.5 256v7M391 232.5h7M394.5 229v7M391 305.5h7M394.5 302v7M391 250.5h7M394.5 247v7M391 296.5h7M394.5 293v7M392 305.5h7M395.5 302v7M392 278.5h7M395.5 275v7M392 255.5h7M395.5 252v7M392 264.5h7M395.5 261v7M392 269.5h7M395.5 266v7M392 259.5h7M395.5 256v7M393 264.5h7M396.5 261v7M393 292.5h7M396.5 289v7M393 222.5h7M396.5 219v7M393 282.5h7M396.5 279v7M393 305.5h7M396.5 302v7M393 232.5h7M396.5 229v7M394 273.5h7M397.5 270v7M394 264.5h7M397.5 261v7M394 282.5h7M397.5 279v7M394 278.5h7M397.5 275v7M394 305.5h7M397.5 302v7M394 301.5h7M397.5 298v7M394 259.5h7M397.5 256v7M394 292.5h7M397.5 289v7M395 255.5h7M398.5 252v7M395 241.5h7M398.5 238v7M395 218.5h7M398.5 215v7M395 292.5h7M398.5 289v7M395 259.5h7M398.5 256v7M395 301.5h7M398.5 298v7M396 287.5h7M399.5 284v7M396 250.5h7M399.5 247v7M396 264.5h7M399.5 261v7M396 278.5h7M399.5 275v7M396 296.5h7M399.5 293v7M396 292.5h7M399.5 289v7M397 236.5h7M400.5 233v7M397 259.5h7M400.5 256v7M397 218.5h7M400.5 215v7M397 278.5h7M400.5 275v7M397 292.5h7M400.5 289v7M397 282.5h7M400.5 279v7M397 227.5h7M400.5 224v7M398 273.5h7M401.5 270v7M398 282.5h7M401.5 279v7M398 264.5h7M401.5 261v7M398 218.5h7M401.5 215v7M398 190.5h7M401.5 187v7M398 232.5h7M401.5 229v7M398 287.5h7M401.5 284v7M398 292.5h7M401.5 289v7M399 278.5h7M402.5 275v7M399 269.5h7M402.5 266v7M399 218.5h7M402.5 215v7M399 227.5h7M402.5 224v7M399 315.5h7M402.5 312v7M399 287.5h7M402.5 284v7M399 213.5h7M402.5 210v7M399 310.5h7M402.5 307v7M400 204.5h7M403.5 201v7M400 269.5h7M403.5 266v7M400 292.5h7M403.5 289v7M400 255.5h7M403.5 252v7M400 213.5h7M403.5 210v7M400 227.5h7M403.5 224v7M400 241.5h7M403.5 238v7M400 232.5h7M403.5 229v7M401 232.5h7M404.5 229v7M401 255.5h7M404.5 252v7M401 259.5h7M404.5 256v7M401 305.5h7M404.5 302v7M401 241.5h7M404.5 238v7M401 296.5h7M404.5 293v7M401 278.5h7M404.5 275v7M401 195.5h7M404.5 192v7M401 301.5h7M404.5 298v7M401 264.5h7M404.5 261v7M402 232.5h7M405.5 229v7M402 301.5h7M405.5 298v7M402 305.5h7M405.5 302v7M402 269.5h7M405.5 266v7M402 246.5h7M405.5 243v7M402 282.5h7M405.5 279v7M402 264.5h7M405.5 261v7M403 213.5h7M406.5 210v7M403 282.5h7M406.5 279v7M403 250.5h7M406.5 247v7M403 218.5h7M406.5 215v7M403 236.5h7M406.5 233v7M403 259.5h7M406.5 256v7M403 222.5h7M406.5 219v7M403 241.5h7M406.5 238v7M403 287.5h7M406.5 284v7M404 292.5h7M407.5 289v7M404 269.5h7M407.5 266v7M404 232.5h7M407.5 229v7M404 264.5h7M407.5 261v7M404 273.5h7M407.5 270v7M404 255.5h7M407.5 252v7M405 255.5h7M408.5 252v7M405 232.5h7M408.5 229v7M405 227.5h7M408.5 224v7M405 296.5h7M408.5 293v7M405 241.5h7M408.5 238v7M405 301.5h7M408.5 298v7M405 282.5h7M408.5 279v7M405 236.5h7M408.5 233v7M405 264.5h7M408.5 261v7M406 264.5h7M409.5 261v7M406 241.5h7M409.5 238v7M406 292.5h7M409.5 289v7M406 232.5h7M409.5 229v7M406 222.5h7M409.5 219v7M406 287.5h7M409.5 284v7M406 273.5h7M409.5 270v7M406 278.5h7M409.5 275v7M407 287.5h7M410.5 284v7M407 255.5h7M410.5 252v7M407 278.5h7M410.5 275v7M407 301.5h7M410.5 298v7M407 259.5h7M410.5 256v7M407 305.5h7M410.5 302v7M407 222.5h7M410.5 219v7M407 292.5h7M410.5 289v7M408 218.5h7M411.5 215v7M408 278.5h7M411.5 275v7M408 264.5h7M411.5 261v7M408 282.5h7M411.5 279v7M408 259.5h7M411.5 256v7M408 292.5h7M411.5 289v7M408 227.5h7M411.5 224v7M409 222.5h7M412.5 219v7M409 287.5h7M412.5 284v7M409 236.5h7M412.5 233v7M409 227.5h7M412.5 224v7M409 255.5h7M412.5 252v7M409 250.5h7M412.5 247v7M409 292.5h7M412.5 289v7M410 296.5h7M413.5 293v7M410 241.5h7M413.5 238v7M410 264.5h7M413.5 261v7M410 315.5h7M413.5 312v7M410 232.5h7M413.5 229v7M410 292.5h7M413.5 289v7M410 246.5h7M413.5 243v7M410 278.5h7M413.5 275v7M411 273.5h7M414.5 270v7M411 259.5h7M414.5 256v7M411 241.5h7M414.5 238v7M411 255.5h7M414.5 252v7M411 227.5h7M414.5 224v7M411 269.5h7M414.5 266v7M411 292.5h7M414.5 289v7M412 264.5h7M415.5 261v7M412 232.5h7M415.5 229v7M412 246.5h7M415.5 243v7M412 241.5h7M415.5 238v7M412 278.5h7M415.5 275v7M412 282.5h7M415.5 279v7M413 282.5h7M416.5 279v7M413 250.5h7M416.5 247v7M413 218.5h7M416.5 215v7M414 246.5h7M417.5 243v7M415 255.5h7M418.5 252v7M416 246.5h7M419.5 243v7M417 264.5h7M420.5 261v7M418 264.5h7M421.5 261v7M418 209.5h7M421.5 206v7M418 259.5h7M421.5 256v7M418 236.5h7M421.5 233v7M418 241.5h7M421.5 238v7M418 282.5h7M421.5 279v7M419 250.5h7M422.5 247v7M419 232.5h7M422.5 229v7M419 241.5h7M422.5 238v7M419 227.5h7M422.5 224v7M419 264.5h7M422.5 261v7M419 236.5h7M422.5 233v7M419 273.5h7M422.5 270v7M420 209.5h7M423.5 206v7M420 269.5h7M423.5 266v7M420 236.5h7M423.5 233v7M420 232.5h7M423.5 229v7M420 227.5h7M423.5 224v7M420 255.5h7M423.5 252v7M420 264.5h7M423.5 261v7M421 287.5h7M424.5 284v7M421 246.5h7M424.5 243v7M421 264.5h7M424.5 261v7M421 282.5h7M424.5 279v7M421 222.5h7M424.5 219v7M421 236.5h7M424.5 233v7M421 190.5h7M424.5 187v7M422 222.5h7M425.5 219v7M422 287.5h7M425.5 284v7M422 282.5h7M425.5 279v7M422 236.5h7M425.5 233v7M422 269.5h7M425.5 266v7M422 273.5h7M425.5 270v7M423 287.5h7M426.5 284v7M423 241.5h7M426.5 238v7M423 250.5h7M426.5 247v7M423 269.5h7M426.5 266v7M423 273.5h7M426.5 270v7M423 259.5h7M426.5 256v7M423 278.5h7M426.5 275v7M424 264.5h7M427.5 261v7M424 227.5h7M427.5 224v7M424 287.5h7M427.5 284v7M424 269.5h7M427.5 266v7M424 218.5h7M427.5 215v7M424 213.5h7M427.5 210v7M424 153.5h7M427.5 150v7M424 232.5h7M427.5 229v7M425 227.5h7M428.5 224v7M425 246.5h7M428.5 243v7M425 287.5h7M428.5 284v7M425 241.5h7M428.5 238v7M425 213.5h7M428.5 210v7M425 250.5h7M428.5 247v7M425 269.5h7M428.5 266v7M425 259.5h7M428.5 256v7M426 264.5h7M429.5 261v7M426 273.5h7M429.5 270v7M426 269.5h7M429.5 266v7M426 236.5h7M429.5 233v7M426 278.5h7M429.5 275v7M426 250.5h7M429.5 247v7M426 241.5h7M429.5 238v7M427 218.5h7M430.5 215v7M427 204.5h7M430.5 201v7M427 213.5h7M430.5 210v7M427 282.5h7M430.5 279v7M427 209.5h7M430.5 206v7M427 255.5h7M430.5 252v7M427 269.5h7M430.5 266v7M428 232.5h7M431.5 229v7M428 255.5h7M431.5 252v7M428 241.5h7M431.5 238v7M428 269.5h7M431.5 266v7M428 236.5h7M431.5 233v7M428 282.5h7M431.5 279v7M428 278.5h7M431.5 275v7M428 222.5h7M431.5 219v7M428 287.5h7M431.5 284v7M429 282.5h7M432.5 279v7M429 250.5h7M432.5 247v7M429 269.5h7M432.5 266v7M429 222.5h7M432.5 219v7M429 292.5h7M432.5 289v7M429 204.5h7M432.5 201v7M429 255.5h7M432.5 252v7M430 259.5h7M433.5 256v7M430 287.5h7M433.5 284v7M430 232.5h7M433.5 229v7M430 236.5h7M433.5 233v7M430 213.5h7M433.5 210v7M430 241.5h7M433.5 238v7M430 255.5h7M433.5 252v7M430 282.5h7M433.5 279v7M431 232.5h7M434.5 229v7M431 278.5h7M434.5 275v7M431 227.5h7M434.5 224v7M431 222.5h7M434.5 219v7M431 287.5h7M434.5 284v7M431 269.5h7M434.5 266v7M431 259.5h7M434.5 256v7M431 255.5h7M434.5 252v7M432 186.5h7M435.5 183v7M432 282.5h7M435.5 279v7M432 305.5h7M435.5 302v7M432 241.5h7M435.5 238v7M432 246.5h7M435.5 243v7M432 292.5h7M435.5 289v7M432 259.5h7M435.5 256v7M432 273.5h7M435.5 270v7M433 218.5h7M436.5 215v7M433 292.5h7M436.5 289v7M433 273.5h7M436.5 270v7M433 282.5h7M436.5 279v7M433 259.5h7M436.5 256v7M433 246.5h7M436.5 243v7M433 204.5h7M436.5 201v7M433 199.5h7M436.5 196v7M434 222.5h7M437.5 219v7M434 227.5h7M437.5 224v7M434 255.5h7M437.5 252v7M435 250.5h7M438.5 247v7M435 255.5h7M438.5 252v7M435 218.5h7M438.5 215v7M436 227.5h7M439.5 224v7M436 218.5h7M439.5 215v7M436 255.5h7M439.5 252v7M437 222.5h7M440.5 219v7M437 236.5h7M440.5 233v7M437 255.5h7M440.5 252v7M438 259.5h7M441.5 256v7M438 255.5h7M441.5 252v7M438 241.5h7M441.5 238v7M438 250.5h7M441.5 247v7M438 232.5h7M441.5 229v7M438 246.5h7M441.5 243v7M438 227.5h7M441.5 224v7M439 250.5h7M442.5 247v7M439 232.5h7M442.5 229v7M439 227.5h7M442.5 224v7M439 222.5h7M442.5 219v7M439 241.5h7M442.5 238v7M439 213.5h7M442.5 210v7M439 209.5h7M442.5 206v7M440 250.5h7M443.5 247v7M440 241.5h7M443.5 238v7M440 236.5h7M443.5 233v7M440 246.5h7M443.5 243v7M440 218.5h7M443.5 215v7M440 232.5h7M443.5 229v7M440 222.5h7M443.5 219v7M440 264.5h7M443.5 261v7M441 213.5h7M444.5 210v7M441 255.5h7M444.5 252v7M441 236.5h7M444.5 233v7M441 209.5h7M444.5 206v7M441 246.5h7M444.5 243v7M441 222.5h7M444.5 219v7M442 241.5h7M445.5 238v7M442 246.5h7M445.5 243v7M442 213.5h7M445.5 210v7M442 259.5h7M445.5 256v7M442 236.5h7M445.5 233v7M442 222.5h7M445.5 219v7M443 241.5h7M446.5 238v7M443 255.5h7M446.5 252v7M443 227.5h7M446.5 224v7M443 236.5h7M446.5 233v7M443 232.5h7M446.5 229v7M443 246.5h7M446.5 243v7M443 190.5h7M446.5 187v7M443 250.5h7M446.5 247v7M443 259.5h7M446.5 256v7M444 236.5h7M447.5 233v7M444 232.5h7M447.5 229v7M444 250.5h7M447.5 247v7M444 259.5h7M447.5 256v7M444 246.5h7M447.5 243v7M444 255.5h7M447.5 252v7M444 241.5h7M447.5 238v7M445 259.5h7M448.5 256v7M445 236.5h7M448.5 233v7M445 241.5h7M448.5 238v7M445 255.5h7M448.5 252v7M446 250.5h7M449.5 247v7M446 227.5h7M449.5 224v7M446 264.5h7M449.5 261v7M446 209.5h7M449.5 206v7M446 259.5h7M449.5 256v7M446 222.5h7M449.5 219v7M446 241.5h7M449.5 238v7M446 232.5h7M449.5 229v7M447 269.5h7M450.5 266v7M447 236.5h7M450.5 233v7M447 218.5h7M450.5 215v7M447 232.5h7M450.5 229v7M447 213.5h7M450.5 210v7M447 264.5h7M450.5 261v7M447 250.5h7M450.5 247v7M448 218.5h7M451.5 215v7M448 236.5h7M451.5 233v7M448 246.5h7M451.5 243v7M448 227.5h7M451.5 224v7M448 241.5h7M451.5 238v7M448 259.5h7M451.5 256v7M449 255.5h7M452.5 252v7M449 264.5h7M452.5 261v7M449 227.5h7M452.5 224v7M449 204.5h7M452.5 201v7M449 246.5h7M452.5 243v7M449 250.5h7M452.5 247v7M449 232.5h7M452.5 229v7M449 236.5h7M452.5 233v7M449 241.5h7M452.5 238v7M450 246.5h7M453.5 243v7M450 218.5h7M453.5 215v7M450 236.5h7M453.5 233v7M450 227.5h7M453.5 224v7M450 264.5h7M453.5 261v7M451 232.5h7M454.5 229v7M451 241.5h7M454.5 238v7M451 213.5h7M454.5 210v7M451 250.5h7M454.5 247v7M451 264.5h7M454.5 261v7M451 209.5h7M454.5 206v7M451 218.5h7M454.5 215v7M452 232.5h7M455.5 229v7M452 259.5h7M455.5 256v7M452 209.5h7M455.5 206v7M452 246.5h7M455.5 243v7M452 222.5h7M455.5 219v7M452 250.5h7M455.5 247v7M452 255.5h7M455.5 252v7M453 250.5h7M456.5 247v7M453 236.5h7M456.5 233v7M453 227.5h7M456.5 224v7M453 218.5h7M456.5 215v7M453 246.5h7M456.5 243v7M454 241.5h7M457.5 238v7M454 222.5h7M457.5 219v7M454 195.5h7M457.5 192v7M454 209.5h7M457.5 206v7M454 218.5h7M457.5 215v7M454 232.5h7M457.5 229v7M454 255.5h7M457.5 252v7M454 259.5h7M457.5 256v7M454 227.5h7M457.5 224v7M455 241.5h7M458.5 238v7M455 227.5h7M458.5 224v7M455 250.5h7M458.5 247v7M455 269.5h7M458.5 266v7M455 232.5h7M458.5 229v7M455 236.5h7M458.5 233v7M456 232.5h7M459.5 229v7M456 259.5h7M459.5 256v7M456 213.5h7M459.5 210v7M456 218.5h7M459.5 215v7M456 227.5h7M459.5 224v7M457 273.5h7M460.5 270v7M457 250.5h7M460.5 247v7M457 246.5h7M460.5 243v7M457 264.5h7M460.5 261v7M457 232.5h7M460.5 229v7M457 255.5h7M460.5 252v7M457 241.5h7M460.5 238v7M457 199.5h7M460.5 196v7M458 255.5h7M461.5 252v7M458 241.5h7M461.5 238v7M458 264.5h7M461.5 261v7M458 232.5h7M461.5 229v7M458 246.5h7M461.5 243v7M459 227.5h7M462.5 224v7M459 213.5h7M462.5 210v7M459 209.5h7M462.5 206v7M459 264.5h7M462.5 261v7M459 246.5h7M462.5 243v7M459 222.5h7M462.5 219v7M459 259.5h7M462.5 256v7M460 227.5h7M463.5 224v7M460 250.5h7M463.5 247v7M460 236.5h7M463.5 233v7M460 241.5h7M463.5 238v7M460 232.5h7M463.5 229v7M460 255.5h7M463.5 252v7M461 250.5h7M464.5 247v7M461 269.5h7M464.5 266v7M461 222.5h7M464.5 219v7M461 255.5h7M464.5 252v7M461 227.5h7M464.5 224v7M461 209.5h7M464.5 206v7M461 241.5h7M464.5 238v7M461 264.5h7M464.5 261v7M462 259.5h7M465.5 256v7M462 241.5h7M465.5 238v7M462 255.5h7M465.5 252v7M462 246.5h7M465.5 243v7M462 232.5h7M465.5 229v7M463 236.5h7M466.5 233v7M463 209.5h7M466.5 206v7M463 213.5h7M466.5 210v7M463 259.5h7M466.5 256v7M463 232.5h7M466.5 229v7M463 227.5h7M466.5 224v7M463 255.5h7M466.5 252v7M464 259.5h7M467.5 256v7M464 232.5h7M467.5 229v7M464 264.5h7M467.5 261v7M464 241.5h7M467.5 238v7M464 213.5h7M467.5 210v7M464 250.5h7M467.5 247v7M464 236.5h7M467.5 233v7M464 246.5h7M467.5 243v7M465 227.5h7M468.5 224v7M465 236.5h7M468.5 233v7M465 241.5h7M468.5 238v7M465 222.5h7M468.5 219v7M465 218.5h7M468.5 215v7M465 255.5h7M468.5 252v7M465 250.5h7M468.5 247v7M466 259.5h7M469.5 256v7M466 246.5h7M469.5 243v7M466 222.5h7M469.5 219v7M466 264.5h7M469.5 261v7M466 236.5h7M469.5 233v7M466 255.5h7M469.5 252v7M466 227.5h7M469.5 224v7M467 246.5h7M470.5 243v7M467 273.5h7M470.5 270v7M467 241.5h7M470.5 238v7M467 232.5h7M470.5 229v7M467 236.5h7M470.5 233v7M467 222.5h7M470.5 219v7M467 259.5h7M470.5 256v7M467 227.5h7M470.5 224v7M468 259.5h7M471.5 256v7M468 213.5h7M471.5 210v7M468 218.5h7M471.5 215v7M468 236.5h7M471.5 233v7M468 232.5h7M471.5 229v7M468 241.5h7M471.5 238v7M468 264.5h7M471.5 261v7M469 241.5h7M472.5 238v7M469 227.5h7M472.5 224v7M469 264.5h7M472.5 261v7M469 246.5h7M472.5 243v7M469 236.5h7M472.5 233v7M469 209.5h7M472.5 206v7M470 227.5h7M473.5 224v7M470 232.5h7M473.5 229v7M470 199.5h7M473.5 196v7M470 222.5h7M473.5 219v7M470 213.5h7M473.5 210v7M470 241.5h7M473.5 238v7M470 246.5h7M473.5 243v7M470 259.5h7M473.5 256v7M471 264.5h7M474.5 261v7M471 213.5h7M474.5 210v7M471 273.5h7M474.5 270v7M471 269.5h7M474.5 266v7M471 246.5h7M474.5 243v7M471 222.5h7M474.5 219v7M471 255.5h7M474.5 252v7M471 241.5h7M474.5 238v7M472 236.5h7M475.5 233v7M472 209.5h7M475.5 206v7M472 232.5h7M475.5 229v7M472 259.5h7M475.5 256v7M472 213.5h7M475.5 210v7M472 273.5h7M475.5 270v7M472 218.5h7M475.5 215v7M472 250.5h7M475.5 247v7M473 222.5h7M476.5 219v7M473 269.5h7M476.5 266v7M473 236.5h7M476.5 233v7M473 250.5h7M476.5 247v7M473 246.5h7M476.5 243v7M473 241.5h7M476.5 238v7M474 241.5h7M477.5 238v7M474 227.5h7M477.5 224v7M474 255.5h7M477.5 252v7M474 236.5h7M477.5 233v7M475 241.5h7M478.5 238v7M475 213.5h7M478.5 210v7M475 236.5h7M478.5 233v7M475 259.5h7M478.5 256v7M475 250.5h7M478.5 247v7M475 227.5h7M478.5 224v7M476 264.5h7M479.5 261v7M476 241.5h7M479.5 238v7M476 255.5h7M479.5 252v7M476 236.5h7M479.5 233v7M476 259.5h7M479.5 256v7M476 246.5h7M479.5 243v7M477 250.5h7M480.5 247v7M477 227.5h7M480.5 224v7M477 264.5h7M480.5 261v7M477 241.5h7M480.5 238v7M477 232.5h7M480.5 229v7M477 246.5h7M480.5 243v7M478 232.5h7M481.5 229v7M478 250.5h7M481.5 247v7M478 218.5h7M481.5 215v7M478 246.5h7M481.5 243v7M478 241.5h7M481.5 238v7M478 255.5h7M481.5 252v7M479 241.5h7M482.5 238v7M479 255.5h7M482.5 252v7M479 246.5h7M482.5 243v7M479 250.5h7M482.5 247v7M479 232.5h7M482.5 229v7M479 209.5h7M482.5 206v7M479 259.5h7M482.5 256v7M480 264.5h7M483.5 261v7M480 250.5h7M483.5 247v7M480 218.5h7M483.5 215v7M480 236.5h7M483.5 233v7M480 213.5h7M483.5 210v7M481 218.5h7M484.5 215v7M481 222.5h7M484.5 219v7M481 264.5h7M484.5 261v7M481 255.5h7M484.5 252v7M481 227.5h7M484.5 224v7M481 209.5h7M484.5 206v7M481 259.5h7M484.5 256v7M482 259.5h7M485.5 256v7M482 264.5h7M485.5 261v7M482 246.5h7M485.5 243v7M482 236.5h7M485.5 233v7M482 250.5h7M485.5 247v7M483 250.5h7M486.5 247v7M483 222.5h7M486.5 219v7M483 213.5h7M486.5 210v7M483 269.5h7M486.5 266v7M483 241.5h7M486.5 238v7M483 264.5h7M486.5 261v7M483 232.5h7M486.5 229v7M484 209.5h7M487.5 206v7M484 259.5h7M487.5 256v7M484 255.5h7M487.5 252v7M484 246.5h7M487.5 243v7M484 218.5h7M487.5 215v7M484 232.5h7M487.5 229v7M484 213.5h7M487.5 210v7M485 259.5h7M488.5 256v7M485 250.5h7M488.5 247v7M485 269.5h7M488.5 266v7M485 227.5h7M488.5 224v7M485 232.5h7M488.5 229v7M485 213.5h7M488.5 210v7M485 236.5h7M488.5 233v7M486 181.5h7M489.5 178v7M486 255.5h7M489.5 252v7M486 250.5h7M489.5 247v7M486 227.5h7M489.5 224v7M486 222.5h7M489.5 219v7M486 218.5h7M489.5 215v7M486 213.5h7M489.5 210v7M487 264.5h7M490.5 261v7M487 255.5h7M490.5 252v7M487 250.5h7M490.5 247v7M487 227.5h7M490.5 224v7M487 236.5h7M490.5 233v7M487 241.5h7M490.5 238v7M487 269.5h7M490.5 266v7M488 204.5h7M491.5 201v7M488 236.5h7M491.5 233v7M488 259.5h7M491.5 256v7M488 269.5h7M491.5 266v7M488 264.5h7M491.5 261v7M488 241.5h7M491.5 238v7M489 269.5h7M492.5 266v7M489 255.5h7M492.5 252v7M489 232.5h7M492.5 229v7M489 218.5h7M492.5 215v7M489 264.5h7M492.5 261v7M489 246.5h7M492.5 243v7M490 209.5h7M493.5 206v7M490 218.5h7M493.5 215v7M490 232.5h7M493.5 229v7M490 213.5h7M493.5 210v7M490 259.5h7M493.5 256v7M490 250.5h7M493.5 247v7M490 236.5h7M493.5 233v7M491 232.5h7M494.5 229v7M491 255.5h7M494.5 252v7M491 227.5h7M494.5 224v7M491 172.5h7M494.5 169v7M491 259.5h7M494.5 256v7M491 236.5h7M494.5 233v7M491 204.5h7M494.5 201v7M491 209.5h7M494.5 206v7M492 241.5h7M495.5 238v7M492 227.5h7M495.5 224v7M492 246.5h7M495.5 243v7M492 259.5h7M495.5 256v7M493 273.5h7M496.5 270v7M493 236.5h7M496.5 233v7M493 218.5h7M496.5 215v7M493 264.5h7M496.5 261v7M493 259.5h7M496.5 256v7M493 227.5h7M496.5 224v7M493 269.5h7M496.5 266v7M493 222.5h7M496.5 219v7M494 209.5h7M497.5 206v7M494 222.5h7M497.5 219v7M494 236.5h7M497.5 233v7M494 250.5h7M497.5 247v7M494 199.5h7M497.5 196v7M494 259.5h7M497.5 256v7M494 278.5h7M497.5 275v7M495 222.5h7M498.5 219v7M495 246.5h7M498.5 243v7M495 227.5h7M498.5 224v7M495 241.5h7M498.5 238v7M495 264.5h7M498.5 261v7M495 255.5h7M498.5 252v7M495 172.5h7M498.5 169v7M495 250.5h7M498.5 247v7M496 218.5h7M499.5 215v7M496 199.5h7M499.5 196v7M496 236.5h7M499.5 233v7M496 259.5h7M499.5 256v7M496 250.5h7M499.5 247v7M496 246.5h7M499.5 243v7M496 209.5h7M499.5 206v7M496 227.5h7M499.5 224v7M497 172.5h7M500.5 169v7M497 181.5h7M500.5 178v7M497 204.5h7M500.5 201v7M497 218.5h7M500.5 215v7M497 186.5h7M500.5 183v7M497 209.5h7M500.5 206v7M497 255.5h7M500.5 252v7M497 246.5h7M500.5 243v7M497 158.5h7M500.5 155v7M497 227.5h7M500.5 224v7M497 241.5h7M500.5 238v7M497 176.5h7M500.5 173v7M497 232.5h7M500.5 229v7M497 236.5h7M500.5 233v7M498 255.5h7M501.5 252v7M498 241.5h7M501.5 238v7M498 250.5h7M501.5 247v7M498 232.5h7M501.5 229v7M498 199.5h7M501.5 196v7M498 218.5h7M501.5 215v7M498 222.5h7M501.5 219v7M498 236.5h7M501.5 233v7M499 218.5h7M502.5 215v7M499 264.5h7M502.5 261v7M499 222.5h7M502.5 219v7M499 259.5h7M502.5 256v7M499 204.5h7M502.5 201v7M499 199.5h7M502.5 196v7M499 227.5h7M502.5 224v7M500 246.5h7M503.5 243v7M500 213.5h7M503.5 210v7M500 259.5h7M503.5 256v7M500 264.5h7M503.5 261v7M500 250.5h7M503.5 247v7M500 227.5h7M503.5 224v7M500 222.5h7M503.5 219v7M501 218.5h7M504.5 215v7M501 255.5h7M504.5 252v7M501 241.5h7M504.5 238v7M501 246.5h7M504.5 243v7M501 213.5h7M504.5 210v7M501 250.5h7M504.5 247v7M501 264.5h7M504.5 261v7M501 236.5h7M504.5 233v7M501 172.5h7M504.5 169v7M502 222.5h7M505.5 219v7M502 227.5h7M505.5 224v7M502 209.5h7M505.5 206v7M502 195.5h7M505.5 192v7M502 269.5h7M505.5 266v7M502 259.5h7M505.5 256v7M502 218.5h7M505.5 215v7M502 250.5h7M505.5 247v7M502 204.5h7M505.5 201v7M502 232.5h7M505.5 229v7M503 255.5h7M506.5 252v7M503 227.5h7M506.5 224v7M503 209.5h7M506.5 206v7M503 218.5h7M506.5 215v7M503 236.5h7M506.5 233v7M503 241.5h7M506.5 238v7M503 264.5h7M506.5 261v7M503 246.5h7M506.5 243v7M504 218.5h7M507.5 215v7M504 222.5h7M507.5 219v7M504 227.5h7M507.5 224v7M504 255.5h7M507.5 252v7M504 209.5h7M507.5 206v7M504 236.5h7M507.5 233v7M504 259.5h7M507.5 256v7M504 273.5h7M507.5 270v7M505 199.5h7M508.5 196v7M505 213.5h7M508.5 210v7M505 209.5h7M508.5 206v7M505 236.5h7M508.5 233v7M505 255.5h7M508.5 252v7M505 264.5h7M508.5 261v7M506 213.5h7M509.5 210v7M506 241.5h7M509.5 238v7M506 264.5h7M509.5 261v7M506 246.5h7M509.5 243v7M506 227.5h7M509.5 224v7M506 259.5h7M509.5 256v7M507 264.5h7M510.5 261v7M507 250.5h7M510.5 247v7M507 213.5h7M510.5 210v7M507 199.5h7M510.5 196v7M507 259.5h7M510.5 256v7M507 269.5h7M510.5 266v7M507 246.5h7M510.5 243v7M507 204.5h7M510.5 201v7M507 218.5h7M510.5 215v7M508 195.5h7M511.5 192v7M508 209.5h7M511.5 206v7M508 204.5h7M511.5 201v7M508 222.5h7M511.5 219v7M508 264.5h7M511.5 261v7M508 218.5h7M511.5 215v7M508 213.5h7M511.5 210v7M508 232.5h7M511.5 229v7M508 199.5h7M511.5 196v7M509 255.5h7M512.5 252v7M509 246.5h7M512.5 243v7M509 232.5h7M512.5 229v7M509 227.5h7M512.5 224v7M509 250.5h7M512.5 247v7M510 232.5h7M513.5 229v7M510 264.5h7M513.5 261v7M510 227.5h7M513.5 224v7M510 241.5h7M513.5 238v7M510 255.5h7M513.5 252v7M511 241.5h7M514.5 238v7M511 199.5h7M514.5 196v7M511 259.5h7M514.5 256v7M511 227.5h7M514.5 224v7M511 213.5h7M514.5 210v7M511 246.5h7M514.5 243v7M511 255.5h7M514.5 252v7M512 264.5h7M515.5 261v7M512 236.5h7M515.5 233v7M512 227.5h7M515.5 224v7M512 241.5h7M515.5 238v7M512 259.5h7M515.5 256v7M512 250.5h7M515.5 247v7M512 222.5h7M515.5 219v7M512 255.5h7M515.5 252v7M513 236.5h7M516.5 233v7M513 264.5h7M516.5 261v7M513 227.5h7M516.5 224v7M513 209.5h7M516.5 206v7M513 222.5h7M516.5 219v7M513 186.5h7M516.5 183v7M513 246.5h7M516.5 243v7M513 213.5h7M516.5 210v7M513 218.5h7M516.5 215v7M514 250.5h7M517.5 247v7M514 255.5h7M517.5 252v7M514 222.5h7M517.5 219v7M514 232.5h7M517.5 229v7M514 246.5h7M517.5 243v7M514 236.5h7M517.5 233v7M514 241.5h7M517.5 238v7M515 222.5h7M518.5 219v7M515 246.5h7M518.5 243v7M515 241.5h7M518.5 238v7M515 213.5h7M518.5 210v7M515 232.5h7M518.5 229v7M516 236.5h7M519.5 233v7M516 218.5h7M519.5 215v7M516 241.5h7M519.5 238v7M516 213.5h7M519.5 210v7M516 222.5h7M519.5 219v7M516 209.5h7M519.5 206v7M517 186.5h7M520.5 183v7M517 209.5h7M520.5 206v7M517 199.5h7M520.5 196v7M517 241.5h7M520.5 238v7M517 236.5h7M520.5 233v7M517 218.5h7M520.5 215v7M517 181.5h7M520.5 178v7M517 190.5h7M520.5 187v7M517 232.5h7M520.5 229v7M517 227.5h7M520.5 224v7M518 236.5h7M521.5 233v7M518 209.5h7M521.5 206v7M518 227.5h7M521.5 224v7M518 204.5h7M521.5 201v7M518 213.5h7M521.5 210v7M519 241.5h7M522.5 238v7M519 232.5h7M522.5 229v7M519 218.5h7M522.5 215v7M519 255.5h7M522.5 252v7M519 204.5h7M522.5 201v7M519 199.5h7M522.5 196v7M520 218.5h7M523.5 215v7M520 236.5h7M523.5 233v7M520 213.5h7M523.5 210v7M520 199.5h7M523.5 196v7M520 241.5h7M523.5 238v7M520 232.5h7M523.5 229v7M520 209.5h7M523.5 206v7M521 209.5h7M524.5 206v7M521 199.5h7M524.5 196v7M521 236.5h7M524.5 233v7M521 218.5h7M524.5 215v7M521 232.5h7M524.5 229v7M521 241.5h7M524.5 238v7M521 213.5h7M524.5 210v7M522 213.5h7M525.5 210v7M522 209.5h7M525.5 206v7M522 204.5h7M525.5 201v7M522 218.5h7M525.5 215v7M522 246.5h7M525.5 243v7M522 232.5h7M525.5 229v7M523 199.5h7M526.5 196v7M523 246.5h7M526.5 243v7M523 241.5h7M526.5 238v7M523 213.5h7M526.5 210v7M523 255.5h7M526.5 252v7M523 218.5h7M526.5 215v7M524 209.5h7M527.5 206v7M524 250.5h7M527.5 247v7M524 246.5h7M527.5 243v7M524 190.5h7M527.5 187v7M524 227.5h7M527.5 224v7M524 232.5h7M527.5 229v7M524 222.5h7M527.5 219v7M525 246.5h7M528.5 243v7M525 199.5h7M528.5 196v7M525 195.5h7M528.5 192v7M525 227.5h7M528.5 224v7M525 213.5h7M528.5 210v7M525 222.5h7M528.5 219v7M525 190.5h7M528.5 187v7M525 204.5h7M528.5 201v7M526 236.5h7M529.5 233v7M526 222.5h7M529.5 219v7M526 218.5h7M529.5 215v7M526 213.5h7M529.5 210v7M527 186.5h7M530.5 183v7M527 195.5h7M530.5 192v7M527 199.5h7M530.5 196v7M527 213.5h7M530.5 210v7M527 222.5h7M530.5 219v7M527 255.5h7M530.5 252v7M527 250.5h7M530.5 247v7M527 190.5h7M530.5 187v7M528 218.5h7M531.5 215v7M528 195.5h7M531.5 192v7M528 209.5h7M531.5 206v7M528 204.5h7M531.5 201v7M528 241.5h7M531.5 238v7M528 227.5h7M531.5 224v7M528 232.5h7M531.5 229v7M528 213.5h7M531.5 210v7M529 236.5h7M532.5 233v7M529 213.5h7M532.5 210v7M529 227.5h7M532.5 224v7M529 186.5h7M532.5 183v7M529 241.5h7M532.5 238v7M529 209.5h7M532.5 206v7M530 241.5h7M533.5 238v7M530 227.5h7M533.5 224v7M530 204.5h7M533.5 201v7M530 190.5h7M533.5 187v7M530 250.5h7M533.5 247v7M530 218.5h7M533.5 215v7M531 241.5h7M534.5 238v7M531 250.5h7M534.5 247v7M531 139.5h7M534.5 136v7M531 227.5h7M534.5 224v7M531 213.5h7M534.5 210v7M531 246.5h7M534.5 243v7M531 158.5h7M534.5 155v7M531 172.5h7M534.5 169v7M531 162.5h7M534.5 159v7M531 153.5h7M534.5 150v7M532 222.5h7M535.5 219v7M532 259.5h7M535.5 256v7M532 218.5h7M535.5 215v7M532 209.5h7M535.5 206v7M532 255.5h7M535.5 252v7M532 195.5h7M535.5 192v7M532 186.5h7M535.5 183v7M532 204.5h7M535.5 201v7M532 236.5h7M535.5 233v7M533 250.5h7M536.5 247v7M533 255.5h7M536.5 252v7M533 246.5h7M536.5 243v7M533 222.5h7M536.5 219v7M533 218.5h7M536.5 215v7M534 209.5h7M537.5 206v7M534 232.5h7M537.5 229v7M534 236.5h7M537.5 233v7M534 250.5h7M537.5 247v7M534 218.5h7M537.5 215v7M534 227.5h7M537.5 224v7M534 255.5h7M537.5 252v7M534 259.5h7M537.5 256v7M534 246.5h7M537.5 243v7M535 213.5h7M538.5 210v7M535 250.5h7M538.5 247v7M535 209.5h7M538.5 206v7M535 241.5h7M538.5 238v7M535 259.5h7M538.5 256v7M536 259.5h7M539.5 256v7M536 218.5h7M539.5 215v7M536 241.5h7M539.5 238v7M536 250.5h7M539.5 247v7M536 213.5h7M539.5 210v7M536 204.5h7M539.5 201v7M536 264.5h7M539.5 261v7M537 232.5h7M540.5 229v7M537 255.5h7M540.5 252v7M537 218.5h7M540.5 215v7M537 269.5h7M540.5 266v7M537 236.5h7M540.5 233v7M537 264.5h7M540.5 261v7M538 407.5h7M541.5 404v7M538 416.5h7M541.5 413v7M539 264.5h7M542.5 261v7M539 232.5h7M542.5 229v7M539 273.5h7M542.5 270v7M539 222.5h7M542.5 219v7M539 250.5h7M542.5 247v7M539 269.5h7M542.5 266v7M539 227.5h7M542.5 224v7M540 213.5h7M543.5 210v7M540 222.5h7M543.5 219v7M540 259.5h7M543.5 256v7M540 232.5h7M543.5 229v7M540 236.5h7M543.5 233v7M540 269.5h7M543.5 266v7M540 250.5h7M543.5 247v7M541 269.5h7M544.5 266v7M541 259.5h7M544.5 256v7M541 222.5h7M544.5 219v7M541 232.5h7M544.5 229v7M541 236.5h7M544.5 233v7M541 264.5h7M544.5 261v7M541 246.5h7M544.5 243v7M542 241.5h7M545.5 238v7M542 250.5h7M545.5 247v7M542 255.5h7M545.5 252v7M542 259.5h7M545.5 256v7M542 246.5h7M545.5 243v7M543 236.5h7M546.5 233v7M543 246.5h7M546.5 243v7M543 255.5h7M546.5 252v7M543 259.5h7M546.5 256v7M543 273.5h7M546.5 270v7M543 250.5h7M546.5 247v7M543 241.5h7M546.5 238v7M544 255.5h7M547.5 252v7M544 269.5h7M547.5 266v7M544 232.5h7M547.5 229v7M544 236.5h7M547.5 233v7M544 250.5h7M547.5 247v7M544 246.5h7M547.5 243v7M544 273.5h7M547.5 270v7M545 246.5h7M548.5 243v7M545 250.5h7M548.5 247v7M545 195.5h7M548.5 192v7M545 232.5h7M548.5 229v7M545 204.5h7M548.5 201v7M545 264.5h7M548.5 261v7M545 255.5h7M548.5 252v7M545 199.5h7M548.5 196v7M546 255.5h7M549.5 252v7M546 236.5h7M549.5 233v7M546 259.5h7M549.5 256v7M546 269.5h7M549.5 266v7M546 246.5h7M549.5 243v7M547 213.5h7M550.5 210v7M547 259.5h7M550.5 256v7M547 255.5h7M550.5 252v7M547 250.5h7M550.5 247v7M547 227.5h7M550.5 224v7M547 264.5h7M550.5 261v7M547 232.5h7M550.5 229v7M548 213.5h7M551.5 210v7M548 269.5h7M551.5 266v7M548 241.5h7M551.5 238v7M548 255.5h7M551.5 252v7M548 264.5h7M551.5 261v7M548 259.5h7M551.5 256v7M549 227.5h7M552.5 224v7M549 222.5h7M552.5 219v7M549 255.5h7M552.5 252v7M549 259.5h7M552.5 256v7M549 213.5h7M552.5 210v7M549 232.5h7M552.5 229v7M549 264.5h7M552.5 261v7M550 250.5h7M553.5 247v7M550 227.5h7M553.5 224v7M550 213.5h7M553.5 210v7M550 273.5h7M553.5 270v7M550 269.5h7M553.5 266v7M550 236.5h7M553.5 233v7M551 269.5h7M554.5 266v7M551 218.5h7M554.5 215v7M551 213.5h7M554.5 210v7M551 259.5h7M554.5 256v7M551 264.5h7M554.5 261v7M551 250.5h7M554.5 247v7M552 259.5h7M555.5 256v7M552 250.5h7M555.5 247v7M552 222.5h7M555.5 219v7M552 255.5h7M555.5 252v7M552 246.5h7M555.5 243v7M553 264.5h7M556.5 261v7M553 236.5h7M556.5 233v7M553 222.5h7M556.5 219v7M553 241.5h7M556.5 238v7M553 232.5h7M556.5 229v7M553 218.5h7M556.5 215v7M553 213.5h7M556.5 210v7M554 241.5h7M557.5 238v7M554 232.5h7M557.5 229v7M554 218.5h7M557.5 215v7M554 227.5h7M557.5 224v7M554 264.5h7M557.5 261v7M554 222.5h7M557.5 219v7M554 213.5h7M557.5 210v7M554 259.5h7M557.5 256v7M555 218.5h7M558.5 215v7M555 273.5h7M558.5 270v7M555 222.5h7M558.5 219v7M555 269.5h7M558.5 266v7M555 250.5h7M558.5 247v7M555 227.5h7M558.5 224v7M555 264.5h7M558.5 261v7M555 255.5h7M558.5 252v7M555 246.5h7M558.5 243v7M556 236.5h7M559.5 233v7M556 269.5h7M559.5 266v7M556 213.5h7M559.5 210v7M556 264.5h7M559.5 261v7M556 227.5h7M559.5 224v7M556 232.5h7M559.5 229v7M556 255.5h7M559.5 252v7M556 273.5h7M559.5 270v7M556 204.5h7M559.5 201v7M557 232.5h7M560.5 229v7M557 259.5h7M560.5 256v7M557 264.5h7M560.5 261v7M557 236.5h7M560.5 233v7M557 218.5h7M560.5 215v7M557 241.5h7M560.5 238v7M557 250.5h7M560.5 247v7M558 264.5h7M561.5 261v7M558 227.5h7M561.5 224v7M558 232.5h7M561.5 229v7M558 236.5h7M561.5 233v7M559 236.5h7M562.5 233v7M559 259.5h7M562.5 256v7M559 255.5h7M562.5 252v7M559 241.5h7M562.5 238v7M559 246.5h7M562.5 243v7M559 264.5h7M562.5 261v7M559 209.5h7M562.5 206v7M559 218.5h7M562.5 215v7M570 195.5h7M573.5 192v7M570 204.5h7M573.5 201v7M570 227.5h7M573.5 224v7M570 222.5h7M573.5 219v7M570 209.5h7M573.5 206v7M571 204.5h7M574.5 201v7M571 190.5h7M574.5 187v7M571 232.5h7M574.5 229v7M571 218.5h7M574.5 215v7M571 186.5h7M574.5 183v7M571 199.5h7M574.5 196v7M571 195.5h7M574.5 192v7M571 213.5h7M574.5 210v7M572 195.5h7M575.5 192v7M572 222.5h7M575.5 219v7M572 218.5h7M575.5 215v7M572 227.5h7M575.5 224v7M572 172.5h7M575.5 169v7M572 181.5h7M575.5 178v7M572 209.5h7M575.5 206v7M572 204.5h7M575.5 201v7M573 172.5h7M576.5 169v7M573 204.5h7M576.5 201v7M573 186.5h7M576.5 183v7M573 236.5h7M576.5 233v7M573 199.5h7M576.5 196v7M573 209.5h7M576.5 206v7M573 227.5h7M576.5 224v7M574 172.5h7M577.5 169v7M574 218.5h7M577.5 215v7M574 186.5h7M577.5 183v7M574 190.5h7M577.5 187v7M574 209.5h7M577.5 206v7M574 213.5h7M577.5 210v7M574 227.5h7M577.5 224v7M575 227.5h7M578.5 224v7M575 172.5h7M578.5 169v7M575 195.5h7M578.5 192v7M575 213.5h7M578.5 210v7M575 209.5h7M578.5 206v7M575 190.5h7M578.5 187v7M575 186.5h7M578.5 183v7M575 204.5h7M578.5 201v7M576 204.5h7M579.5 201v7M576 227.5h7M579.5 224v7M576 176.5h7M579.5 173v7M576 218.5h7M579.5 215v7M576 222.5h7M579.5 219v7M576 162.5h7M579.5 159v7M576 209.5h7M579.5 206v7M577 204.5h7M580.5 201v7M577 195.5h7M580.5 192v7M577 199.5h7M580.5 196v7M577 209.5h7M580.5 206v7M577 190.5h7M580.5 187v7M577 241.5h7M580.5 238v7M577 236.5h7M580.5 233v7M578 241.5h7M581.5 238v7M578 227.5h7M581.5 224v7M578 250.5h7M581.5 247v7M578 213.5h7M581.5 210v7M578 236.5h7M581.5 233v7M579 246.5h7M582.5 243v7M579 250.5h7M582.5 247v7M579 209.5h7M582.5 206v7M579 218.5h7M582.5 215v7M579 227.5h7M582.5 224v7M580 218.5h7M583.5 215v7M580 227.5h7M583.5 224v7M580 264.5h7M583.5 261v7M580 246.5h7M583.5 243v7M580 255.5h7M583.5 252v7M580 250.5h7M583.5 247v7M580 232.5h7M583.5 229v7M581 246.5h7M584.5 243v7M581 255.5h7M584.5 252v7M581 241.5h7M584.5 238v7M581 273.5h7M584.5 270v7M581 250.5h7M584.5 247v7M581 269.5h7M584.5 266v7M582 259.5h7M585.5 256v7M582 269.5h7M585.5 266v7M582 209.5h7M585.5 206v7M582 250.5h7M585.5 247v7M582 246.5h7M585.5 243v7M582 232.5h7M585.5 229v7M582 241.5h7M585.5 238v7M582 255.5h7M585.5 252v7M583 269.5h7M586.5 266v7M583 222.5h7M586.5 219v7M583 227.5h7M586.5 224v7M583 246.5h7M586.5 243v7M583 255.5h7M586.5 252v7M583 273.5h7M586.5 270v7M583 232.5h7M586.5 229v7M584 241.5h7M587.5 238v7M584 264.5h7M587.5 261v7M584 269.5h7M587.5 266v7M584 232.5h7M587.5 229v7M584 227.5h7M587.5 224v7M584 250.5h7M587.5 247v7M584 236.5h7M587.5 233v7M585 250.5h7M588.5 247v7M585 269.5h7M588.5 266v7M585 255.5h7M588.5 252v7M585 259.5h7M588.5 256v7M585 236.5h7M588.5 233v7M585 273.5h7M588.5 270v7M585 264.5h7M588.5 261v7M586 241.5h7M589.5 238v7M586 246.5h7M589.5 243v7M586 236.5h7M589.5 233v7M586 269.5h7M589.5 266v7M586 282.5h7M589.5 279v7M586 250.5h7M589.5 247v7M586 259.5h7M589.5 256v7M587 250.5h7M590.5 247v7M587 273.5h7M590.5 270v7M587 209.5h7M590.5 206v7M587 222.5h7M590.5 219v7M587 255.5h7M590.5 252v7M587 236.5h7M590.5 233v7M587 278.5h7M590.5 275v7M587 246.5h7M590.5 243v7M588 227.5h7M591.5 224v7M588 199.5h7M591.5 196v7M588 264.5h7M591.5 261v7M588 236.5h7M591.5 233v7M588 213.5h7M591.5 210v7M589 264.5h7M592.5 261v7M589 269.5h7M592.5 266v7M589 246.5h7M592.5 243v7M589 259.5h7M592.5 256v7M589 199.5h7M592.5 196v7M589 204.5h7M592.5 201v7M589 273.5h7M592.5 270v7M589 241.5h7M592.5 238v7M590 218.5h7M593.5 215v7M590 236.5h7M593.5 233v7M590 227.5h7M593.5 224v7M590 269.5h7M593.5 266v7M590 259.5h7M593.5 256v7M590 241.5h7M593.5 238v7M590 209.5h7M593.5 206v7M590 264.5h7M593.5 261v7M591 236.5h7M594.5 233v7M591 250.5h7M594.5 247v7M591 264.5h7M594.5 261v7M591 246.5h7M594.5 243v7M591 255.5h7M594.5 252v7M591 259.5h7M594.5 256v7M591 241.5h7M594.5 238v7M592 209.5h7M595.5 206v7M592 269.5h7M595.5 266v7M592 264.5h7M595.5 261v7M592 227.5h7M595.5 224v7M592 255.5h7M595.5 252v7M592 232.5h7M595.5 229v7M592 259.5h7M595.5 256v7M593 227.5h7M596.5 224v7M593 222.5h7M596.5 219v7M593 241.5h7M596.5 238v7M593 218.5h7M596.5 215v7M593 269.5h7M596.5 266v7M593 273.5h7M596.5 270v7M593 204.5h7M596.5 201v7M594 259.5h7M597.5 256v7M594 241.5h7M597.5 238v7M594 273.5h7M597.5 270v7M594 250.5h7M597.5 247v7M594 264.5h7M597.5 261v7M594 232.5h7M597.5 229v7M594 236.5h7M597.5 233v7M595 273.5h7M598.5 270v7M595 241.5h7M598.5 238v7M595 259.5h7M598.5 256v7M595 227.5h7M598.5 224v7M595 250.5h7M598.5 247v7M595 255.5h7M598.5 252v7M595 236.5h7M598.5 233v7M596 255.5h7M599.5 252v7M596 209.5h7M599.5 206v7M596 213.5h7M599.5 210v7M596 264.5h7M599.5 261v7M596 250.5h7M599.5 247v7M596 236.5h7M599.5 233v7M596 232.5h7M599.5 229v7M596 246.5h7M599.5 243v7M596 278.5h7M599.5 275v7M597 222.5h7M600.5 219v7M597 278.5h7M600.5 275v7M597 273.5h7M600.5 270v7M597 250.5h7M600.5 247v7M597 227.5h7M600.5 224v7M597 269.5h7M600.5 266v7M597 241.5h7M600.5 238v7M597 213.5h7M600.5 210v7M597 282.5h7M600.5 279v7M598 269.5h7M601.5 266v7M598 227.5h7M601.5 224v7M598 232.5h7M601.5 229v7M598 218.5h7M601.5 215v7M598 209.5h7M601.5 206v7M598 278.5h7M601.5 275v7M598 246.5h7M601.5 243v7M598 222.5h7M601.5 219v7M599 264.5h7M602.5 261v7M599 250.5h7M602.5 247v7M599 241.5h7M602.5 238v7M599 259.5h7M602.5 256v7M599 213.5h7M602.5 210v7M600 264.5h7M603.5 261v7M600 269.5h7M603.5 266v7M600 259.5h7M603.5 256v7M600 250.5h7M603.5 247v7M600 241.5h7M603.5 238v7"/>
</g>
<path d="M68 195.5H605" stroke="#00c000" stroke-width="1" shape-rendering="crispEdges" fill="none"/>
<path d="M61.5 38.5H619.5V453.5H61.5ZM61 453.5H66M620 453.5H615M61 407.5H66M620 407.5H615M61 361.5H66M620 361.5H615M61 315.5H66M620 315.5H615M61 269.5H66M620 269.5H615M61 222.5H66M620 222.5H615M61 176.5H66M620 176.5H615M61 130.5H66M620 130.5H615M61 84.5H66M620 84.5H615M61 38.5H66M620 38.5H615M61.5 454V449M61.5 38V43M71.5 454V451M71.5 38V41M81.5 454V451M81.5 38V41M91.5 454V451M91.5 38V41M101.5 454V451M101.5 38V41M111.5 454V451M111.5 38V41M121.5 454V451M121.5 38V41M131.5 454V451M131.5 38V41M141.5 454V449M141.5 38V43M151.5 454V451M151.5 38V41M161.5 454V451M161.5 38V41M171.5 454V451M171.5 38V41M181.5 454V451M181.5 38V41M191.5 454V451M191.5 38V41M201.5 454V451M201.5 38V41M211.5 454V451M211.5 38V41M221.5 454V449M221.5 38V43M231.5 454V451M231.5 38V41M241.5 454V451M241.5 38V41M251.5 454V451M251.5 38V41M260.5 454V451M260.5 38V41M270.5 454V451M270.5 38V41M280.5 454V451M280.5 38V41M290.5 454V451M290.5 38V41M300.5 454V449M300.5 38V43M310.5 454V451M310.5 38V41M320.5 454V451M320.5 38V41M330.5 454V451M330.5 38V41M340.5 454V451M340.5 38V41M350.5 454V451M350.5 38V41M360.5 454V451M360.5 38V41M370.5 454V451M370.5 38V41M380.5 454V449M380.5 38V43M390.5 454V451M390.5 38V41M400.5 454V451M400.5 38V41M410.5 454V451M410.5 38V41M420.5 454V451M420.5 38V41M430.5 454V451M430.5 38V41M440.5 454V451M440.5 38V41M450.5 454V451M450.5 38V41M460.5 454V449M460.5 38V43M470.5 454V451M470.5 38V41M480.5 454V451M480.5 38V41M490.5 454V451M490.5 38V41M500.5 454V451M500.5 38V41M509.5 454V451M509.5 38V41M519.5 454V451M519.5 38V41M529.5 454V451M529.5 38V41M539.5 454V449M539.5 38V43M549.5 454V451M549.5 38V41M559.5 454V451M559.5 38V41M569.5 454V451M569.5 38V41M579.5 454V451M579.5 38V41M589.5 454V451M589.5 38V41M599.5 454V451M599.5 38V41M609.5 454V451M609.5 38V41M619.5 454V449M619.5 38V43" stroke="#000" stroke-width="1" fill="none" shape-rendering="crispEdges"/>
<g shape-rendering="crispEdges" fill="none" stroke-width="1"><path d="M341 48.5H374M354 48.5h7M357.5 45v7" stroke="#f00"/><path d="M341 61.5H374" stroke="#00c000"/></g>
<g font-family="'Liberation Mono', 'DejaVu Sans Mono', monospace" font-weight="bold" font-size="12.1" fill="#000" stroke="#000" stroke-width="0.3" text-rendering="geometricPrecision">
<text x="112.2" y="23.0" textLength="455" lengthAdjust="spacingAndGlyphs">Benchmark runtime in s for insert_erase_associative-thread-malloc</text>
<text x="39.7" y="458.0" textLength="14" lengthAdjust="spacingAndGlyphs">90</text>
<text x="32.7" y="412.0" textLength="21" lengthAdjust="spacingAndGlyphs">100</text>
<text x="32.7" y="366.0" textLength="21" lengthAdjust="spacingAndGlyphs">110</text>
<text x="32.7" y="320.0" textLength="21" lengthAdjust="spacingAndGlyphs">120</text>
<text x="32.7" y="274.0" textLength="21" lengthAdjust="spacingAndGlyphs">130</text>
<text x="32.7" y="227.0" textLength="21" lengthAdjust="spacingAndGlyphs">140</text>
<text x="32.7" y="181.0" textLength="21" lengthAdjust="spacingAndGlyphs">150</text>
<text x="32.7" y="135.0" textLength="21" lengthAdjust="spacingAndGlyphs">160</text>
<text x="32.7" y="89.0" textLength="21" lengthAdjust="spacingAndGlyphs">170</text>
<text x="32.7" y="43.0" textLength="21" lengthAdjust="spacingAndGlyphs">180</text>
<text x="32.7" y="471.0" textLength="56" lengthAdjust="spacingAndGlyphs">01/01/06</text>
<text x="112.7" y="471.0" textLength="56" lengthAdjust="spacingAndGlyphs">01/01/08</text>
<text x="192.7" y="471.0" textLength="56" lengthAdjust="spacingAndGlyphs">01/01/10</text>
<text x="271.7" y="471.0" textLength="56" lengthAdjust="spacingAndGlyphs">01/01/12</text>
<text x="351.7" y="471.0" textLength="56" lengthAdjust="spacingAndGlyphs">01/01/14</text>
<text x="431.7" y="471.0" textLength="56" lengthAdjust="spacingAndGlyphs">01/01/16</text>
<text x="510.7" y="471.0" textLength="56" lengthAdjust="spacingAndGlyphs">01/01/18</text>
<text x="590.7" y="471.0" textLength="56" lengthAdjust="spacingAndGlyphs">01/01/20</text>
<text x="67.6" y="66.0" textLength="35" lengthAdjust="spacingAndGlyphs">4.1.0</text>
<text transform="translate(17.1 250.4) rotate(-90)" textLength="7" lengthAdjust="spacingAndGlyphs">s</text>
</g>
</svg>
</body></html>
